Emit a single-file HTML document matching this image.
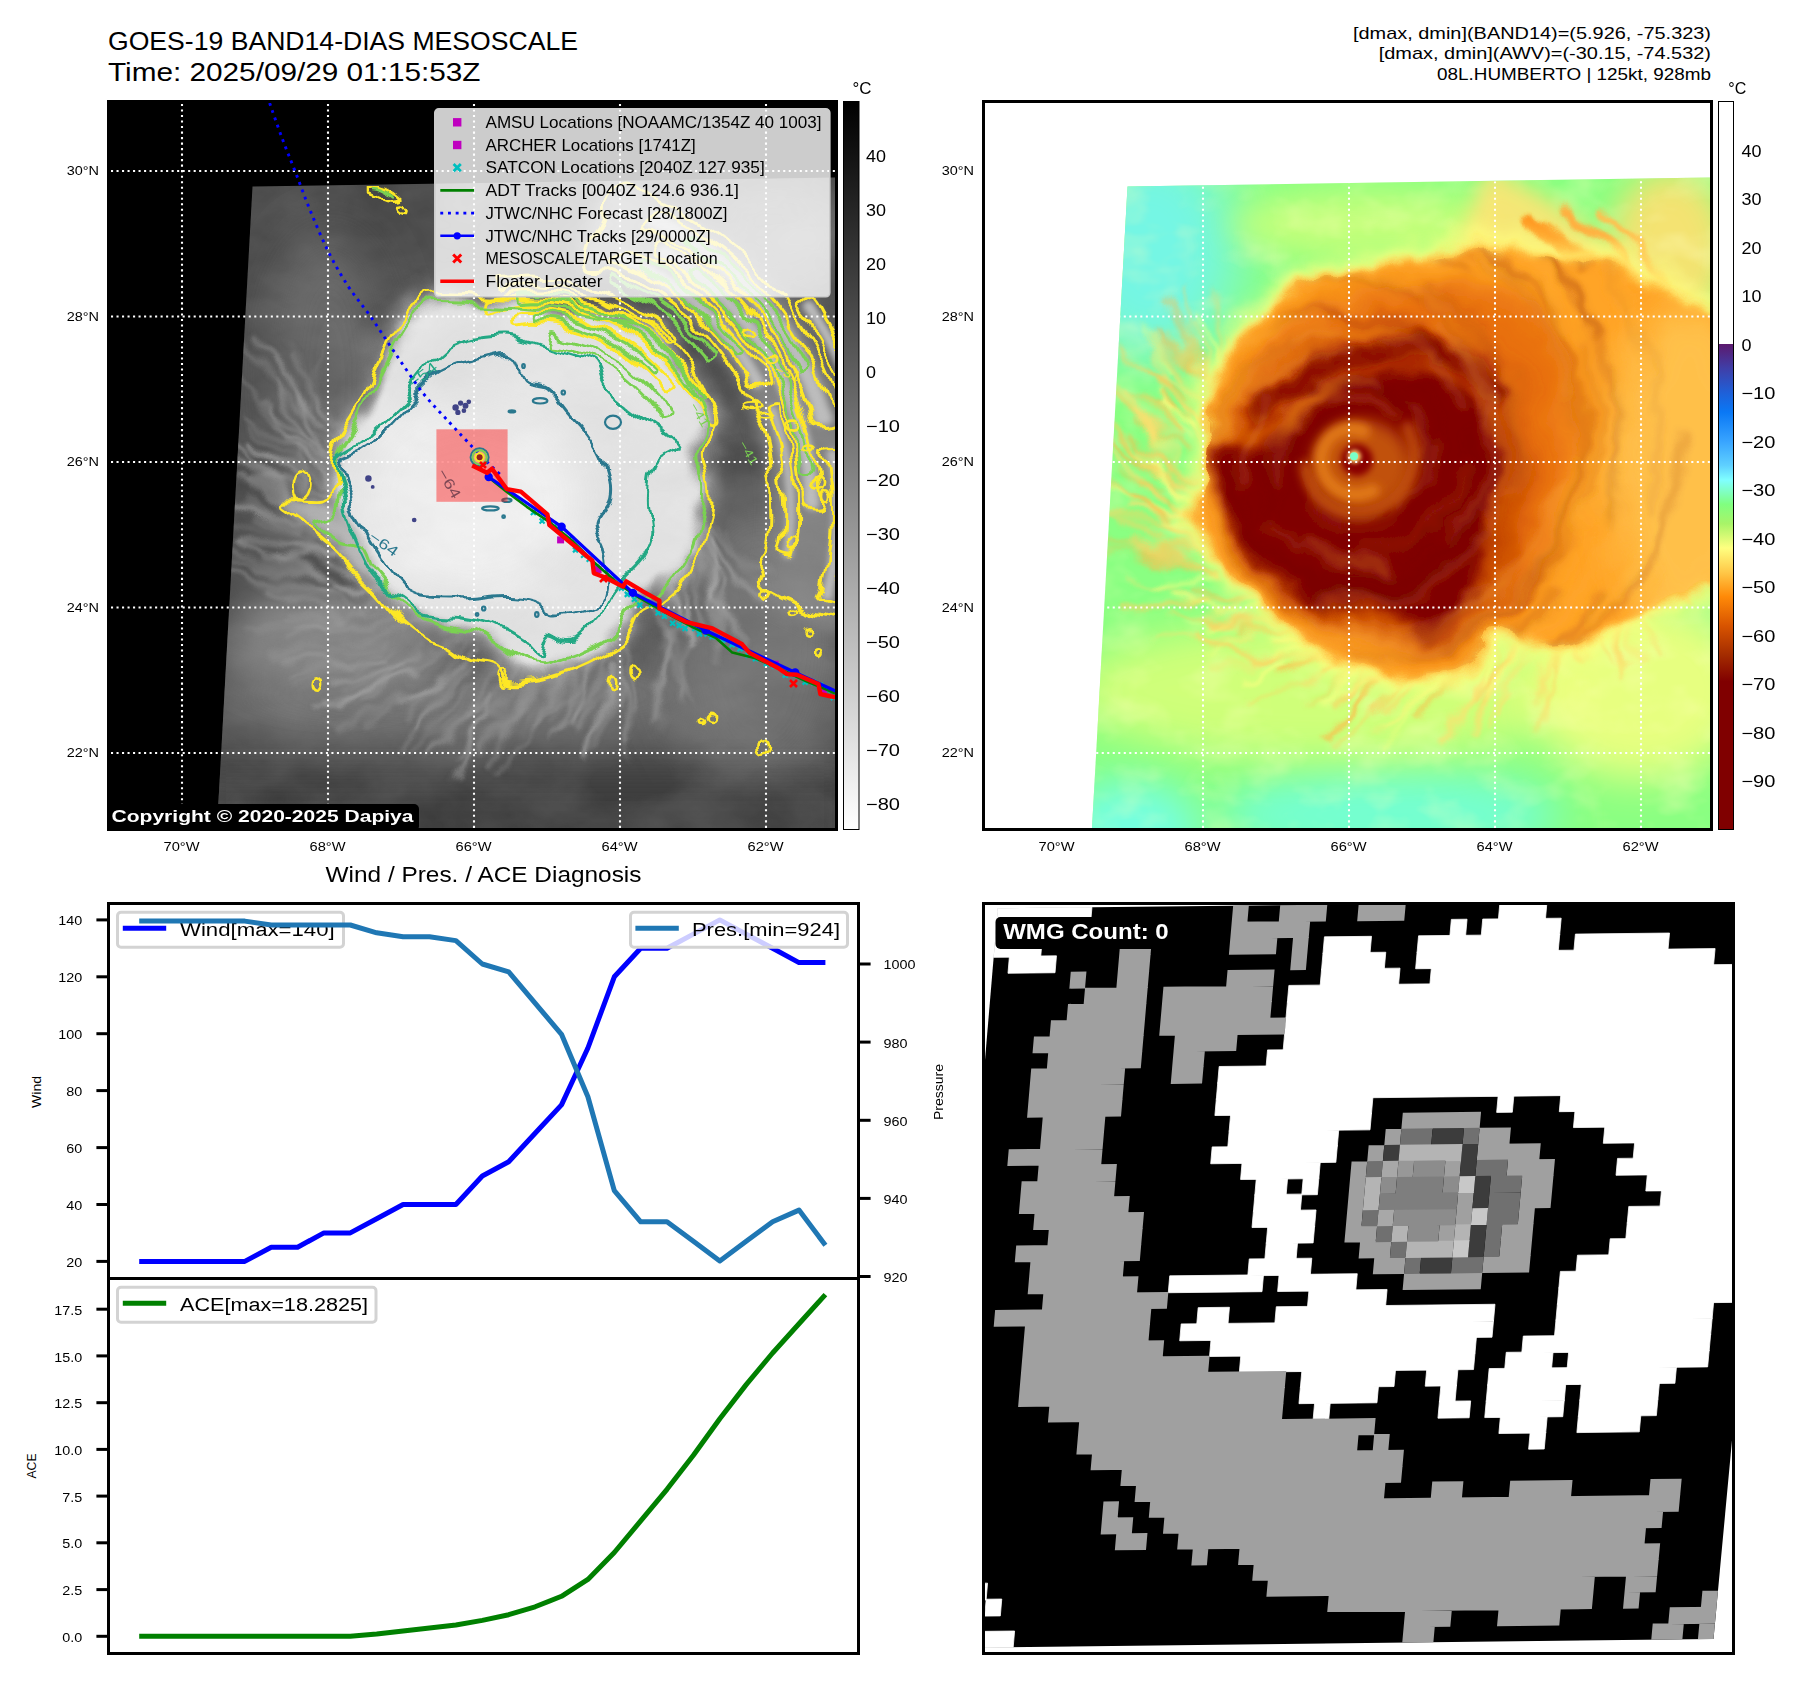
<!DOCTYPE html>
<html><head><meta charset="utf-8"><title>GOES-19 BAND14-DIAS MESOSCALE</title>
<style>
html,body{margin:0;padding:0;background:#fff;}
body{width:1801px;height:1690px;overflow:hidden;}
svg{display:block;position:absolute;left:0;top:0;}
text{font-family:"Liberation Sans",sans-serif;}
</style></head><body>
<svg width="1801" height="1690" viewBox="0 0 1801 1690">
<rect x="0" y="0" width="1801" height="1690" fill="#fff"/>

<defs>
<linearGradient id="cb1" x1="0" y1="0" x2="0" y2="1"><stop offset="0" stop-color="#000"/><stop offset="1" stop-color="#fff"/></linearGradient>
<linearGradient id="cb2" x1="0" y1="0" x2="0" y2="1"><stop offset="0.0000" stop-color="#ffffff"/><stop offset="0.3333" stop-color="#ffffff"/><stop offset="0.3333" stop-color="#5c1a6e"/><stop offset="0.3667" stop-color="#3f3fa8"/><stop offset="0.4000" stop-color="#1f60d8"/><stop offset="0.4267" stop-color="#0a78f5"/><stop offset="0.4667" stop-color="#38a4ff"/><stop offset="0.5000" stop-color="#5fd0ff"/><stop offset="0.5200" stop-color="#80ffff"/><stop offset="0.5533" stop-color="#80ff80"/><stop offset="0.5800" stop-color="#a8f468"/><stop offset="0.6133" stop-color="#ffff80"/><stop offset="0.6467" stop-color="#ffc848"/><stop offset="0.6800" stop-color="#ff8a08"/><stop offset="0.7200" stop-color="#d85400"/><stop offset="0.7600" stop-color="#a42c00"/><stop offset="0.7967" stop-color="#800000"/><stop offset="1.0000" stop-color="#800000"/></linearGradient>
<filter id="b1" x="-100%" y="-100%" width="300%" height="300%"><feGaussianBlur stdDeviation="1"/></filter>
<filter id="b2" x="-100%" y="-100%" width="300%" height="300%"><feGaussianBlur stdDeviation="2"/></filter>
<filter id="b3" x="-100%" y="-100%" width="300%" height="300%"><feGaussianBlur stdDeviation="3"/></filter>
<filter id="b4" x="-100%" y="-100%" width="300%" height="300%"><feGaussianBlur stdDeviation="4"/></filter>
<filter id="b5" x="-100%" y="-100%" width="300%" height="300%"><feGaussianBlur stdDeviation="5"/></filter>
<filter id="b6" x="-100%" y="-100%" width="300%" height="300%"><feGaussianBlur stdDeviation="6"/></filter>
<filter id="b8" x="-100%" y="-100%" width="300%" height="300%"><feGaussianBlur stdDeviation="8"/></filter>
<filter id="b10" x="-100%" y="-100%" width="300%" height="300%"><feGaussianBlur stdDeviation="10"/></filter>
<filter id="b12" x="-100%" y="-100%" width="300%" height="300%"><feGaussianBlur stdDeviation="12"/></filter>
<filter id="b16" x="-100%" y="-100%" width="300%" height="300%"><feGaussianBlur stdDeviation="16"/></filter>
<filter id="b20" x="-100%" y="-100%" width="300%" height="300%"><feGaussianBlur stdDeviation="20"/></filter>
<filter id="b28" x="-100%" y="-100%" width="300%" height="300%"><feGaussianBlur stdDeviation="28"/></filter>
</defs>
<text x="108" y="50" font-size="25.6" textLength="470" lengthAdjust="spacingAndGlyphs">GOES-19 BAND14-DIAS MESOSCALE</text>
<text x="108" y="80.5" font-size="25.6" textLength="372.5" lengthAdjust="spacingAndGlyphs">Time: 2025/09/29 01:15:53Z</text>
<text x="1711" y="38.8" font-size="17" text-anchor="end" textLength="358" lengthAdjust="spacingAndGlyphs">[dmax, dmin](BAND14)=(5.926, -75.323)</text>
<text x="1711" y="59.3" font-size="17" text-anchor="end" textLength="332.3" lengthAdjust="spacingAndGlyphs">[dmax, dmin](AWV)=(-30.15, -74.532)</text>
<text x="1711" y="80.3" font-size="17" text-anchor="end" textLength="274" lengthAdjust="spacingAndGlyphs">08L.HUMBERTO | 125kt, 928mb</text>
<g id="p1">
<clipPath id="c1"><rect x="110" y="103" width="725" height="725"/></clipPath>
<rect x="108" y="101" width="729" height="729" fill="#000"/>
<g clip-path="url(#c1)">
<defs>
<clipPath id="c1p"><polygon points="252.5,186.5 835,177.5 835,828 217,828"/></clipPath>
<filter id="cloud1" x="0" y="0" width="100%" height="100%"><feTurbulence type="fractalNoise" baseFrequency="0.012 0.02" numOctaves="4" seed="7" result="n"/><feColorMatrix in="n" type="matrix" values="0 0 0 0 0.5  0 0 0 0 0.5  0 0 0 0 0.5  0.9 0.9 0 0 -0.55"/></filter>
<filter id="wob1" filterUnits="userSpaceOnUse" x="190" y="150" width="680" height="720"><feTurbulence type="fractalNoise" baseFrequency="0.018" numOctaves="3" seed="9" result="t"/><feDisplacementMap in="SourceGraphic" in2="t" scale="30" xChannelSelector="R" yChannelSelector="G"/></filter>
</defs>
<g clip-path="url(#c1p)">
<rect x="205" y="170" width="640" height="670" fill="#464646"/>
<ellipse cx="470" cy="695" rx="270" ry="55" fill="#707070" filter="url(#b28)"/>
<ellipse cx="330" cy="640" rx="110" ry="50" fill="#808080" filter="url(#b20)"/>
<ellipse cx="760" cy="640" rx="90" ry="150" fill="#707070" filter="url(#b28)"/>
<ellipse cx="330" cy="380" rx="60" ry="150" fill="#646464" filter="url(#b28)"/>
<rect x="200" y="775" width="650" height="80" fill="#3e3e3e" filter="url(#b16)"/>
<ellipse cx="780" cy="240" rx="70" ry="60" fill="#6a6a6a" filter="url(#b20)"/>
<path d="M578.8,263.4C578.2,278.4 596.6,267.8 605.3,270.8C614.0,273.8 622.6,277.4 631.1,281.5C639.5,285.6 647.8,290.2 655.7,295.3C663.7,300.5 671.5,306.1 679.0,312.3C686.4,318.4 693.6,325.1 700.3,332.2C707.1,339.2 713.5,346.8 719.4,354.8C725.4,362.7 730.9,371.1 736.0,379.8C741.0,388.6 745.6,397.7 749.6,407.1C753.6,416.5 757.1,426.2 760.1,436.1C763.0,446.1 765.4,456.3 767.1,466.7C768.8,477.0 770.0,487.6 770.5,498.2C771.0,508.9 770.9,519.7 770.1,530.4C769.4,541.2 768.0,552.0 765.9,562.8C763.9,573.5 745.8,583.5 757.8,594.8C769.8,606.1 822.8,631.6 838.2,630.6C853.6,629.6 846.9,602.9 850.0,588.9C853.0,574.9 855.3,560.7 856.7,546.6C858.0,532.4 858.6,518.2 858.3,504.2C858.0,490.1 856.9,476.1 855.0,462.3C853.1,448.5 850.3,434.8 846.8,421.5C843.4,408.2 839.1,395.1 834.1,382.4C829.1,369.7 823.3,357.3 817.0,345.5C810.6,333.6 803.5,322.1 795.9,311.1C788.2,300.2 779.9,289.7 771.1,279.9C762.3,270.1 752.9,260.7 743.2,252.1C733.4,243.5 723.1,235.4 712.5,228.1C701.9,220.7 690.8,214.0 679.5,208.0C668.3,202.0 656.6,196.8 644.8,192.2C633.1,187.6 619.9,168.8 608.9,180.7C597.9,192.6 579.4,248.4 578.8,263.4Z" fill="#7e7e7e" filter="url(#b8)"/>
<g filter="url(#b3)">
<path d="M615.9,262.0C617.0,264.6 624.0,265.2 628.0,267.0C632.0,268.7 636.0,270.6 639.9,272.6C643.8,274.6 647.7,276.7 651.6,278.9C655.4,281.1 659.2,283.4 662.9,285.8C666.7,288.2 670.4,290.8 674.0,293.4C677.6,296.0 681.2,298.8 684.7,301.6C688.2,304.5 691.7,307.4 695.1,310.4C698.4,313.5 701.7,316.6 705.0,319.9C708.2,323.1 711.3,326.4 714.4,329.9C717.5,333.3 720.5,336.8 723.4,340.4C726.3,344.0 729.1,347.7 731.8,351.5C734.5,355.3 737.2,359.1 739.7,363.1C742.2,367.0 744.7,371.1 747.0,375.1C749.4,379.2 750.7,386.3 753.7,387.7C756.7,389.1 764.3,386.4 765.0,383.6C765.7,380.7 760.5,374.7 758.1,370.5C755.6,366.2 753.1,362.0 750.5,357.8C747.9,353.7 745.1,349.6 742.3,345.7C739.5,341.7 736.6,337.8 733.6,334.1C730.5,330.3 727.4,326.6 724.2,323.0C721.1,319.4 717.8,315.9 714.4,312.5C711.1,309.1 707.6,305.8 704.1,302.6C700.6,299.4 697.0,296.3 693.4,293.3C689.7,290.3 686.0,287.4 682.2,284.6C678.4,281.8 674.6,279.2 670.7,276.6C666.8,274.1 662.8,271.6 658.8,269.3C654.8,266.9 650.7,264.7 646.6,262.6C642.5,260.5 638.4,258.5 634.2,256.7C630.0,254.8 624.6,250.5 621.5,251.4C618.5,252.3 614.8,259.4 615.9,262.0Z" fill="#bdbdbd"/>
<path d="M656.4,256.6C658.1,260.2 668.4,263.3 674.2,267.1C680.0,270.8 685.7,274.8 691.2,279.0C696.8,283.2 702.2,287.6 707.5,292.2C712.7,296.9 717.9,301.8 722.8,306.8C727.7,311.9 732.5,317.2 737.1,322.7C741.6,328.1 746.0,333.8 750.2,339.7C754.4,345.5 758.4,351.6 762.1,357.8C765.9,364.0 769.5,370.3 772.8,376.9C776.1,383.4 779.1,390.1 782.0,396.9C784.8,403.7 787.4,410.6 789.7,417.7C792.0,424.7 794.1,431.9 795.9,439.2C797.7,446.4 799.2,453.8 800.5,461.2C801.7,468.7 802.7,476.2 803.4,483.8C804.1,491.3 802.1,502.6 804.6,506.6C807.1,510.7 816.4,511.6 818.5,507.9C820.7,504.1 818.1,491.9 817.4,484.0C816.7,476.0 815.7,468.2 814.4,460.4C813.2,452.6 811.6,444.9 809.7,437.3C807.9,429.6 805.8,422.1 803.4,414.7C801.0,407.3 798.3,400.0 795.4,392.9C792.5,385.8 789.3,378.7 785.9,371.9C782.4,365.1 778.7,358.4 774.8,351.8C770.9,345.3 766.8,339.0 762.4,332.8C758.1,326.7 753.5,320.7 748.7,314.9C744.0,309.2 739.0,303.6 733.8,298.2C728.7,292.9 723.4,287.8 717.9,282.9C712.4,278.0 706.7,273.3 700.9,268.8C695.1,264.4 689.1,260.2 683.1,256.2C677.0,252.3 668.9,245.1 664.5,245.1C660.0,245.2 654.8,252.9 656.4,256.6Z" fill="#bdbdbd"/>
<path d="M647.0,225.4C648.4,229.0 658.2,230.5 663.7,233.4C669.1,236.3 674.6,239.3 679.9,242.5C685.2,245.7 690.5,249.1 695.6,252.7C700.8,256.3 705.8,260.0 710.8,263.9C715.7,267.8 720.6,271.9 725.3,276.1C730.0,280.4 734.6,284.8 739.1,289.3C743.5,293.9 747.9,298.6 752.1,303.5C756.3,308.3 760.4,313.4 764.3,318.5C768.2,323.7 772.0,328.9 775.6,334.4C779.2,339.8 782.6,345.3 785.9,351.0C789.2,356.7 792.3,362.5 795.2,368.4C798.1,374.3 800.9,380.3 803.5,386.4C806.0,392.5 808.4,398.7 810.6,405.0C812.8,411.3 813.0,421.4 816.6,424.2C820.2,426.9 830.8,425.2 832.4,421.4C834.0,417.6 828.4,407.9 826.2,401.3C823.9,394.6 821.4,388.1 818.8,381.7C816.1,375.3 813.2,368.9 810.2,362.7C807.1,356.5 803.9,350.4 800.5,344.4C797.1,338.5 793.5,332.6 789.7,326.9C785.9,321.2 782.0,315.6 777.9,310.2C773.8,304.7 769.6,299.4 765.2,294.3C760.8,289.2 756.3,284.2 751.6,279.4C746.9,274.6 742.1,269.9 737.1,265.4C732.2,260.9 727.1,256.6 721.9,252.5C716.8,248.3 711.5,244.3 706.1,240.6C700.7,236.8 695.1,233.2 689.6,229.8C684.0,226.3 678.3,223.1 672.5,220.1C666.8,217.0 659.3,210.6 655.0,211.5C650.7,212.4 645.6,221.7 647.0,225.4Z" fill="#bdbdbd"/>
<path d="M767.3,408.4C766.6,410.3 769.8,414.9 771.0,418.2C772.1,421.4 773.2,424.8 774.2,428.1C775.3,431.5 776.2,434.8 777.2,438.2C778.1,441.6 778.9,445.0 779.7,448.5C780.5,451.9 781.2,455.4 781.9,458.9C782.5,462.4 783.1,465.9 783.6,469.4C784.1,472.9 784.6,476.4 785.0,480.0C785.4,483.6 785.7,487.1 786.0,490.7C786.2,494.3 786.4,497.9 786.6,501.5C786.7,505.1 786.7,508.7 786.7,512.3C786.7,515.9 786.6,519.6 786.5,523.2C786.3,526.8 786.1,530.4 785.8,534.1C785.5,537.7 785.2,541.4 784.7,545.0C784.3,548.6 782.2,553.7 783.3,555.9C784.3,558.1 789.4,559.5 791.0,558.0C792.5,556.4 792.1,550.5 792.5,546.8C793.0,543.0 793.4,539.3 793.7,535.6C794.0,531.8 794.2,528.1 794.4,524.4C794.6,520.6 794.6,516.9 794.7,513.2C794.7,509.5 794.6,505.8 794.5,502.1C794.4,498.4 794.2,494.7 794.0,491.0C793.7,487.3 793.4,483.7 793.0,480.0C792.6,476.3 792.1,472.7 791.6,469.1C791.1,465.5 790.5,461.9 789.8,458.3C789.2,454.7 788.4,451.1 787.6,447.6C786.9,444.0 786.0,440.5 785.1,437.0C784.1,433.5 783.2,430.1 782.1,426.6C781.1,423.2 779.9,419.8 778.8,416.4C777.6,413.0 777.0,407.6 775.0,406.3C773.1,405.0 768.0,406.4 767.3,408.4Z" fill="#bdbdbd"/>
<path d="M827.0,451.4C825.6,453.2 828.2,458.1 828.7,461.5C829.2,464.9 829.7,468.3 830.1,471.8C830.5,475.2 830.9,478.6 831.2,482.1C831.5,485.5 831.7,489.0 831.9,492.4C832.1,495.9 832.3,499.4 832.4,502.8C832.5,506.3 832.5,509.8 832.5,513.3C832.5,516.8 832.4,520.2 832.3,523.7C832.1,527.2 831.9,530.7 831.7,534.2C831.5,537.7 831.2,541.2 830.8,544.7C830.5,548.2 830.1,551.7 829.6,555.2C829.1,558.7 828.6,562.2 828.0,565.7C827.5,569.2 826.8,572.7 826.2,576.2C825.5,579.6 824.7,583.1 823.9,586.6C823.1,590.1 820.2,594.7 821.4,597.0C822.5,599.3 828.8,601.6 830.8,600.4C832.8,599.2 832.6,593.3 833.4,589.7C834.3,586.2 835.0,582.6 835.7,579.0C836.5,575.4 837.1,571.8 837.7,568.2C838.3,564.6 838.9,561.1 839.3,557.5C839.8,553.9 840.3,550.3 840.6,546.7C841.0,543.1 841.3,539.4 841.6,535.8C841.8,532.2 842.0,528.6 842.2,525.0C842.3,521.5 842.4,517.9 842.4,514.3C842.5,510.7 842.4,507.1 842.4,503.5C842.3,499.9 842.1,496.4 841.9,492.8C841.7,489.2 841.5,485.7 841.2,482.1C840.9,478.6 840.5,475.0 840.1,471.5C839.7,468.0 839.2,464.5 838.7,461.0C838.2,457.5 838.9,452.1 837.0,450.5C835.0,448.9 828.4,449.6 827.0,451.4Z" fill="#bdbdbd"/>
<path d="M801.8,305.8C801.8,309.1 808.4,315.4 811.5,320.3C814.6,325.2 817.6,330.3 820.5,335.4C823.4,340.5 826.2,345.7 828.8,351.0C831.4,356.2 833.9,361.6 836.3,367.0C838.7,372.4 840.9,377.9 843.0,383.5C845.1,389.0 847.1,394.7 849.0,400.4C850.8,406.0 852.5,411.8 854.0,417.6C855.6,423.4 857.0,429.2 858.3,435.1C859.5,441.0 860.7,446.9 861.6,452.9C862.6,458.9 863.4,464.9 864.1,470.9C864.8,477.0 865.3,483.0 865.7,489.1C866.0,495.2 866.3,501.3 866.3,507.5C866.4,513.6 866.3,519.7 866.1,525.9C865.8,532.0 863.3,540.9 864.9,544.3C866.5,547.7 873.7,549.1 875.7,546.2C877.7,543.4 876.7,533.6 877.0,527.2C877.2,520.9 877.4,514.6 877.3,508.3C877.2,502.0 877.0,495.7 876.7,489.4C876.3,483.1 875.8,476.9 875.1,470.6C874.4,464.4 873.6,458.2 872.6,452.1C871.6,445.9 870.5,439.8 869.2,433.7C867.9,427.7 866.5,421.6 864.9,415.7C863.3,409.7 861.6,403.8 859.7,397.9C857.8,392.0 855.8,386.2 853.6,380.5C851.5,374.8 849.2,369.1 846.7,363.5C844.3,357.9 841.7,352.4 839.0,346.9C836.3,341.5 833.5,336.1 830.6,330.8C827.6,325.6 824.5,320.4 821.3,315.3C818.1,310.2 814.6,301.8 811.3,300.2C808.1,298.7 801.8,302.4 801.8,305.8Z" fill="#bdbdbd"/>
<path d="M853.3,351.4C853.2,353.5 856.6,358.5 858.1,362.2C859.6,365.8 861.1,369.4 862.5,373.1C864.0,376.8 865.3,380.5 866.6,384.2C868.0,387.9 869.2,391.7 870.4,395.5C871.6,399.2 872.7,403.0 873.8,406.9C874.9,410.7 875.9,414.5 876.9,418.4C877.9,422.2 878.8,426.1 879.6,430.0C880.4,433.9 881.2,437.8 881.9,441.8C882.7,445.7 883.3,449.7 883.9,453.6C884.5,457.6 885.1,461.6 885.6,465.6C886.0,469.6 886.4,473.6 886.8,477.6C887.1,481.6 887.4,485.6 887.7,489.7C887.9,493.7 888.1,497.7 888.2,501.8C888.3,505.8 887.3,511.9 888.3,514.0C889.3,516.1 893.3,516.5 894.2,514.5C895.2,512.5 894.2,506.2 894.1,502.1C894.1,498.0 893.9,493.9 893.7,489.8C893.4,485.7 893.1,481.6 892.8,477.6C892.4,473.5 892.0,469.4 891.5,465.3C891.1,461.3 890.5,457.3 889.9,453.2C889.3,449.2 888.6,445.2 887.9,441.2C887.2,437.2 886.4,433.2 885.5,429.2C884.7,425.3 883.8,421.3 882.8,417.4C881.8,413.5 880.8,409.6 879.7,405.7C878.6,401.8 877.5,398.0 876.3,394.1C875.0,390.3 873.8,386.5 872.4,382.7C871.1,378.9 869.7,375.1 868.3,371.4C866.8,367.7 865.3,364.0 863.8,360.3C862.2,356.6 860.7,350.8 859.0,349.3C857.2,347.9 853.5,349.3 853.3,351.4Z" fill="#bdbdbd"/>
</g>
<g filter="url(#wob1)">
<g filter="url(#b2)" stroke-linecap="round" fill="none">
<path d="M419,656L345,704" stroke="rgb(161,161,161)" stroke-width="5.6" opacity="0.51"/>
<path d="M439,686L333,727" stroke="rgb(140,140,140)" stroke-width="5.9" opacity="0.51"/>
<path d="M501,697L453,757" stroke="rgb(139,139,139)" stroke-width="4.3" opacity="0.66"/>
<path d="M321,582L231,551" stroke="rgb(137,137,137)" stroke-width="5.7" opacity="0.52"/>
<path d="M382,590L328,562" stroke="rgb(138,138,138)" stroke-width="6.0" opacity="0.70"/>
<path d="M702,550L736,628" stroke="rgb(152,152,152)" stroke-width="3.5" opacity="0.30"/>
<path d="M455,651L409,687" stroke="rgb(127,127,127)" stroke-width="5.6" opacity="0.45"/>
<path d="M383,637L308,680" stroke="rgb(125,125,125)" stroke-width="2.9" opacity="0.43"/>
<path d="M699,543L724,581" stroke="rgb(161,161,161)" stroke-width="3.9" opacity="0.54"/>
<path d="M322,546L254,502" stroke="rgb(151,151,151)" stroke-width="2.7" opacity="0.49"/>
<path d="M551,687L491,718" stroke="rgb(120,120,120)" stroke-width="5.8" opacity="0.55"/>
<path d="M329,594L224,570" stroke="rgb(151,151,151)" stroke-width="5.1" opacity="0.49"/>
<path d="M342,614L246,632" stroke="rgb(137,137,137)" stroke-width="4.0" opacity="0.50"/>
<path d="M635,664L630,763" stroke="rgb(121,121,121)" stroke-width="5.2" opacity="0.43"/>
<path d="M339,442L273,359" stroke="rgb(140,140,140)" stroke-width="4.7" opacity="0.41"/>
<path d="M383,642L271,659" stroke="rgb(147,147,147)" stroke-width="5.8" opacity="0.43"/>
<path d="M386,615L289,632" stroke="rgb(122,122,122)" stroke-width="5.5" opacity="0.55"/>
<path d="M362,576L320,566" stroke="rgb(157,157,157)" stroke-width="2.8" opacity="0.35"/>
<path d="M334,497L265,480" stroke="rgb(163,163,163)" stroke-width="5.2" opacity="0.53"/>
<path d="M316,411L321,348" stroke="rgb(146,146,146)" stroke-width="2.6" opacity="0.34"/>
<path d="M319,503L239,460" stroke="rgb(133,133,133)" stroke-width="5.3" opacity="0.39"/>
<path d="M688,576L718,663" stroke="rgb(175,175,175)" stroke-width="3.6" opacity="0.31"/>
<path d="M351,625L257,634" stroke="rgb(138,138,138)" stroke-width="4.7" opacity="0.43"/>
<path d="M681,583L693,641" stroke="rgb(148,148,148)" stroke-width="3.4" opacity="0.65"/>
<path d="M442,679L397,705" stroke="rgb(153,153,153)" stroke-width="3.0" opacity="0.62"/>
<path d="M439,655L379,700" stroke="rgb(121,121,121)" stroke-width="2.6" opacity="0.36"/>
<path d="M674,626L662,686" stroke="rgb(172,172,172)" stroke-width="2.5" opacity="0.48"/>
<path d="M544,659L519,732" stroke="rgb(122,122,122)" stroke-width="3.5" opacity="0.46"/>
<path d="M694,523L763,572" stroke="rgb(144,144,144)" stroke-width="3.7" opacity="0.62"/>
<path d="M700,533L757,600" stroke="rgb(170,170,170)" stroke-width="5.7" opacity="0.55"/>
<path d="M319,576L242,542" stroke="rgb(175,175,175)" stroke-width="5.6" opacity="0.47"/>
<path d="M335,527L252,481" stroke="rgb(160,160,160)" stroke-width="4.0" opacity="0.54"/>
<path d="M359,588L287,575" stroke="rgb(126,126,126)" stroke-width="3.8" opacity="0.48"/>
<path d="M621,668L607,708" stroke="rgb(141,141,141)" stroke-width="4.2" opacity="0.37"/>
<path d="M517,687L489,716" stroke="rgb(153,153,153)" stroke-width="3.9" opacity="0.36"/>
<path d="M315,464L242,415" stroke="rgb(126,126,126)" stroke-width="5.6" opacity="0.51"/>
<path d="M547,676L476,751" stroke="rgb(151,151,151)" stroke-width="3.2" opacity="0.64"/>
<path d="M688,633L683,705" stroke="rgb(163,163,163)" stroke-width="3.3" opacity="0.40"/>
<path d="M605,677L558,735" stroke="rgb(139,139,139)" stroke-width="5.6" opacity="0.62"/>
<path d="M658,618L684,699" stroke="rgb(158,158,158)" stroke-width="4.0" opacity="0.50"/>
<path d="M559,680L523,720" stroke="rgb(135,135,135)" stroke-width="4.4" opacity="0.41"/>
<path d="M312,525L238,475" stroke="rgb(141,141,141)" stroke-width="5.4" opacity="0.40"/>
<path d="M733,534L752,586" stroke="rgb(133,133,133)" stroke-width="2.6" opacity="0.59"/>
<path d="M706,549L718,619" stroke="rgb(147,147,147)" stroke-width="5.4" opacity="0.57"/>
<path d="M333,535L233,507" stroke="rgb(154,154,154)" stroke-width="4.4" opacity="0.60"/>
<path d="M380,601L292,640" stroke="rgb(147,147,147)" stroke-width="4.6" opacity="0.59"/>
<path d="M540,651L494,695" stroke="rgb(149,149,149)" stroke-width="5.3" opacity="0.45"/>
<path d="M594,647L567,702" stroke="rgb(139,139,139)" stroke-width="3.1" opacity="0.68"/>
<path d="M524,686L489,765" stroke="rgb(129,129,129)" stroke-width="5.7" opacity="0.56"/>
<path d="M526,654L492,718" stroke="rgb(130,130,130)" stroke-width="4.0" opacity="0.66"/>
<path d="M366,606L313,590" stroke="rgb(159,159,159)" stroke-width="3.2" opacity="0.43"/>
<path d="M324,597L256,566" stroke="rgb(142,142,142)" stroke-width="3.1" opacity="0.41"/>
<path d="M332,598L291,594" stroke="rgb(121,121,121)" stroke-width="5.7" opacity="0.61"/>
<path d="M438,650L360,683" stroke="rgb(159,159,159)" stroke-width="3.2" opacity="0.31"/>
<path d="M299,536L225,499" stroke="rgb(147,147,147)" stroke-width="3.8" opacity="0.62"/>
<path d="M561,688L497,773" stroke="rgb(129,129,129)" stroke-width="4.9" opacity="0.50"/>
<path d="M611,661L604,752" stroke="rgb(133,133,133)" stroke-width="4.3" opacity="0.56"/>
<path d="M685,600L691,649" stroke="rgb(173,173,173)" stroke-width="5.3" opacity="0.69"/>
<path d="M668,577L678,626" stroke="rgb(149,149,149)" stroke-width="4.2" opacity="0.58"/>
<path d="M560,662L550,722" stroke="rgb(132,132,132)" stroke-width="5.4" opacity="0.36"/>
<path d="M624,664L614,702" stroke="rgb(143,143,143)" stroke-width="3.9" opacity="0.61"/>
<path d="M335,598L254,582" stroke="rgb(126,126,126)" stroke-width="2.6" opacity="0.52"/>
<path d="M580,685L552,740" stroke="rgb(152,152,152)" stroke-width="2.9" opacity="0.43"/>
<path d="M651,590L679,680" stroke="rgb(121,121,121)" stroke-width="5.0" opacity="0.64"/>
<path d="M426,646L349,687" stroke="rgb(137,137,137)" stroke-width="5.2" opacity="0.50"/>
<path d="M700,559L739,645" stroke="rgb(166,166,166)" stroke-width="4.3" opacity="0.47"/>
<path d="M672,597L658,648" stroke="rgb(131,131,131)" stroke-width="5.6" opacity="0.44"/>
<path d="M550,677L519,711" stroke="rgb(143,143,143)" stroke-width="5.2" opacity="0.66"/>
<path d="M315,577L238,563" stroke="rgb(152,152,152)" stroke-width="5.8" opacity="0.39"/>
<path d="M382,588L335,592" stroke="rgb(161,161,161)" stroke-width="4.3" opacity="0.50"/>
<path d="M621,664L580,724" stroke="rgb(172,172,172)" stroke-width="3.3" opacity="0.37"/>
<path d="M298,505L229,438" stroke="rgb(171,171,171)" stroke-width="3.7" opacity="0.55"/>
<path d="M380,650L293,680" stroke="rgb(163,163,163)" stroke-width="2.5" opacity="0.48"/>
<path d="M293,467L212,434" stroke="rgb(133,133,133)" stroke-width="4.8" opacity="0.37"/>
<path d="M427,620L347,642" stroke="rgb(141,141,141)" stroke-width="5.0" opacity="0.66"/>
<path d="M619,653L632,744" stroke="rgb(147,147,147)" stroke-width="5.6" opacity="0.58"/>
<path d="M712,546L714,598" stroke="rgb(169,169,169)" stroke-width="5.8" opacity="0.62"/>
<path d="M562,643L543,676" stroke="rgb(157,157,157)" stroke-width="2.9" opacity="0.37"/>
<path d="M709,584L715,629" stroke="rgb(167,167,167)" stroke-width="3.7" opacity="0.48"/>
<path d="M490,699L451,779" stroke="rgb(159,159,159)" stroke-width="4.9" opacity="0.62"/>
<path d="M334,583L265,558" stroke="rgb(157,157,157)" stroke-width="3.1" opacity="0.33"/>
<path d="M333,554L245,539" stroke="rgb(146,146,146)" stroke-width="5.9" opacity="0.61"/>
<path d="M418,671L316,712" stroke="rgb(167,167,167)" stroke-width="4.1" opacity="0.53"/>
<path d="M344,617L265,587" stroke="rgb(164,164,164)" stroke-width="5.7" opacity="0.38"/>
<path d="M676,609L658,683" stroke="rgb(145,145,145)" stroke-width="3.8" opacity="0.30"/>
<path d="M695,560L701,626" stroke="rgb(144,144,144)" stroke-width="4.6" opacity="0.50"/>
<path d="M346,542L310,521" stroke="rgb(127,127,127)" stroke-width="3.8" opacity="0.38"/>
<path d="M534,665L498,716" stroke="rgb(127,127,127)" stroke-width="3.6" opacity="0.57"/>
<path d="M344,424L289,354" stroke="rgb(175,175,175)" stroke-width="2.7" opacity="0.41"/>
<path d="M335,477L285,431" stroke="rgb(153,153,153)" stroke-width="2.6" opacity="0.60"/>
<path d="M380,640L284,651" stroke="rgb(122,122,122)" stroke-width="3.9" opacity="0.36"/>
<path d="M295,509L249,461" stroke="rgb(135,135,135)" stroke-width="3.7" opacity="0.54"/>
<path d="M334,548L248,506" stroke="rgb(143,143,143)" stroke-width="5.8" opacity="0.38"/>
<path d="M368,612L305,596" stroke="rgb(136,136,136)" stroke-width="3.5" opacity="0.45"/>
<path d="M540,667L496,707" stroke="rgb(134,134,134)" stroke-width="5.1" opacity="0.34"/>
<path d="M726,580L716,648" stroke="rgb(157,157,157)" stroke-width="4.2" opacity="0.65"/>
<path d="M418,672L327,703" stroke="rgb(162,162,162)" stroke-width="3.8" opacity="0.55"/>
<path d="M314,545L260,524" stroke="rgb(157,157,157)" stroke-width="3.9" opacity="0.46"/>
<path d="M299,471L273,405" stroke="rgb(155,155,155)" stroke-width="3.1" opacity="0.60"/>
<path d="M493,697L411,746" stroke="rgb(126,126,126)" stroke-width="5.5" opacity="0.48"/>
<path d="M696,566L743,640" stroke="rgb(172,172,172)" stroke-width="2.6" opacity="0.48"/>
<path d="M490,668L439,737" stroke="rgb(123,123,123)" stroke-width="3.1" opacity="0.69"/>
<path d="M613,663L590,761" stroke="rgb(174,174,174)" stroke-width="5.5" opacity="0.64"/>
<path d="M317,454L306,396" stroke="rgb(170,170,170)" stroke-width="5.0" opacity="0.54"/>
<path d="M340,424L283,341" stroke="rgb(132,132,132)" stroke-width="2.5" opacity="0.36"/>
<path d="M419,647L337,703" stroke="rgb(122,122,122)" stroke-width="2.6" opacity="0.59"/>
<path d="M303,455L234,369" stroke="rgb(165,165,165)" stroke-width="3.3" opacity="0.37"/>
<path d="M331,565L290,547" stroke="rgb(174,174,174)" stroke-width="3.6" opacity="0.32"/>
<path d="M670,591L687,630" stroke="rgb(167,167,167)" stroke-width="6.0" opacity="0.66"/>
<path d="M340,555L279,547" stroke="rgb(157,157,157)" stroke-width="2.9" opacity="0.38"/>
<path d="M324,486L244,424" stroke="rgb(133,133,133)" stroke-width="2.7" opacity="0.65"/>
<path d="M455,651L400,671" stroke="rgb(126,126,126)" stroke-width="4.5" opacity="0.58"/>
<path d="M392,651L336,679" stroke="rgb(147,147,147)" stroke-width="3.4" opacity="0.55"/>
<path d="M310,447L278,381" stroke="rgb(149,149,149)" stroke-width="3.8" opacity="0.69"/>
<path d="M541,675L475,748" stroke="rgb(155,155,155)" stroke-width="3.9" opacity="0.37"/>
<path d="M473,654L416,727" stroke="rgb(154,154,154)" stroke-width="3.7" opacity="0.61"/>
<path d="M447,678L365,725" stroke="rgb(159,159,159)" stroke-width="2.9" opacity="0.50"/>
<path d="M318,486L268,456" stroke="rgb(151,151,151)" stroke-width="4.0" opacity="0.56"/>
<path d="M335,476L293,435" stroke="rgb(163,163,163)" stroke-width="4.0" opacity="0.43"/>
<path d="M603,671L572,714" stroke="rgb(130,130,130)" stroke-width="5.3" opacity="0.68"/>
<path d="M572,651L529,726" stroke="rgb(171,171,171)" stroke-width="4.6" opacity="0.44"/>
<path d="M336,425L321,395" stroke="rgb(155,155,155)" stroke-width="3.7" opacity="0.45"/>
<path d="M439,654L367,681" stroke="rgb(131,131,131)" stroke-width="5.0" opacity="0.38"/>
<path d="M474,669L423,702" stroke="rgb(134,134,134)" stroke-width="4.8" opacity="0.41"/>
<path d="M334,495L292,445" stroke="rgb(149,149,149)" stroke-width="4.5" opacity="0.69"/>
<path d="M328,445L300,403" stroke="rgb(124,124,124)" stroke-width="3.5" opacity="0.59"/>
<path d="M627,615L633,706" stroke="rgb(150,150,150)" stroke-width="3.8" opacity="0.59"/>
<path d="M326,421L260,344" stroke="rgb(163,163,163)" stroke-width="4.1" opacity="0.53"/>
<path d="M660,625L665,727" stroke="rgb(120,120,120)" stroke-width="2.7" opacity="0.69"/>
<path d="M601,657L582,727" stroke="rgb(141,141,141)" stroke-width="4.3" opacity="0.55"/>
<path d="M538,676L501,734" stroke="rgb(150,150,150)" stroke-width="5.9" opacity="0.50"/>
<path d="M671,571L665,615" stroke="rgb(159,159,159)" stroke-width="4.1" opacity="0.53"/>
<path d="M458,669L410,702" stroke="rgb(169,169,169)" stroke-width="3.7" opacity="0.62"/>
<path d="M451,648L366,700" stroke="rgb(163,163,163)" stroke-width="3.3" opacity="0.47"/>
<path d="M465,673L412,703" stroke="rgb(127,127,127)" stroke-width="5.2" opacity="0.39"/>
<path d="M468,646L405,718" stroke="rgb(164,164,164)" stroke-width="3.3" opacity="0.39"/>
<path d="M570,657L544,708" stroke="rgb(146,146,146)" stroke-width="5.4" opacity="0.55"/>
<path d="M314,534L259,479" stroke="rgb(136,136,136)" stroke-width="3.1" opacity="0.51"/>
<path d="M376,650L297,687" stroke="rgb(136,136,136)" stroke-width="2.5" opacity="0.63"/>
<path d="M468,690L428,730" stroke="rgb(169,169,169)" stroke-width="2.6" opacity="0.40"/>
<path d="M572,688L535,723" stroke="rgb(175,175,175)" stroke-width="2.7" opacity="0.41"/>
<path d="M722,530L759,588" stroke="rgb(127,127,127)" stroke-width="4.9" opacity="0.45"/>
<path d="M571,642L563,730" stroke="rgb(157,157,157)" stroke-width="4.8" opacity="0.41"/>
<path d="M366,590L328,587" stroke="rgb(165,165,165)" stroke-width="4.8" opacity="0.68"/>
<path d="M462,642L427,660" stroke="rgb(133,133,133)" stroke-width="4.3" opacity="0.64"/>
<path d="M291,512L237,477" stroke="rgb(153,153,153)" stroke-width="5.5" opacity="0.41"/>
<path d="M344,499L299,451" stroke="rgb(161,161,161)" stroke-width="4.2" opacity="0.40"/>
<path d="M362,553L278,556" stroke="rgb(165,165,165)" stroke-width="5.7" opacity="0.58"/>
<path d="M381,611L323,608" stroke="rgb(148,148,148)" stroke-width="2.8" opacity="0.49"/>
<path d="M386,660L283,664" stroke="rgb(164,164,164)" stroke-width="3.0" opacity="0.63"/>
<path d="M466,675L398,744" stroke="rgb(167,167,167)" stroke-width="2.7" opacity="0.48"/>
<path d="M309,546L233,524" stroke="rgb(138,138,138)" stroke-width="4.2" opacity="0.36"/>
<path d="M583,653L575,722" stroke="rgb(168,168,168)" stroke-width="3.0" opacity="0.65"/>
<path d="M691,515L769,571" stroke="rgb(145,145,145)" stroke-width="2.6" opacity="0.33"/>
<path d="M500,662L466,715" stroke="rgb(153,153,153)" stroke-width="3.0" opacity="0.65"/>
<path d="M667,630L659,716" stroke="rgb(161,161,161)" stroke-width="5.1" opacity="0.61"/>
<path d="M353,632L274,660" stroke="rgb(136,136,136)" stroke-width="4.5" opacity="0.57"/>
<path d="M617,680L598,754" stroke="rgb(130,130,130)" stroke-width="4.3" opacity="0.41"/>
<path d="M299,484L246,441" stroke="rgb(160,160,160)" stroke-width="5.4" opacity="0.69"/>
<path d="M357,622L295,616" stroke="rgb(144,144,144)" stroke-width="4.0" opacity="0.49"/>
<path d="M657,624L696,706" stroke="rgb(134,134,134)" stroke-width="4.0" opacity="0.47"/>
<path d="M491,696L428,751" stroke="rgb(157,157,157)" stroke-width="4.7" opacity="0.59"/>
<path d="M406,666L330,681" stroke="rgb(162,162,162)" stroke-width="4.7" opacity="0.61"/>
<path d="M371,647L317,660" stroke="rgb(145,145,145)" stroke-width="4.6" opacity="0.31"/>
<path d="M328,460L263,398" stroke="rgb(150,150,150)" stroke-width="3.8" opacity="0.61"/>
<path d="M286,495L222,450" stroke="rgb(156,156,156)" stroke-width="6.0" opacity="0.47"/>
<path d="M304,409L234,339" stroke="rgb(140,140,140)" stroke-width="3.7" opacity="0.55"/>
<path d="M395,620L300,631" stroke="rgb(165,165,165)" stroke-width="4.5" opacity="0.32"/>
<path d="M377,625L290,622" stroke="rgb(138,138,138)" stroke-width="5.8" opacity="0.60"/>
<path d="M670,626L690,698" stroke="rgb(141,141,141)" stroke-width="3.7" opacity="0.50"/>
</g>
<path d="M430.7,303.0C418.0,304.9 419.1,310.7 414.2,316.3C409.2,321.8 405.3,328.4 400.9,336.1C396.5,343.9 391.5,354.9 387.7,362.7C383.8,370.4 381.0,375.4 377.7,382.5C374.4,389.7 371.6,398.0 367.8,405.7C363.9,413.5 358.9,421.7 354.5,428.9C350.1,436.1 344.6,442.2 341.3,448.8C338.0,455.4 334.9,461.0 334.6,468.7C334.4,476.4 336.9,486.4 339.6,495.2C342.4,504.0 347.1,512.9 351.2,521.7C355.4,530.5 360.6,540.5 364.5,548.2C368.3,555.9 370.5,562.0 374.4,568.1C378.3,574.2 383.2,578.6 387.7,584.7C392.1,590.7 394.8,599.0 400.9,604.5C407.0,610.1 416.4,614.5 424.1,617.8C431.8,621.1 439.0,622.2 447.3,624.4C455.6,626.6 465.0,627.2 473.8,631.0C482.6,634.9 492.6,642.6 500.3,647.6C508.0,652.6 512.5,658.1 520.2,660.9C527.9,663.6 536.8,665.6 546.7,664.2C556.6,662.8 569.9,656.5 579.8,652.6C589.8,648.7 599.2,646.2 606.3,641.0C613.5,635.7 617.9,627.7 622.9,621.1C627.9,614.5 630.1,606.2 636.2,601.2C642.2,596.3 652.5,596.3 659.4,591.3C666.3,586.3 672.1,579.7 677.6,571.4C683.1,563.1 688.6,551.5 692.5,541.6C696.4,531.6 699.1,521.7 700.8,511.8C702.4,501.8 703.3,491.3 702.4,481.9C701.6,472.6 695.3,464.3 695.8,455.4C696.4,446.6 705.2,438.3 705.7,428.9C706.3,419.5 702.7,409.0 699.1,399.1C695.5,389.2 689.7,378.1 684.2,369.3C678.7,360.4 674.0,353.3 666.0,346.1C658.0,338.9 648.9,331.5 636.2,326.2C623.5,321.0 605.8,317.6 589.8,314.6C573.8,311.6 556.6,309.6 540.1,308.0C523.5,306.3 508.6,305.5 490.4,304.7C472.2,303.8 443.4,301.1 430.7,303.0Z" fill="#a8a8a8" stroke="#a8a8a8" stroke-width="22" stroke-linejoin="round" filter="url(#b10)"/>
<path d="M430.7,303.0C418.0,304.9 419.1,310.7 414.2,316.3C409.2,321.8 405.3,328.4 400.9,336.1C396.5,343.9 391.5,354.9 387.7,362.7C383.8,370.4 381.0,375.4 377.7,382.5C374.4,389.7 371.6,398.0 367.8,405.7C363.9,413.5 358.9,421.7 354.5,428.9C350.1,436.1 344.6,442.2 341.3,448.8C338.0,455.4 334.9,461.0 334.6,468.7C334.4,476.4 336.9,486.4 339.6,495.2C342.4,504.0 347.1,512.9 351.2,521.7C355.4,530.5 360.6,540.5 364.5,548.2C368.3,555.9 370.5,562.0 374.4,568.1C378.3,574.2 383.2,578.6 387.7,584.7C392.1,590.7 394.8,599.0 400.9,604.5C407.0,610.1 416.4,614.5 424.1,617.8C431.8,621.1 439.0,622.2 447.3,624.4C455.6,626.6 465.0,627.2 473.8,631.0C482.6,634.9 492.6,642.6 500.3,647.6C508.0,652.6 512.5,658.1 520.2,660.9C527.9,663.6 536.8,665.6 546.7,664.2C556.6,662.8 569.9,656.5 579.8,652.6C589.8,648.7 599.2,646.2 606.3,641.0C613.5,635.7 617.9,627.7 622.9,621.1C627.9,614.5 630.1,606.2 636.2,601.2C642.2,596.3 652.5,596.3 659.4,591.3C666.3,586.3 672.1,579.7 677.6,571.4C683.1,563.1 688.6,551.5 692.5,541.6C696.4,531.6 699.1,521.7 700.8,511.8C702.4,501.8 703.3,491.3 702.4,481.9C701.6,472.6 695.3,464.3 695.8,455.4C696.4,446.6 705.2,438.3 705.7,428.9C706.3,419.5 702.7,409.0 699.1,399.1C695.5,389.2 689.7,378.1 684.2,369.3C678.7,360.4 674.0,353.3 666.0,346.1C658.0,338.9 648.9,331.5 636.2,326.2C623.5,321.0 605.8,317.6 589.8,314.6C573.8,311.6 556.6,309.6 540.1,308.0C523.5,306.3 508.6,305.5 490.4,304.7C472.2,303.8 443.4,301.1 430.7,303.0Z" fill="#e6e6e6" filter="url(#b5)"/>
<path d="M281.6,503.5C284.4,499.6 313.1,500.4 324.7,505.1C336.3,509.8 342.9,521.2 351.2,531.6C359.5,542.1 373.3,560.9 374.4,568.1C375.5,575.3 364.5,578.0 357.8,574.7C351.2,571.4 342.9,555.9 334.6,548.2C326.4,540.5 317.0,535.8 308.1,528.3C299.3,520.9 278.9,507.3 281.6,503.5Z" fill="#b0b0b0" filter="url(#b6)"/>
</g>
<ellipse cx="470" cy="500" rx="110" ry="95" fill="#f2f2f2" filter="url(#b20)"/>
<rect x="205" y="170" width="640" height="670" filter="url(#cloud1)" opacity="0.22"/>
</g>
<line x1="182" y1="103" x2="182" y2="828" stroke="#fff" stroke-width="2.08" stroke-dasharray="2.08 3.43" stroke-dashoffset="-1"/>
<line x1="328" y1="103" x2="328" y2="828" stroke="#fff" stroke-width="2.08" stroke-dasharray="2.08 3.43" stroke-dashoffset="-1"/>
<line x1="474" y1="103" x2="474" y2="828" stroke="#fff" stroke-width="2.08" stroke-dasharray="2.08 3.43" stroke-dashoffset="-1"/>
<line x1="620" y1="103" x2="620" y2="828" stroke="#fff" stroke-width="2.08" stroke-dasharray="2.08 3.43" stroke-dashoffset="-1"/>
<line x1="766" y1="103" x2="766" y2="828" stroke="#fff" stroke-width="2.08" stroke-dasharray="2.08 3.43" stroke-dashoffset="-1"/>
<line x1="110" y1="171" x2="835" y2="171" stroke="#fff" stroke-width="2.08" stroke-dasharray="2.08 3.43" stroke-dashoffset="-1"/>
<line x1="110" y1="316.5" x2="835" y2="316.5" stroke="#fff" stroke-width="2.08" stroke-dasharray="2.08 3.43" stroke-dashoffset="-1"/>
<line x1="110" y1="462" x2="835" y2="462" stroke="#fff" stroke-width="2.08" stroke-dasharray="2.08 3.43" stroke-dashoffset="-1"/>
<line x1="110" y1="607.5" x2="835" y2="607.5" stroke="#fff" stroke-width="2.08" stroke-dasharray="2.08 3.43" stroke-dashoffset="-1"/>
<line x1="110" y1="753" x2="835" y2="753" stroke="#fff" stroke-width="2.08" stroke-dasharray="2.08 3.43" stroke-dashoffset="-1"/>
<defs>
<filter id="wig" x="-5%" y="-5%" width="110%" height="110%"><feTurbulence type="fractalNoise" baseFrequency="0.028" numOctaves="2" seed="3" result="t"/><feDisplacementMap in="SourceGraphic" in2="t" scale="24" xChannelSelector="R" yChannelSelector="G"/></filter>
<filter id="wig2" x="-5%" y="-5%" width="110%" height="110%"><feTurbulence type="fractalNoise" baseFrequency="0.06" numOctaves="2" seed="11" result="t"/><feDisplacementMap in="SourceGraphic" in2="t" scale="10" xChannelSelector="R" yChannelSelector="G"/></filter>
</defs>
<g filter="url(#wig)" fill="none" stroke-width="3" stroke-linejoin="round">
<path d="M434.0,293.1C421.9,293.4 421.9,294.2 417.5,298.0C413.1,301.9 412.0,309.4 407.5,316.3C403.1,323.2 395.9,331.2 391.0,339.5C386.0,347.7 381.0,358.8 377.7,366.0C374.4,373.1 373.3,377.0 371.1,382.5C368.9,388.1 367.5,393.0 364.5,399.1C361.4,405.2 357.0,412.4 352.9,419.0C348.7,425.6 343.2,431.7 339.6,438.9C336.0,446.0 332.2,453.8 331.3,462.1C330.5,470.3 335.7,481.9 334.6,488.6C333.5,495.2 331.3,499.6 324.7,501.8C318.1,504.0 302.6,501.5 294.9,501.8C287.1,502.1 278.9,501.3 278.3,503.5C277.8,505.7 285.5,510.4 291.6,515.1C297.6,519.8 307.0,525.6 314.8,531.6C322.5,537.7 330.8,544.3 338.0,551.5C345.1,558.7 350.7,567.0 357.8,574.7C365.0,582.4 374.4,590.7 381.0,597.9C387.7,605.1 391.0,611.4 397.6,617.8C404.2,624.1 412.0,631.3 420.8,636.0C429.6,640.7 442.3,642.1 450.6,646.0C458.9,649.8 463.3,655.9 470.5,659.2C477.7,662.5 487.6,662.2 493.7,665.8C499.8,669.4 501.4,678.3 506.9,680.7C512.5,683.2 519.1,681.6 526.8,680.7C534.6,679.9 543.4,678.8 553.3,675.8C563.3,672.7 577.1,666.9 586.5,662.5C595.9,658.1 602.5,654.0 609.7,649.3C616.8,644.6 624.3,640.4 629.5,634.4C634.8,628.3 635.6,618.1 641.1,612.8C646.7,607.6 655.5,607.9 662.7,602.9C669.9,597.9 677.9,592.1 684.2,583.0C690.6,573.9 696.6,559.5 700.8,548.2C704.9,536.9 707.7,526.1 709.1,515.1C710.4,504.0 710.2,492.4 709.1,481.9C708.0,471.4 701.3,462.1 702.4,452.1C703.5,442.2 715.1,432.2 715.7,422.3C716.2,412.4 709.9,402.7 705.7,392.5C701.6,382.3 696.4,370.1 690.8,361.0C685.3,351.9 681.2,345.0 672.6,337.8C664.1,330.6 653.3,323.2 639.5,317.9C625.7,312.7 606.3,309.4 589.8,306.3C573.2,303.3 556.6,301.4 540.1,299.7C523.5,298.0 508.0,297.5 490.4,296.4C472.7,295.3 446.2,292.8 434.0,293.1Z" stroke="#fde725"/>
<path d="M587.5,263.4C586.5,277.7 604.6,268.3 612.9,271.5C621.2,274.6 629.5,278.3 637.6,282.5C645.6,286.7 653.5,291.4 661.1,296.5C668.8,301.6 676.2,307.3 683.3,313.3C690.4,319.4 697.2,325.9 703.7,332.8C710.1,339.7 716.2,347.1 721.9,354.8C727.6,362.5 733.0,370.6 737.8,379.1C742.7,387.5 747.1,396.3 751.0,405.3C754.9,414.3 758.4,423.7 761.3,433.3C764.2,442.8 766.6,452.6 768.4,462.6C770.2,472.5 771.5,482.7 772.2,492.9C772.9,503.1 773.0,513.5 772.5,523.9C772.0,534.2 771.0,544.7 769.3,555.0C767.6,565.4 750.6,575.6 762.5,586.1C774.3,596.5 825.7,618.9 840.4,617.5C855.0,616.1 847.7,591.0 850.2,577.6C852.7,564.2 854.5,550.7 855.5,537.2C856.4,523.8 856.6,510.2 856.1,496.9C855.6,483.5 854.2,470.2 852.2,457.1C850.2,444.1 847.4,431.1 844.0,418.5C840.5,405.8 836.3,393.4 831.5,381.3C826.7,369.3 821.2,357.5 815.1,346.2C809.1,334.9 802.3,324.0 795.1,313.5C787.9,303.1 780.0,293.1 771.7,283.6C763.5,274.1 754.6,265.2 745.4,256.8C736.2,248.4 726.5,240.6 716.6,233.4C706.6,226.2 696.2,219.5 685.6,213.6C674.9,207.6 664.0,202.3 652.9,197.6C641.8,192.9 629.9,174.6 619.0,185.5C608.1,196.5 588.5,249.1 587.5,263.4Z" stroke="#fde725"/>
<path d="M615.0,263.8C615.7,266.9 623.0,266.9 627.0,268.7C631.0,270.4 634.9,272.3 638.8,274.2C642.7,276.2 646.6,278.3 650.4,280.5C654.2,282.6 657.9,284.9 661.7,287.3C665.4,289.7 669.0,292.2 672.6,294.9C676.3,297.5 679.8,300.2 683.3,303.0C686.8,305.8 690.2,308.7 693.5,311.8C696.9,314.8 700.2,317.9 703.4,321.1C706.6,324.3 709.7,327.6 712.8,331.0C715.8,334.4 718.8,337.9 721.7,341.5C724.6,345.1 727.4,348.7 730.1,352.5C732.8,356.2 735.4,360.1 737.9,364.0C740.4,367.9 742.9,371.9 745.2,375.9C747.5,380.0 748.2,387.2 751.8,388.3C755.5,389.5 765.5,386.0 766.9,382.9C768.2,379.8 762.3,374.0 759.9,369.7C757.5,365.4 754.9,361.1 752.3,356.9C749.7,352.8 746.9,348.7 744.1,344.7C741.2,340.7 738.3,336.8 735.2,333.0C732.2,329.2 729.1,325.5 725.9,321.8C722.7,318.2 719.4,314.7 716.0,311.2C712.6,307.8 709.2,304.5 705.6,301.3C702.1,298.0 698.5,294.9 694.8,291.9C691.1,288.9 687.4,286.0 683.6,283.2C679.8,280.4 675.9,277.7 671.9,275.1C668.0,272.5 664.0,270.0 660.0,267.7C656.0,265.3 651.9,263.1 647.7,261.0C643.6,258.8 639.4,256.8 635.2,255.0C631.0,253.1 625.9,248.2 622.5,249.6C619.1,251.1 614.2,260.6 615.0,263.8Z" stroke="#fde725"/>
<path d="M655.3,258.2C656.5,262.4 667.2,264.9 672.9,268.6C678.7,272.3 684.4,276.3 689.9,280.4C695.4,284.6 700.8,289.0 706.0,293.6C711.2,298.2 716.3,303.0 721.2,308.1C726.1,313.1 730.9,318.3 735.4,323.8C740.0,329.2 744.3,334.8 748.5,340.6C752.6,346.4 756.6,352.4 760.3,358.6C764.1,364.8 767.6,371.1 770.9,377.6C774.2,384.0 777.2,390.7 780.0,397.4C782.9,404.2 785.4,411.1 787.7,418.1C790.0,425.1 792.1,432.2 793.9,439.4C795.7,446.7 797.2,454.0 798.5,461.4C799.7,468.8 800.7,476.2 801.4,483.8C802.1,491.3 799.4,502.4 802.6,506.5C805.8,510.5 817.7,511.8 820.5,508.0C823.3,504.3 820.1,491.9 819.4,484.0C818.7,476.0 817.7,468.1 816.4,460.3C815.1,452.4 813.6,444.6 811.7,437.0C809.9,429.3 807.7,421.7 805.3,414.3C802.9,406.9 800.2,399.5 797.3,392.3C794.4,385.2 791.2,378.1 787.7,371.2C784.3,364.3 780.6,357.6 776.7,351.0C772.7,344.4 768.6,338.0 764.2,331.8C759.8,325.6 755.2,319.6 750.4,313.8C745.6,308.0 740.6,302.4 735.4,297.0C730.2,291.6 724.9,286.4 719.3,281.5C713.8,276.6 708.1,271.9 702.3,267.4C696.4,262.9 690.4,258.7 684.3,254.7C678.2,250.7 670.5,242.9 665.6,243.5C660.8,244.1 654.1,254.0 655.3,258.2Z" stroke="#fde725"/>
<path d="M646.0,227.1C647.1,231.3 657.1,232.2 662.6,235.1C668.0,237.9 673.4,240.9 678.7,244.1C684.0,247.3 689.2,250.7 694.3,254.2C699.4,257.7 704.5,261.5 709.4,265.3C714.3,269.2 719.1,273.3 723.8,277.5C728.5,281.7 733.1,286.1 737.5,290.6C742.0,295.1 746.3,299.8 750.5,304.6C754.6,309.5 758.7,314.4 762.6,319.5C766.5,324.7 770.2,329.9 773.8,335.3C777.4,340.7 780.8,346.2 784.1,351.8C787.3,357.5 790.4,363.2 793.3,369.1C796.2,374.9 799.0,380.9 801.6,387.0C804.1,393.1 806.5,399.2 808.7,405.5C810.9,411.7 810.4,421.9 814.6,424.5C818.9,427.1 832.1,425.0 834.3,421.0C836.6,417.1 830.4,407.5 828.1,400.8C825.8,394.1 823.3,387.6 820.7,381.1C818.0,374.6 815.1,368.2 812.0,362.0C809.0,355.8 805.7,349.6 802.3,343.6C798.9,337.6 795.3,331.7 791.5,326.0C787.7,320.2 783.7,314.6 779.6,309.1C775.5,303.7 771.3,298.3 766.8,293.2C762.4,288.0 757.8,283.0 753.1,278.1C748.4,273.3 743.6,268.6 738.6,264.1C733.7,259.5 728.5,255.2 723.3,251.0C718.1,246.9 712.8,242.9 707.4,239.0C701.9,235.2 696.4,231.6 690.8,228.2C685.1,224.7 679.4,221.5 673.6,218.4C667.8,215.3 660.6,208.3 656.0,209.8C651.4,211.3 644.9,222.9 646.0,227.1Z" stroke="#fde725"/>
<path d="M765.4,408.9C764.1,411.0 767.9,415.3 769.0,418.6C770.2,421.9 771.2,425.2 772.3,428.5C773.3,431.8 774.3,435.2 775.2,438.5C776.1,441.9 776.9,445.3 777.7,448.7C778.5,452.1 779.2,455.6 779.9,459.0C780.5,462.5 781.1,466.0 781.6,469.5C782.1,473.0 782.6,476.5 783.0,480.0C783.4,483.5 783.7,487.1 784.0,490.6C784.2,494.2 784.4,497.7 784.6,501.3C784.7,504.9 784.7,508.5 784.7,512.1C784.7,515.7 784.6,519.3 784.5,522.9C784.4,526.5 784.1,530.1 783.9,533.7C783.6,537.3 783.2,540.9 782.8,544.5C782.4,548.2 779.6,553.1 781.3,555.4C783.0,557.7 790.7,559.8 792.9,558.5C795.1,557.1 794.0,551.0 794.5,547.2C795.0,543.5 795.3,539.7 795.6,535.9C796.0,532.2 796.2,528.4 796.4,524.7C796.5,520.9 796.6,517.2 796.7,513.4C796.7,509.7 796.6,505.9 796.5,502.2C796.4,498.5 796.2,494.8 796.0,491.1C795.7,487.4 795.4,483.7 795.0,480.0C794.6,476.3 794.1,472.7 793.6,469.0C793.1,465.4 792.5,461.7 791.8,458.1C791.2,454.5 790.4,450.9 789.6,447.4C788.8,443.8 788.0,440.3 787.0,436.7C786.1,433.2 785.1,429.7 784.1,426.3C783.0,422.8 781.9,419.3 780.7,415.9C779.5,412.5 779.5,407.0 777.0,405.8C774.4,404.6 766.7,406.8 765.4,408.9Z" stroke="#fde725"/>
<path d="M825.0,451.6C823.0,453.4 826.2,458.3 826.7,461.7C827.2,465.0 827.7,468.4 828.1,471.8C828.5,475.2 828.9,478.6 829.2,482.1C829.5,485.5 829.7,488.9 829.9,492.3C830.1,495.8 830.3,499.2 830.4,502.7C830.5,506.1 830.5,509.6 830.5,513.1C830.5,516.5 830.4,520.0 830.3,523.5C830.1,527.0 830.0,530.4 829.7,533.9C829.5,537.4 829.2,540.9 828.9,544.3C828.5,547.8 828.1,551.3 827.6,554.8C827.2,558.3 826.7,561.7 826.1,565.2C825.5,568.7 824.9,572.1 824.2,575.6C823.6,579.1 822.8,582.5 822.0,586.0C821.2,589.4 817.7,593.8 819.5,596.3C821.3,598.8 830.0,602.1 832.7,601.1C835.3,600.1 834.5,593.9 835.3,590.3C836.2,586.8 836.9,583.2 837.7,579.6C838.4,576.0 839.0,572.4 839.7,568.7C840.3,565.1 840.8,561.5 841.3,557.9C841.8,554.3 842.2,550.7 842.6,547.0C843.0,543.4 843.3,539.8 843.5,536.2C843.8,532.5 844.0,528.9 844.2,525.3C844.3,521.7 844.4,518.1 844.4,514.5C844.5,510.9 844.4,507.2 844.3,503.6C844.3,500.0 844.1,496.5 843.9,492.9C843.7,489.3 843.5,485.7 843.2,482.1C842.9,478.6 842.5,475.0 842.1,471.5C841.7,467.9 841.2,464.4 840.7,460.9C840.2,457.3 841.6,451.9 839.0,450.3C836.3,448.8 827.0,449.7 825.0,451.6Z" stroke="#fde725"/>
<path d="M800.1,306.8C799.5,310.4 806.6,316.3 809.7,321.2C812.8,326.1 815.8,331.1 818.7,336.2C821.6,341.3 824.3,346.4 826.9,351.7C829.6,356.9 832.1,362.3 834.4,367.6C836.8,373.0 839.0,378.5 841.1,384.0C843.2,389.6 845.2,395.1 847.0,400.8C848.8,406.4 850.5,412.2 852.1,417.9C853.6,423.7 855.0,429.5 856.3,435.4C857.5,441.2 858.7,447.1 859.6,453.0C860.6,459.0 861.4,465.0 862.1,471.0C862.8,477.0 863.3,483.0 863.7,489.1C864.0,495.1 864.3,501.2 864.3,507.3C864.4,513.4 864.3,519.5 864.1,525.6C863.8,531.7 860.6,540.5 862.9,544.0C865.2,547.5 875.0,549.3 877.7,546.6C880.4,543.8 878.7,533.9 879.0,527.5C879.2,521.1 879.3,514.8 879.3,508.4C879.2,502.1 879.0,495.7 878.7,489.4C878.3,483.1 877.8,476.8 877.1,470.6C876.4,464.3 875.6,458.1 874.6,451.9C873.6,445.7 872.5,439.6 871.2,433.5C869.9,427.4 868.4,421.3 866.8,415.3C865.3,409.3 863.5,403.4 861.6,397.5C859.7,391.6 857.7,385.7 855.6,380.0C853.4,374.2 851.1,368.5 848.6,362.9C846.2,357.2 843.6,351.7 840.9,346.2C838.2,340.7 835.3,335.3 832.4,330.0C829.4,324.7 826.3,319.5 823.1,314.4C819.9,309.2 816.9,300.5 813.1,299.2C809.2,298.0 800.6,303.1 800.1,306.8Z" stroke="#fde725"/>
<path d="M851.4,352.1C850.7,354.4 854.7,359.2 856.2,362.8C857.7,366.4 859.2,370.0 860.6,373.7C862.0,377.3 863.4,381.0 864.7,384.7C866.0,388.4 867.3,392.1 868.5,395.9C869.6,399.7 870.8,403.4 871.9,407.2C872.9,411.0 874.0,414.9 874.9,418.7C875.9,422.5 876.8,426.4 877.6,430.3C878.5,434.2 879.2,438.1 880.0,442.0C880.7,445.9 881.3,449.8 881.9,453.8C882.5,457.7 883.1,461.7 883.6,465.6C884.0,469.6 884.4,473.6 884.8,477.6C885.1,481.6 885.4,485.6 885.7,489.6C885.9,493.6 886.1,497.7 886.2,501.7C886.3,505.7 884.6,511.6 886.3,513.8C888.0,516.0 894.6,516.6 896.2,514.7C897.9,512.7 896.2,506.4 896.1,502.2C896.0,498.1 895.9,494.0 895.7,489.9C895.4,485.7 895.1,481.6 894.8,477.5C894.4,473.4 894.0,469.4 893.5,465.3C893.1,461.2 892.5,457.1 891.9,453.1C891.3,449.0 890.6,445.0 889.9,441.0C889.2,437.0 888.4,433.0 887.5,429.0C886.7,425.0 885.8,421.0 884.8,417.1C883.8,413.1 882.8,409.2 881.7,405.3C880.6,401.4 879.4,397.5 878.2,393.7C877.0,389.8 875.7,386.0 874.4,382.2C873.0,378.4 871.7,374.6 870.2,370.8C868.8,367.1 867.3,363.4 865.7,359.7C864.1,356.0 863.2,349.9 860.8,348.7C858.5,347.4 852.2,349.7 851.4,352.1Z" stroke="#fde725"/>
<path d="M513.6,324.3C515.3,326.2 521.2,323.6 525.0,323.5C528.8,323.3 532.7,323.3 536.5,323.5C540.4,323.6 544.3,323.9 548.2,324.3C552.1,324.8 556.1,325.3 560.0,326.1C563.9,326.8 567.8,327.7 571.7,328.7C575.6,329.7 579.5,330.9 583.4,332.2C587.2,333.5 591.1,335.0 594.9,336.6C598.7,338.3 602.5,340.0 606.2,342.0C609.9,343.9 613.6,346.0 617.2,348.2C620.8,350.4 624.4,352.8 627.9,355.3C631.4,357.8 634.8,360.4 638.1,363.2C641.5,366.0 644.7,368.9 647.9,372.0C651.0,375.1 654.1,378.3 657.1,381.6C660.0,384.9 662.4,391.1 665.6,391.9C668.8,392.7 676.0,389.1 676.2,386.3C676.5,383.5 670.4,378.8 667.2,375.2C664.1,371.6 660.9,368.2 657.6,364.9C654.2,361.6 650.8,358.5 647.3,355.5C643.8,352.5 640.2,349.6 636.5,346.9C632.8,344.2 629.0,341.6 625.2,339.2C621.4,336.8 617.5,334.5 613.5,332.4C609.6,330.4 605.6,328.4 601.5,326.6C597.5,324.8 593.4,323.2 589.3,321.8C585.2,320.3 581.0,319.0 576.8,317.8C572.7,316.7 568.5,315.7 564.3,314.9C560.2,314.1 556.0,313.4 551.8,312.9C547.6,312.4 543.4,312.0 539.3,311.8C535.1,311.6 531.0,311.5 526.9,311.6C522.8,311.7 516.9,310.3 514.7,312.4C512.5,314.5 511.9,322.5 513.6,324.3Z" stroke="#fde725"/>
<path d="M485.1,309.9C488.1,311.3 496.4,307.1 502.2,306.1C508.0,305.2 513.9,304.5 519.8,304.1C525.8,303.7 531.8,303.6 537.9,303.9C544.0,304.1 550.1,304.6 556.2,305.5C562.3,306.4 568.5,307.6 574.6,309.1C580.7,310.6 586.8,312.5 592.7,314.6C598.7,316.8 604.7,319.3 610.6,322.1C616.4,324.9 622.2,328.1 627.8,331.5C633.4,335.0 638.9,338.7 644.2,342.8C649.5,346.9 654.7,351.3 659.6,355.9C664.6,360.6 669.3,365.5 673.9,370.8C678.4,376.0 682.7,381.5 686.7,387.2C690.7,392.9 694.5,399.0 697.9,405.2C701.4,411.4 703.9,421.7 707.4,424.4C710.9,427.1 718.7,425.2 719.0,421.3C719.3,417.4 712.8,407.5 709.2,400.9C705.6,394.3 701.6,388.0 697.4,381.9C693.2,375.8 688.7,369.9 684.0,364.4C679.3,358.8 674.3,353.5 669.1,348.6C663.9,343.6 658.5,338.9 652.9,334.5C647.3,330.2 641.5,326.1 635.6,322.4C629.7,318.7 623.6,315.3 617.4,312.3C611.3,309.2 605.0,306.5 598.6,304.2C592.3,301.8 585.8,299.8 579.4,298.1C572.9,296.4 566.4,295.1 559.9,294.1C553.4,293.1 546.9,292.4 540.4,292.1C534.0,291.8 527.5,291.8 521.2,292.2C514.8,292.5 508.5,293.2 502.3,294.1C496.1,295.1 486.9,295.3 484.1,297.9C481.2,300.6 482.1,308.5 485.1,309.9Z" stroke="#fde725"/>
<path d="M500.0,288.5C502.0,289.6 508.0,287.3 512.1,286.9C516.1,286.5 520.2,286.2 524.3,286.1C528.4,285.9 532.5,285.9 536.7,286.0C540.8,286.2 545.0,286.4 549.2,286.8C553.4,287.2 557.6,287.7 561.7,288.4C565.9,289.0 570.1,289.8 574.3,290.8C578.4,291.7 582.6,292.8 586.7,294.0C590.9,295.2 595.0,296.5 599.1,298.0C603.2,299.5 607.3,301.1 611.3,302.9C615.3,304.6 619.3,306.5 623.3,308.6C627.2,310.6 631.1,312.8 634.9,315.1C638.8,317.4 642.6,319.8 646.3,322.3C650.0,324.9 653.7,327.6 657.2,330.4C660.8,333.2 665.0,338.6 667.8,339.2C670.5,339.8 674.7,336.5 673.9,334.1C673.1,331.7 666.7,327.8 663.0,324.9C659.3,322.0 655.6,319.1 651.7,316.5C647.9,313.8 644.0,311.3 640.0,308.9C636.0,306.5 632.0,304.2 627.9,302.1C623.8,299.9 619.7,298.0 615.5,296.1C611.4,294.3 607.2,292.6 602.9,291.0C598.7,289.4 594.4,288.0 590.1,286.7C585.8,285.5 581.5,284.3 577.2,283.3C572.9,282.3 568.5,281.5 564.2,280.8C559.8,280.1 555.5,279.5 551.2,279.1C546.8,278.6 542.5,278.3 538.2,278.2C533.9,278.0 529.6,278.0 525.3,278.2C521.0,278.3 516.8,278.5 512.5,278.9C508.3,279.3 502.1,278.9 500.0,280.5C497.9,282.1 498.0,287.4 500.0,288.5Z" stroke="#fde725"/>
<path d="M430.7,303.0C418.0,304.9 419.1,310.7 414.2,316.3C409.2,321.8 405.3,328.4 400.9,336.1C396.5,343.9 391.5,354.9 387.7,362.7C383.8,370.4 381.0,375.4 377.7,382.5C374.4,389.7 371.6,398.0 367.8,405.7C363.9,413.5 358.9,421.7 354.5,428.9C350.1,436.1 344.6,442.2 341.3,448.8C338.0,455.4 334.9,461.0 334.6,468.7C334.4,476.4 340.2,487.5 339.6,495.2C339.1,502.9 335.5,510.1 331.3,515.1C327.2,520.0 313.1,520.6 314.8,525.0C316.4,529.4 333.0,537.7 341.3,541.6C349.6,545.4 358.9,543.8 364.5,548.2C370.0,552.6 370.5,562.0 374.4,568.1C378.3,574.2 383.2,578.6 387.7,584.7C392.1,590.7 394.8,599.0 400.9,604.5C407.0,610.1 416.4,614.5 424.1,617.8C431.8,621.1 439.0,622.2 447.3,624.4C455.6,626.6 465.0,627.2 473.8,631.0C482.6,634.9 492.6,642.6 500.3,647.6C508.0,652.6 512.5,658.1 520.2,660.9C527.9,663.6 536.8,665.6 546.7,664.2C556.6,662.8 569.9,656.5 579.8,652.6C589.8,648.7 599.2,646.2 606.3,641.0C613.5,635.7 617.9,627.7 622.9,621.1C627.9,614.5 630.1,606.2 636.2,601.2C642.2,596.3 652.5,596.3 659.4,591.3C666.3,586.3 672.1,579.7 677.6,571.4C683.1,563.1 688.6,551.5 692.5,541.6C696.4,531.6 699.1,521.7 700.8,511.8C702.4,501.8 703.3,491.3 702.4,481.9C701.6,472.6 695.3,464.3 695.8,455.4C696.4,446.6 705.2,438.3 705.7,428.9C706.3,419.5 702.7,409.0 699.1,399.1C695.5,389.2 689.7,378.1 684.2,369.3C678.7,360.4 674.0,353.3 666.0,346.1C658.0,338.9 648.9,331.5 636.2,326.2C623.5,321.0 605.8,317.6 589.8,314.6C573.8,311.6 556.6,309.6 540.1,308.0C523.5,306.3 508.6,305.5 490.4,304.7C472.2,303.8 443.4,301.1 430.7,303.0Z" stroke="#7ad151"/>
<path d="M641.0,270.9C641.6,272.7 646.3,273.6 648.9,275.1C651.5,276.5 654.1,278.0 656.6,279.5C659.2,281.1 661.7,282.6 664.2,284.3C666.7,285.9 669.2,287.6 671.7,289.3C674.2,291.0 676.6,292.8 679.0,294.6C681.4,296.4 683.8,298.3 686.2,300.2C688.5,302.1 690.8,304.1 693.1,306.1C695.4,308.1 697.7,310.1 699.9,312.2C702.2,314.3 704.4,316.5 706.5,318.6C708.7,320.8 710.8,323.0 712.9,325.3C715.0,327.6 717.1,329.9 719.1,332.2C721.1,334.5 723.1,336.9 725.1,339.4C727.0,341.8 728.9,344.2 730.8,346.8C732.7,349.3 734.2,353.7 736.3,354.4C738.4,355.0 743.1,352.6 743.3,350.6C743.6,348.7 739.6,345.3 737.7,342.8C735.8,340.2 733.9,337.6 731.9,335.1C729.9,332.6 727.8,330.2 725.7,327.7C723.7,325.3 721.6,322.9 719.4,320.6C717.3,318.3 715.1,316.0 712.8,313.7C710.6,311.5 708.4,309.3 706.1,307.1C703.8,304.9 701.4,302.8 699.1,300.7C696.7,298.7 694.3,296.6 691.9,294.7C689.5,292.7 687.0,290.8 684.6,288.9C682.1,287.0 679.6,285.2 677.1,283.4C674.5,281.6 672.0,279.8 669.4,278.1C666.8,276.5 664.2,274.8 661.5,273.2C658.9,271.6 656.3,270.1 653.6,268.6C650.9,267.1 647.6,263.9 645.5,264.3C643.4,264.7 640.5,269.1 641.0,270.9Z" stroke="#7ad151"/>
<path d="M686.4,273.0C687.6,275.7 695.1,279.3 699.3,282.7C703.5,286.1 707.6,289.6 711.6,293.3C715.6,296.9 719.6,300.7 723.4,304.6C727.2,308.5 730.9,312.5 734.5,316.6C738.2,320.8 741.7,325.0 745.1,329.4C748.5,333.8 751.7,338.3 754.9,342.8C758.0,347.4 761.1,352.1 764.0,356.9C766.9,361.7 769.6,366.6 772.3,371.6C774.9,376.6 777.4,381.6 779.7,386.8C782.1,391.9 784.3,397.2 786.4,402.5C788.4,407.8 790.3,413.2 792.1,418.7C793.9,424.1 795.5,429.7 796.9,435.2C798.4,440.8 799.7,446.5 800.8,452.2C801.9,457.9 801.7,466.6 803.7,469.4C805.7,472.2 811.7,472.1 812.7,469.1C813.7,466.1 810.9,457.2 809.8,451.3C808.6,445.5 807.3,439.7 805.8,433.9C804.4,428.2 802.7,422.4 800.9,416.8C799.1,411.2 797.2,405.6 795.1,400.2C793.0,394.7 790.7,389.3 788.3,383.9C785.9,378.6 783.3,373.4 780.6,368.2C777.9,363.1 775.1,358.1 772.1,353.1C769.1,348.2 766.0,343.3 762.8,338.6C759.6,333.8 756.2,329.2 752.7,324.7C749.3,320.2 745.6,315.8 741.9,311.5C738.2,307.2 734.4,303.1 730.5,299.0C726.5,295.0 722.5,291.1 718.3,287.3C714.2,283.5 710.0,279.9 705.7,276.4C701.3,272.9 695.6,266.8 692.4,266.3C689.2,265.7 685.3,270.2 686.4,273.0Z" stroke="#7ad151"/>
<path d="M685.6,242.5C686.3,244.8 692.4,246.8 695.7,249.1C699.0,251.4 702.3,253.8 705.6,256.2C708.9,258.6 712.1,261.1 715.3,263.7C718.4,266.2 721.6,268.9 724.6,271.6C727.7,274.3 730.7,277.0 733.7,279.9C736.7,282.7 739.6,285.6 742.5,288.6C745.4,291.5 748.2,294.6 751.0,297.7C753.7,300.8 756.4,303.9 759.1,307.1C761.7,310.3 764.3,313.6 766.8,316.9C769.4,320.3 771.8,323.7 774.2,327.1C776.6,330.5 779.0,334.0 781.2,337.6C783.5,341.1 785.7,344.7 787.8,348.4C790.0,352.0 792.0,355.8 794.0,359.5C796.0,363.3 797.4,369.5 799.8,370.9C802.1,372.3 807.8,370.3 808.2,367.8C808.6,365.3 804.4,360.0 802.3,356.1C800.3,352.2 798.2,348.4 796.0,344.7C793.8,340.9 791.6,337.2 789.3,333.5C786.9,329.9 784.5,326.3 782.1,322.7C779.6,319.2 777.1,315.7 774.5,312.2C771.9,308.8 769.3,305.4 766.6,302.1C763.8,298.8 761.1,295.6 758.2,292.4C755.4,289.2 752.5,286.1 749.6,283.0C746.6,279.9 743.6,277.0 740.6,274.0C737.5,271.1 734.4,268.2 731.2,265.5C728.1,262.7 724.9,259.9 721.6,257.3C718.3,254.6 715.0,252.1 711.7,249.6C708.3,247.1 704.9,244.6 701.5,242.3C698.1,239.9 693.8,235.4 691.1,235.4C688.4,235.4 684.8,240.2 685.6,242.5Z" stroke="#7ad151"/>
<path d="M613.0,284.3C613.7,285.8 618.3,286.5 620.9,287.6C623.5,288.8 626.1,290.0 628.6,291.3C631.2,292.6 633.8,293.9 636.3,295.3C638.8,296.7 641.4,298.1 643.8,299.6C646.3,301.1 648.8,302.6 651.3,304.2C653.7,305.8 656.1,307.5 658.5,309.1C660.9,310.8 663.3,312.6 665.6,314.4C668.0,316.1 670.3,318.0 672.6,319.9C674.9,321.8 677.1,323.7 679.3,325.7C681.6,327.6 683.8,329.7 685.9,331.7C688.1,333.8 690.2,335.9 692.3,338.1C694.4,340.3 696.4,342.5 698.4,344.7C700.4,347.0 702.4,349.3 704.3,351.6C706.3,353.9 708.1,358.1 710.0,358.8C712.0,359.4 716.0,357.1 716.1,355.2C716.1,353.4 712.2,350.3 710.3,347.9C708.3,345.5 706.3,343.1 704.2,340.8C702.1,338.5 700.0,336.2 697.9,333.9C695.8,331.7 693.6,329.5 691.4,327.4C689.2,325.2 686.9,323.1 684.6,321.1C682.4,319.1 680.1,317.1 677.7,315.1C675.4,313.2 673.0,311.3 670.6,309.4C668.2,307.6 665.8,305.8 663.3,304.0C660.8,302.3 658.3,300.6 655.8,298.9C653.3,297.3 650.8,295.7 648.2,294.1C645.7,292.6 643.1,291.1 640.5,289.7C637.9,288.2 635.2,286.9 632.6,285.5C629.9,284.2 627.3,282.9 624.6,281.7C621.9,280.5 618.4,277.8 616.5,278.2C614.6,278.6 612.3,282.7 613.0,284.3Z" stroke="#7ad151"/>
<path d="M533.9,320.5C535.2,321.5 539.9,320.7 542.8,320.9C545.8,321.1 548.8,321.4 551.8,321.8C554.8,322.2 557.8,322.7 560.9,323.2C563.9,323.8 566.9,324.4 569.9,325.2C572.9,325.9 575.9,326.7 578.8,327.6C581.8,328.5 584.8,329.5 587.7,330.6C590.7,331.7 593.6,332.9 596.5,334.1C599.5,335.4 602.4,336.7 605.2,338.2C608.1,339.6 610.9,341.1 613.8,342.7C616.6,344.3 619.4,346.0 622.1,347.8C624.8,349.5 627.6,351.4 630.2,353.3C632.9,355.2 635.5,357.3 638.1,359.4C640.7,361.4 643.2,363.6 645.7,365.9C648.2,368.1 650.9,372.3 653.0,372.9C655.0,373.5 658.3,371.2 657.9,369.4C657.5,367.7 653.0,364.5 650.4,362.2C647.9,359.8 645.3,357.6 642.6,355.4C640.0,353.2 637.3,351.1 634.5,349.1C631.8,347.1 629.0,345.2 626.2,343.3C623.3,341.5 620.5,339.7 617.6,338.1C614.7,336.4 611.8,334.8 608.8,333.3C605.9,331.8 602.9,330.4 599.9,329.1C596.9,327.8 593.8,326.6 590.8,325.5C587.7,324.3 584.7,323.3 581.6,322.3C578.5,321.4 575.4,320.5 572.3,319.7C569.2,318.9 566.1,318.2 563.0,317.6C559.9,317.0 556.8,316.5 553.7,316.1C550.6,315.7 547.5,315.3 544.4,315.1C541.3,314.8 536.9,313.7 535.2,314.6C533.4,315.5 532.6,319.4 533.9,320.5Z" stroke="#7ad151"/>
<path d="M515.6,301.4C517.9,302.3 525.2,300.8 530.0,300.8C534.8,300.7 539.7,300.9 544.6,301.3C549.4,301.6 554.3,302.2 559.2,303.0C564.1,303.7 569.0,304.7 573.9,305.9C578.8,307.1 583.7,308.4 588.5,310.0C593.3,311.6 598.1,313.4 602.9,315.4C607.6,317.4 612.3,319.6 616.9,322.0C621.5,324.4 626.1,327.0 630.6,329.8C635.1,332.6 639.5,335.6 643.7,338.7C648.0,341.9 652.2,345.3 656.3,348.9C660.3,352.4 664.3,356.2 668.1,360.1C671.9,364.0 675.6,368.1 679.1,372.4C682.6,376.6 686.0,381.1 689.2,385.7C692.4,390.2 695.9,397.9 698.3,399.9C700.8,401.9 704.5,400.4 703.9,397.6C703.3,394.8 697.9,387.7 694.6,383.0C691.3,378.3 687.8,373.7 684.2,369.3C680.6,364.9 676.9,360.7 673.0,356.6C669.1,352.6 665.0,348.7 660.9,345.0C656.7,341.3 652.4,337.8 648.0,334.5C643.6,331.2 639.1,328.1 634.5,325.2C629.9,322.3 625.2,319.6 620.5,317.2C615.7,314.7 610.9,312.4 606.0,310.3C601.2,308.2 596.2,306.4 591.3,304.7C586.3,303.0 581.3,301.6 576.3,300.4C571.2,299.1 566.2,298.1 561.1,297.3C556.1,296.5 551.0,295.9 546.0,295.4C541.0,295.0 536.0,294.8 531.0,294.8C526.0,294.9 518.7,294.4 516.1,295.5C513.6,296.6 513.3,300.5 515.6,301.4Z" stroke="#7ad151"/>
<path d="M549.4,344.2C550.4,346.0 555.5,345.1 558.6,345.8C561.6,346.4 564.7,347.1 567.7,347.9C570.8,348.7 573.8,349.7 576.8,350.7C579.8,351.7 582.8,352.9 585.8,354.1C588.8,355.4 591.8,356.7 594.7,358.2C597.6,359.6 600.5,361.2 603.4,362.8C606.3,364.5 609.1,366.2 611.9,368.1C614.7,370.0 617.4,371.9 620.1,374.0C622.8,376.1 625.5,378.2 628.0,380.5C630.6,382.7 633.2,385.1 635.6,387.5C638.1,390.0 640.5,392.5 642.8,395.2C645.1,397.8 647.4,400.5 649.6,403.3C651.7,406.1 653.8,409.0 655.8,412.0C657.9,415.0 659.1,420.2 661.6,421.2C664.2,422.1 670.5,419.9 671.0,417.8C671.6,415.6 667.1,411.2 665.0,408.0C662.9,404.8 660.7,401.8 658.5,398.8C656.2,395.8 653.8,392.9 651.4,390.1C649.0,387.2 646.5,384.5 643.9,381.9C641.3,379.3 638.7,376.8 635.9,374.3C633.2,371.9 630.5,369.6 627.6,367.4C624.8,365.2 621.9,363.0 619.0,361.0C616.0,359.0 613.1,357.1 610.0,355.3C607.0,353.5 603.9,351.8 600.8,350.3C597.7,348.7 594.6,347.2 591.5,345.9C588.3,344.5 585.1,343.2 581.9,342.1C578.7,341.0 575.5,339.9 572.3,339.0C569.1,338.1 565.8,337.3 562.6,336.6C559.3,335.9 555.0,333.5 552.8,334.8C550.7,336.1 548.5,342.4 549.4,344.2Z" stroke="#7ad151"/>
<path d="M338.0,455.4C341.8,451.0 350.1,448.3 357.8,442.2C365.6,436.1 376.1,426.7 384.3,419.0C392.6,411.3 400.9,403.5 407.5,395.8C414.2,388.1 416.9,380.9 424.1,372.6C431.3,364.3 436.8,352.2 450.6,346.1C464.4,340.0 489.3,335.6 506.9,336.1C524.6,336.7 542.3,345.0 556.6,349.4C571.0,353.8 584.8,356.0 593.1,362.7C601.4,369.3 598.6,380.3 606.3,389.2C614.1,398.0 629.5,407.9 639.5,415.7C649.4,423.4 659.4,430.0 666.0,435.6C672.6,441.1 680.9,443.8 679.2,448.8C677.6,453.8 661.0,457.1 656.0,465.4C651.1,473.7 650.0,487.5 649.4,498.5C648.9,509.6 653.8,521.7 652.7,531.6C651.6,541.6 647.8,549.9 642.8,558.2C637.8,566.4 630.1,572.0 622.9,581.3C615.7,590.7 608.0,604.5 599.7,614.5C591.4,624.4 581.5,637.7 573.2,641.0C564.9,644.3 555.5,631.6 550.0,634.4C544.5,637.1 545.0,656.5 540.1,657.6C535.1,658.7 528.5,646.5 520.2,641.0C511.9,635.5 500.3,628.3 490.4,624.4C480.4,620.6 471.6,619.4 460.6,617.8C449.5,616.1 434.0,617.8 424.1,614.5C414.2,611.2 408.6,603.4 400.9,597.9C393.2,592.4 383.8,588.0 377.7,581.3C371.6,574.7 368.9,567.0 364.5,558.2C360.0,549.3 355.1,538.3 351.2,528.3C347.3,518.4 344.0,508.4 341.3,498.5C338.5,488.6 335.2,475.9 334.6,468.7C334.1,461.5 334.1,459.9 338.0,455.4Z" stroke="#22a884"/>
<path d="M341.3,458.7C344.9,454.3 354.0,453.8 361.1,448.8C368.3,443.8 375.5,437.8 384.3,428.9C393.2,420.1 404.8,405.2 414.2,395.8C423.6,386.4 429.6,378.7 440.7,372.6C451.7,366.5 468.3,362.1 480.4,359.3C492.6,356.6 505.8,352.2 513.6,356.0C521.3,359.9 520.7,377.0 526.8,382.5C532.9,388.1 543.4,384.7 550.0,389.2C556.6,393.6 560.0,401.3 566.6,409.0C573.2,416.8 583.2,426.2 589.8,435.6C596.4,444.9 603.0,454.9 606.3,465.4C609.7,475.9 611.9,488.6 609.7,498.5C607.4,508.4 594.2,516.7 593.1,525.0C592.0,533.3 600.8,538.3 603.0,548.2C605.2,558.2 608.0,574.7 606.3,584.7C604.7,594.6 601.4,602.3 593.1,607.9C584.8,613.4 565.5,618.9 556.6,617.8C547.8,616.7 548.4,605.1 540.1,601.2C531.8,597.4 520.2,595.2 506.9,594.6C493.7,594.0 475.5,597.9 460.6,597.9C445.6,597.9 428.5,598.5 417.5,594.6C406.4,590.7 402.6,584.7 394.3,574.7C386.0,564.8 375.0,546.0 367.8,535.0C360.6,523.9 355.9,518.4 351.2,508.4C346.5,498.5 341.3,483.6 339.6,475.3C338.0,467.0 337.7,463.2 341.3,458.7Z" stroke="#2a788e"/>
</g>
<g fill="none" stroke-width="2.6" stroke="#fde725" filter="url(#wig2)">
<ellipse cx="752.1" cy="405.7" rx="9.3" ry="3.3"/>
<ellipse cx="765.4" cy="415.7" rx="8.0" ry="2.7"/>
<ellipse cx="791.9" cy="425.6" rx="6.7" ry="4.0"/>
<ellipse cx="808.5" cy="448.8" rx="5.3" ry="3.3"/>
<ellipse cx="818.4" cy="481.9" rx="4.7" ry="6.7"/>
<ellipse cx="825.0" cy="495.2" rx="4.0" ry="6.0"/>
<ellipse cx="791.9" cy="541.6" rx="4.0" ry="6.7"/>
<ellipse cx="765.4" cy="594.6" rx="4.0" ry="3.3"/>
<ellipse cx="791.9" cy="611.2" rx="3.3" ry="2.7"/>
<ellipse cx="808.5" cy="631.0" rx="4.0" ry="2.7"/>
<ellipse cx="818.4" cy="652.6" rx="3.3" ry="3.3"/>
<ellipse cx="712.4" cy="717.9" rx="4.7" ry="4.0"/>
<ellipse cx="702.4" cy="722.2" rx="2.7" ry="2.7"/>
<ellipse cx="763.7" cy="747.0" rx="5.3" ry="6.7"/>
<ellipse cx="316.4" cy="684.1" rx="4.7" ry="6.7"/>
<ellipse cx="301.5" cy="485.3" rx="8.0" ry="14.7"/>
<ellipse cx="613.0" cy="682.4" rx="3.3" ry="6.7"/>
<ellipse cx="634.5" cy="672.5" rx="4.0" ry="8.0"/>
<ellipse cx="503.6" cy="677.4" rx="4.0" ry="9.3"/>
<ellipse cx="748.8" cy="332.8" rx="6.0" ry="3.3"/>
<ellipse cx="772.0" cy="359.3" rx="5.3" ry="3.3"/>
</g>
<g fill="none" stroke-width="2.6" filter="url(#wig2)">
<path d="M366,188 C380,186 392,192 400,200 C392,205 380,198 366,192Z" stroke="#fde725"/>
<path d="M372,189 C380,189 388,193 394,198" stroke="#7ad151"/>
<path d="M396,206 C404,204 410,210 408,214 C400,214 396,210 396,206Z" stroke="#fde725"/>
</g>
<g fill="#414487" stroke="#414487" stroke-width="1.5">
<circle cx="455.6" cy="407.4" r="2.5"/>
<circle cx="460.6" cy="403.1" r="1.9"/>
<circle cx="465.5" cy="405.7" r="2.2"/>
<circle cx="457.9" cy="412.4" r="1.9"/>
<circle cx="463.9" cy="410.7" r="1.6"/>
<circle cx="468.8" cy="401.8" r="1.6"/>
<circle cx="368.4" cy="478.6" r="2.5"/>
<circle cx="372.7" cy="486.9" r="1.2"/>
<circle cx="414.2" cy="520.0" r="1.6"/>
</g>
<g fill="none" stroke="#2a788e" stroke-width="2.2">
<ellipse cx="523.5" cy="366.0" rx="1.3" ry="2.0"/>
<ellipse cx="540.1" cy="400.8" rx="7.3" ry="2.7"/>
<ellipse cx="563.3" cy="392.5" rx="1.7" ry="2.0"/>
<ellipse cx="511.9" cy="411.4" rx="3.3" ry="1.0"/>
<ellipse cx="613.0" cy="422.3" rx="8.0" ry="6.6"/>
<ellipse cx="483.7" cy="608.5" rx="1.7" ry="2.0"/>
<ellipse cx="477.1" cy="614.5" rx="1.3" ry="1.3"/>
<ellipse cx="536.8" cy="614.5" rx="1.7" ry="2.3"/>
<ellipse cx="503.6" cy="516.7" rx="1.3" ry="1.3"/>
<ellipse cx="490.4" cy="508.4" rx="8.3" ry="2.0"/>
<ellipse cx="506.9" cy="500.2" rx="4.6" ry="1.7"/>
</g>
<text x="0" y="0" font-size="14.5" text-anchor="middle" textLength="32" lengthAdjust="spacingAndGlyphs" fill="#22a884" transform="translate(426,379) rotate(-38)">−54</text>
<text x="0" y="0" font-size="14.5" text-anchor="middle" textLength="32" lengthAdjust="spacingAndGlyphs" fill="#2a788e" transform="translate(381,548) rotate(35)">−64</text>
<text x="0" y="0" font-size="14.5" text-anchor="middle" textLength="32" lengthAdjust="spacingAndGlyphs" fill="#2a788e" transform="translate(445,486) rotate(60)">−64</text>
<text x="0" y="0" font-size="12" text-anchor="middle" textLength="26" lengthAdjust="spacingAndGlyphs" fill="#7ad151" transform="translate(696,417) rotate(60)">−41</text>
<text x="0" y="0" font-size="12" text-anchor="middle" textLength="26" lengthAdjust="spacingAndGlyphs" fill="#fde725" transform="translate(786,377) rotate(20)">−31</text>
<text x="0" y="0" font-size="12" text-anchor="middle" textLength="26" lengthAdjust="spacingAndGlyphs" fill="#7ad151" transform="translate(745,455) rotate(60)">−41</text>
<rect x="436.4" y="429.3" width="71.2" height="72.5" fill="#f00" fill-opacity="0.4"/>
<path d="M269.6,103.0C271.7,108.8 277.8,126.7 282.0,138.0C286.2,149.3 290.3,159.0 295.0,171.0C299.7,183.0 304.5,196.7 310.0,210.0C315.5,223.3 321.7,238.3 328.0,251.0C334.3,263.7 340.9,275.1 348.0,286.0C355.1,296.9 362.9,305.5 370.7,316.7C378.5,327.9 386.3,340.3 395.0,353.0C403.7,365.7 413.8,381.3 423.0,393.0C432.2,404.7 441.8,414.0 450.0,423.0C458.2,432.0 465.8,440.0 472.5,447.0C479.2,454.0 484.9,460.0 490.0,465.0C495.1,470.0 500.8,475.0 503.0,477.0" fill="none" stroke="#0000ff" stroke-width="2.9" stroke-dasharray="2.9 4.8"/>
<circle cx="479.6" cy="457.2" r="9" fill="none" stroke="#2a788e" stroke-width="2"/>
<circle cx="479.6" cy="457.2" r="7" fill="none" stroke="#7ad151" stroke-width="2"/>
<circle cx="479.6" cy="457.2" r="5" fill="#fde725"/>
<circle cx="479.6" cy="457.2" r="3" fill="#902020"/>
<g stroke="#00bfbf" stroke-width="2.2">
<path d="M530.9,510.0l5,5M530.9,515.0l5,-5"/>
<path d="M539.6,518.5l5,5M539.6,523.5l5,-5"/>
<path d="M547.9,520.8l5,5M547.9,525.8l5,-5"/>
<path d="M551.8,524.1l5,5M551.8,529.1l5,-5"/>
<path d="M556.3,527.7l5,5M556.3,532.7l5,-5"/>
<path d="M566.2,536.7l5,5M566.2,541.7l5,-5"/>
<path d="M573.0,547.4l5,5M573.0,552.4l5,-5"/>
<path d="M581.1,552.7l5,5M581.1,557.7l5,-5"/>
<path d="M586.7,556.8l5,5M586.7,561.8l5,-5"/>
<path d="M594.5,564.8l5,5M594.5,569.8l5,-5"/>
<path d="M602.6,575.6l5,5M602.6,580.6l5,-5"/>
<path d="M610.5,576.3l5,5M610.5,581.3l5,-5"/>
<path d="M618.8,585.6l5,5M618.8,590.6l5,-5"/>
<path d="M624.8,591.9l5,5M624.8,596.9l5,-5"/>
<path d="M631.9,596.8l5,5M631.9,601.8l5,-5"/>
<path d="M637.4,602.6l5,5M637.4,607.6l5,-5"/>
<path d="M649.0,602.3l5,5M649.0,607.3l5,-5"/>
<path d="M655.7,610.3l5,5M655.7,615.3l5,-5"/>
<path d="M661.9,613.8l5,5M661.9,618.8l5,-5"/>
<path d="M670.1,620.8l5,5M670.1,625.8l5,-5"/>
<path d="M676.7,622.9l5,5M676.7,627.9l5,-5"/>
<path d="M682.5,625.9l5,5M682.5,630.9l5,-5"/>
<path d="M692.4,626.0l5,5M692.4,631.0l5,-5"/>
<path d="M697.0,631.4l5,5M697.0,636.4l5,-5"/>
<path d="M704.6,631.5l5,5M704.6,636.5l5,-5"/>
<path d="M709.5,634.5l5,5M709.5,639.5l5,-5"/>
<path d="M720.4,637.5l5,5M720.4,642.5l5,-5"/>
<path d="M729.6,642.1l5,5M729.6,647.1l5,-5"/>
<path d="M737.5,646.3l5,5M737.5,651.3l5,-5"/>
<path d="M745.8,652.7l5,5M745.8,657.7l5,-5"/>
<path d="M753.0,656.2l5,5M753.0,661.2l5,-5"/>
<path d="M763.8,661.2l5,5M763.8,666.2l5,-5"/>
<path d="M771.7,663.6l5,5M771.7,668.6l5,-5"/>
<path d="M782.8,672.6l5,5M782.8,677.6l5,-5"/>
<path d="M793.5,672.1l5,5M793.5,677.1l5,-5"/>
<path d="M802.6,679.6l5,5M802.6,684.6l5,-5"/>
<path d="M811.1,680.1l5,5M811.1,685.1l5,-5"/>
<path d="M818.0,682.9l5,5M818.0,687.9l5,-5"/>
<path d="M825.4,687.8l5,5M825.4,692.8l5,-5"/>
<path d="M830.8,695.1l5,5M830.8,700.1l5,-5"/>
</g>
<rect x="557.1" y="536.4" width="7" height="7" fill="#bf00bf"/>
<rect x="594.6" y="566.2" width="7" height="7" fill="#bf00bf"/>
<rect x="771.8" y="660.7" width="7" height="7" fill="#bf00bf"/>
<rect x="819.9" y="688.8" width="7" height="7" fill="#bf00bf"/>
<path d="M491.0,479.3L506.9,491.9L526.8,506.8L550.0,522.4L573.2,541.6L593.1,561.5L619.6,584.7L639.5,597.9L666.0,612.8L692.5,627.1L715.7,637.7L732.3,652.6L755.5,658.2L778.6,668.2L805.2,680.7L835.0,693.3" fill="none" stroke="#008000" stroke-width="2.6" stroke-linejoin="round"/>
<path d="M488.7,477.0L561.6,526.7L632.9,592.9L705.7,630.4L795.2,672.5L838.3,692.3" fill="none" stroke="#0000ff" stroke-width="3.3"/>
<circle cx="488.7" cy="477.0" r="4.2" fill="#0000ff"/>
<circle cx="561.6" cy="526.7" r="4.2" fill="#0000ff"/>
<circle cx="632.9" cy="592.9" r="4.2" fill="#0000ff"/>
<circle cx="705.7" cy="630.4" r="4.2" fill="#0000ff"/>
<circle cx="795.2" cy="672.5" r="4.2" fill="#0000ff"/>
<path d="M472.2,465.4L487.1,472.7L492.0,468.7L506.9,489.2L520.9,491.6L547.4,514.4L549.4,525.0L592.4,560.8L593.8,573.1L606.3,578.0L622.9,586.6L626.2,581.3L642.8,591.3L659.4,600.6L659.4,608.5L666.0,611.8L685.9,621.8L712.4,628.4L742.2,644.3L749.5,652.9L778.6,668.2L786.9,674.1L796.9,674.8L818.4,684.1L820.4,694.0L838.3,698.0" fill="none" stroke="#ff0000" stroke-width="4.4" stroke-linejoin="round"/>
<g stroke="#f00" stroke-width="2.6"><path d="M480,462l6,6M480,468l6,-6"/><path d="M600,575l7,7M600,582l7,-7"/><path d="M790,680l7,7M790,687l7,-7"/></g>
<rect x="434.8" y="108.8" width="395" height="188" rx="4" fill="#fff" fill-opacity="0.8" stroke="#ccc" stroke-width="1.6"/>
<text x="485.5" y="128.0" font-size="15.9" textLength="336.1" lengthAdjust="spacingAndGlyphs">AMSU Locations [NOAAMC/1354Z 40 1003]</text>
<text x="485.5" y="150.7" font-size="15.9" textLength="210.2" lengthAdjust="spacingAndGlyphs">ARCHER Locations [1741Z]</text>
<text x="485.5" y="173.4" font-size="15.9" textLength="279.2" lengthAdjust="spacingAndGlyphs">SATCON Locations [2040Z 127 935]</text>
<text x="485.5" y="196.1" font-size="15.9" textLength="253.3" lengthAdjust="spacingAndGlyphs">ADT Tracks [0040Z 124.6 936.1]</text>
<text x="485.5" y="218.8" font-size="15.9" textLength="241.9" lengthAdjust="spacingAndGlyphs">JTWC/NHC Forecast [28/1800Z]</text>
<text x="485.5" y="241.5" font-size="15.9" textLength="225.1" lengthAdjust="spacingAndGlyphs">JTWC/NHC Tracks [29/0000Z]</text>
<text x="485.5" y="264.2" font-size="15.9" textLength="232.1" lengthAdjust="spacingAndGlyphs">MESOSCALE/TARGET Location</text>
<text x="485.5" y="286.9" font-size="15.9" textLength="117.1" lengthAdjust="spacingAndGlyphs">Floater Locater</text>
<rect x="453.0" y="118.1" width="8.4" height="8.4" fill="#bf00bf"/>
<rect x="453.0" y="140.8" width="8.4" height="8.4" fill="#bf00bf"/>
<path d="M453.59999999999997,164.1l7.2,7.2M453.59999999999997,171.3l7.2,-7.2" stroke="#00bfbf" stroke-width="2.8"/>
<line x1="440.3" y1="190.4" x2="474" y2="190.4" stroke="#008000" stroke-width="2.6"/>
<line x1="440.3" y1="213.1" x2="474" y2="213.1" stroke="#0000ff" stroke-width="2.9" stroke-dasharray="2.9 4.8"/>
<line x1="440.3" y1="235.8" x2="474" y2="235.8" stroke="#0000ff" stroke-width="2.6"/><circle cx="457.2" cy="235.8" r="3.6" fill="#0000ff"/>
<path d="M453.2,254.5l8,8M453.2,262.5l8,-8" stroke="#f00" stroke-width="3"/>
<line x1="440.3" y1="281.2" x2="474" y2="281.2" stroke="#f00" stroke-width="3.4"/>
<rect x="105" y="804" width="314" height="27" rx="5" fill="#000"/>
<text x="111.5" y="821.5" font-size="16.6" textLength="302" lengthAdjust="spacingAndGlyphs" font-weight="bold" fill="#fff">Copyright © 2020-2025 Dapiya</text>
</g>
<rect x="108.5" y="101.5" width="728" height="728" fill="none" stroke="#000" stroke-width="3"/>
<text x="99" y="175.3" font-size="12.8" text-anchor="end" textLength="32.3" lengthAdjust="spacingAndGlyphs">30°N</text>
<text x="99" y="320.8" font-size="12.8" text-anchor="end" textLength="32.3" lengthAdjust="spacingAndGlyphs">28°N</text>
<text x="99" y="466.3" font-size="12.8" text-anchor="end" textLength="32.3" lengthAdjust="spacingAndGlyphs">26°N</text>
<text x="99" y="611.8" font-size="12.8" text-anchor="end" textLength="32.3" lengthAdjust="spacingAndGlyphs">24°N</text>
<text x="99" y="757.3" font-size="12.8" text-anchor="end" textLength="32.3" lengthAdjust="spacingAndGlyphs">22°N</text>
<text x="181.5" y="851" font-size="12.8" text-anchor="middle" textLength="36" lengthAdjust="spacingAndGlyphs">70°W</text>
<text x="327.5" y="851" font-size="12.8" text-anchor="middle" textLength="36" lengthAdjust="spacingAndGlyphs">68°W</text>
<text x="473.5" y="851" font-size="12.8" text-anchor="middle" textLength="36" lengthAdjust="spacingAndGlyphs">66°W</text>
<text x="619.5" y="851" font-size="12.8" text-anchor="middle" textLength="36" lengthAdjust="spacingAndGlyphs">64°W</text>
<text x="765.5" y="851" font-size="12.8" text-anchor="middle" textLength="36" lengthAdjust="spacingAndGlyphs">62°W</text>
<rect x="843.5" y="101.5" width="15.5" height="728" fill="url(#cb1)" stroke="#000" stroke-width="1"/>
<text x="852.5" y="93.7" font-size="16.6" textLength="19" lengthAdjust="spacingAndGlyphs">°C</text>
<text x="866" y="161.5" font-size="16.6" textLength="20" lengthAdjust="spacingAndGlyphs">40</text>
<text x="866" y="215.54999999999998" font-size="16.6" textLength="20" lengthAdjust="spacingAndGlyphs">30</text>
<text x="866" y="269.59999999999997" font-size="16.6" textLength="20" lengthAdjust="spacingAndGlyphs">20</text>
<text x="866" y="323.65" font-size="16.6" textLength="20" lengthAdjust="spacingAndGlyphs">10</text>
<text x="866" y="377.69999999999993" font-size="16.6" textLength="10" lengthAdjust="spacingAndGlyphs">0</text>
<text x="866" y="431.75" font-size="16.6" textLength="34" lengthAdjust="spacingAndGlyphs">−10</text>
<text x="866" y="485.79999999999995" font-size="16.6" textLength="34" lengthAdjust="spacingAndGlyphs">−20</text>
<text x="866" y="539.8499999999999" font-size="16.6" textLength="34" lengthAdjust="spacingAndGlyphs">−30</text>
<text x="866" y="593.9" font-size="16.6" textLength="34" lengthAdjust="spacingAndGlyphs">−40</text>
<text x="866" y="647.9499999999999" font-size="16.6" textLength="34" lengthAdjust="spacingAndGlyphs">−50</text>
<text x="866" y="702.0" font-size="16.6" textLength="34" lengthAdjust="spacingAndGlyphs">−60</text>
<text x="866" y="756.05" font-size="16.6" textLength="34" lengthAdjust="spacingAndGlyphs">−70</text>
<text x="866" y="810.0999999999999" font-size="16.6" textLength="34" lengthAdjust="spacingAndGlyphs">−80</text>
</g>
<g id="p2">
<clipPath id="c2"><rect x="985" y="103" width="725" height="725"/></clipPath>
<g clip-path="url(#c2)">
<defs>
<clipPath id="c2p"><polygon points="1127.5,186.5 1710,177.5 1710,828 1092,828"/></clipPath>
<clipPath id="c2b"><path d="M1193.0,515.0C1193.5,505.0 1202.7,493.0 1206.0,482.0C1209.3,471.0 1212.3,459.0 1213.0,449.0C1213.7,439.0 1209.5,432.0 1210.0,422.0C1210.5,412.0 1212.2,400.0 1216.0,389.0C1219.8,378.0 1227.5,365.8 1233.0,356.0C1238.5,346.2 1240.7,339.3 1249.0,330.0C1257.3,320.7 1271.8,308.2 1283.0,300.0C1294.2,291.8 1302.8,286.0 1316.0,281.0C1329.2,276.0 1345.5,273.8 1362.0,270.0C1378.5,266.2 1397.8,261.2 1415.0,258.0C1432.2,254.8 1447.5,252.3 1465.0,251.0C1482.5,249.7 1502.5,248.8 1520.0,250.0C1537.5,251.2 1552.5,254.3 1570.0,258.0C1587.5,261.7 1608.0,266.3 1625.0,272.0C1642.0,277.7 1655.3,284.3 1672.0,292.0C1688.7,299.7 1705.3,306.7 1725.0,318.0C1744.7,329.3 1779.2,339.7 1790.0,360.0C1800.8,380.3 1790.0,405.0 1790.0,440.0C1790.0,475.0 1800.0,545.8 1790.0,570.0C1780.0,594.2 1746.7,581.7 1730.0,585.0C1713.3,588.3 1702.5,587.0 1690.0,590.0C1677.5,593.0 1666.3,597.7 1655.0,603.0C1643.7,608.3 1632.8,615.8 1622.0,622.0C1611.2,628.2 1600.0,635.7 1590.0,640.0C1580.0,644.3 1571.8,647.0 1562.0,648.0C1552.2,649.0 1541.7,648.3 1531.0,646.0C1520.3,643.7 1506.3,632.7 1498.0,634.0C1489.7,635.3 1489.3,647.8 1481.0,654.0C1472.7,660.2 1460.2,667.2 1448.0,671.0C1435.8,674.8 1421.8,677.7 1408.0,677.0C1394.2,676.3 1377.0,669.7 1365.0,667.0C1353.0,664.3 1347.0,665.8 1336.0,661.0C1325.0,656.2 1310.7,646.8 1299.0,638.0C1287.3,629.2 1277.0,618.5 1266.0,608.0C1255.0,597.5 1243.5,586.0 1233.0,575.0C1222.5,564.0 1209.7,552.0 1203.0,542.0C1196.3,532.0 1192.5,525.0 1193.0,515.0Z"/></clipPath>
<filter id="tex2" x="0" y="0" width="100%" height="100%"><feTurbulence type="fractalNoise" baseFrequency="0.02 0.03" numOctaves="3" seed="4" result="n"/><feColorMatrix in="n" type="matrix" values="0 0 0 0 1  0 0 0 0 1  0 0 0 0 0.5  1.4 0 0 0 -0.62"/></filter>
<filter id="wob2" filterUnits="userSpaceOnUse" x="1060" y="150" width="700" height="720"><feTurbulence type="fractalNoise" baseFrequency="0.018" numOctaves="3" seed="9" result="t"/><feDisplacementMap in="SourceGraphic" in2="t" scale="34" xChannelSelector="R" yChannelSelector="G"/></filter>
</defs>
<g clip-path="url(#c2p)">
<rect x="1080" y="170" width="640" height="670" fill="#8aff82"/>
<ellipse cx="1150" cy="250" rx="90" ry="110" fill="#74f6e4" filter="url(#b28)"/>
<ellipse cx="1390" cy="815" rx="170" ry="45" fill="#74ffd0" filter="url(#b20)"/>
<ellipse cx="1130" cy="830" rx="70" ry="50" fill="#74ffe0" filter="url(#b20)"/>
<ellipse cx="1330" cy="690" rx="260" ry="70" fill="#dcff78" filter="url(#b20)" opacity="0.85"/>
<ellipse cx="1640" cy="690" rx="110" ry="90" fill="#f2ff80" filter="url(#b20)" opacity="0.9"/>
<ellipse cx="1370" cy="225" rx="140" ry="35" fill="#d0ff78" filter="url(#b16)" opacity="0.8"/>
<ellipse cx="1670" cy="250" rx="60" ry="80" fill="#ffe070" filter="url(#b16)" opacity="0.9"/>
<rect x="1080" y="170" width="640" height="670" filter="url(#tex2)" opacity="0.55"/>
<g filter="url(#wob2)">
<g filter="url(#b2)" stroke-linecap="round" fill="none">
<path d="M1619,602L1629,662" stroke="#ffd060" stroke-width="6.0" opacity="0.54"/>
<path d="M1211,386L1193,326" stroke="#ffe070" stroke-width="3.8" opacity="0.58"/>
<path d="M1667,537L1686,573" stroke="#ffe070" stroke-width="4.0" opacity="0.75"/>
<path d="M1192,523L1138,477" stroke="#ffb848" stroke-width="4.9" opacity="0.61"/>
<path d="M1213,406L1164,371" stroke="#ffe070" stroke-width="4.1" opacity="0.57"/>
<path d="M1482,668L1469,698" stroke="#ffd060" stroke-width="2.8" opacity="0.43"/>
<path d="M1211,600L1129,572" stroke="#ffe070" stroke-width="2.9" opacity="0.54"/>
<path d="M1194,481L1126,428" stroke="#ffb848" stroke-width="3.5" opacity="0.73"/>
<path d="M1349,657L1304,685" stroke="#ffe070" stroke-width="3.1" opacity="0.64"/>
<path d="M1227,378L1227,337" stroke="#ffd060" stroke-width="4.5" opacity="0.48"/>
<path d="M1221,377L1196,318" stroke="#f8ff80" stroke-width="3.7" opacity="0.59"/>
<path d="M1503,642L1463,674" stroke="#ffb848" stroke-width="3.8" opacity="0.62"/>
<path d="M1205,601L1122,603" stroke="#ffd060" stroke-width="5.9" opacity="0.59"/>
<path d="M1178,440L1142,408" stroke="#ffd060" stroke-width="3.1" opacity="0.38"/>
<path d="M1164,501L1114,451" stroke="#ffe070" stroke-width="5.5" opacity="0.61"/>
<path d="M1644,504L1666,562" stroke="#ffd060" stroke-width="5.9" opacity="0.65"/>
<path d="M1368,658L1305,706" stroke="#ffb848" stroke-width="2.6" opacity="0.43"/>
<path d="M1159,475L1094,428" stroke="#ffb848" stroke-width="4.2" opacity="0.71"/>
<path d="M1371,653L1334,691" stroke="#ffe070" stroke-width="3.8" opacity="0.40"/>
<path d="M1217,558L1171,549" stroke="#ffb848" stroke-width="3.4" opacity="0.51"/>
<path d="M1171,376L1155,347" stroke="#ffe070" stroke-width="3.2" opacity="0.61"/>
<path d="M1207,508L1175,488" stroke="#f8ff80" stroke-width="4.4" opacity="0.48"/>
<path d="M1356,654L1323,671" stroke="#ffb848" stroke-width="3.2" opacity="0.65"/>
<path d="M1185,536L1126,500" stroke="#ffe070" stroke-width="5.3" opacity="0.35"/>
<path d="M1382,651L1344,698" stroke="#ffd060" stroke-width="3.4" opacity="0.63"/>
<path d="M1497,640L1481,683" stroke="#f8ff80" stroke-width="5.4" opacity="0.67"/>
<path d="M1354,672L1318,707" stroke="#f8ff80" stroke-width="5.9" opacity="0.47"/>
<path d="M1211,575L1156,580" stroke="#f8ff80" stroke-width="5.9" opacity="0.49"/>
<path d="M1512,687L1498,715" stroke="#ffe070" stroke-width="4.7" opacity="0.67"/>
<path d="M1199,370L1166,299" stroke="#ffb848" stroke-width="4.1" opacity="0.56"/>
<path d="M1201,447L1187,407" stroke="#ffe070" stroke-width="3.4" opacity="0.63"/>
<path d="M1165,491L1118,467" stroke="#ffb848" stroke-width="3.6" opacity="0.44"/>
<path d="M1173,414L1158,386" stroke="#f8ff80" stroke-width="5.0" opacity="0.71"/>
<path d="M1177,520L1109,484" stroke="#f8ff80" stroke-width="3.4" opacity="0.72"/>
<path d="M1446,681L1377,736" stroke="#ffe070" stroke-width="3.1" opacity="0.43"/>
<path d="M1164,444L1142,418" stroke="#f8ff80" stroke-width="4.7" opacity="0.50"/>
<path d="M1169,554L1090,551" stroke="#ffb848" stroke-width="3.2" opacity="0.48"/>
<path d="M1235,615L1169,589" stroke="#f8ff80" stroke-width="4.3" opacity="0.73"/>
<path d="M1175,369L1146,326" stroke="#f8ff80" stroke-width="5.0" opacity="0.41"/>
<path d="M1439,670L1390,709" stroke="#ffd060" stroke-width="4.8" opacity="0.60"/>
<path d="M1666,564L1675,606" stroke="#f8ff80" stroke-width="2.6" opacity="0.55"/>
<path d="M1664,512L1711,552" stroke="#ffe070" stroke-width="5.8" opacity="0.41"/>
<path d="M1214,380L1186,351" stroke="#ffd060" stroke-width="3.0" opacity="0.67"/>
<path d="M1176,486L1151,464" stroke="#ffb848" stroke-width="5.6" opacity="0.45"/>
<path d="M1277,655L1211,668" stroke="#ffe070" stroke-width="4.8" opacity="0.38"/>
<path d="M1400,692L1333,747" stroke="#ffd060" stroke-width="2.7" opacity="0.68"/>
<path d="M1261,632L1188,624" stroke="#f8ff80" stroke-width="3.0" opacity="0.41"/>
<path d="M1530,661L1486,695" stroke="#ffe070" stroke-width="3.2" opacity="0.39"/>
<path d="M1185,481L1144,460" stroke="#ffb848" stroke-width="3.5" opacity="0.67"/>
<path d="M1432,652L1400,681" stroke="#f8ff80" stroke-width="3.9" opacity="0.63"/>
<path d="M1199,556L1157,517" stroke="#ffd060" stroke-width="4.3" opacity="0.64"/>
<path d="M1260,633L1209,657" stroke="#f8ff80" stroke-width="4.2" opacity="0.41"/>
<path d="M1158,464L1095,411" stroke="#ffd060" stroke-width="4.9" opacity="0.61"/>
<path d="M1255,627L1213,623" stroke="#ffd060" stroke-width="5.8" opacity="0.72"/>
<path d="M1209,502L1165,470" stroke="#ffe070" stroke-width="5.1" opacity="0.61"/>
<path d="M1632,607L1621,678" stroke="#ffd060" stroke-width="3.3" opacity="0.56"/>
<path d="M1527,651L1487,720" stroke="#ffe070" stroke-width="3.3" opacity="0.59"/>
<path d="M1477,679L1438,742" stroke="#ffe070" stroke-width="5.7" opacity="0.73"/>
<path d="M1165,544L1092,506" stroke="#ffd060" stroke-width="5.7" opacity="0.56"/>
<path d="M1178,430L1157,401" stroke="#ffb848" stroke-width="4.6" opacity="0.54"/>
<path d="M1356,652L1322,672" stroke="#ffb848" stroke-width="3.3" opacity="0.54"/>
<path d="M1678,515L1688,573" stroke="#f8ff80" stroke-width="4.6" opacity="0.67"/>
<path d="M1185,554L1103,543" stroke="#ffb848" stroke-width="2.6" opacity="0.66"/>
<path d="M1188,453L1129,411" stroke="#ffb848" stroke-width="3.3" opacity="0.64"/>
<path d="M1180,493L1153,465" stroke="#ffd060" stroke-width="4.2" opacity="0.53"/>
<path d="M1443,682L1389,727" stroke="#f8ff80" stroke-width="5.1" opacity="0.50"/>
<path d="M1564,652L1533,727" stroke="#ffd060" stroke-width="4.6" opacity="0.48"/>
<path d="M1162,466L1128,443" stroke="#f8ff80" stroke-width="2.9" opacity="0.60"/>
<path d="M1240,607L1186,585" stroke="#ffb848" stroke-width="3.3" opacity="0.62"/>
<path d="M1491,675L1473,715" stroke="#ffd060" stroke-width="3.5" opacity="0.45"/>
<path d="M1202,482L1141,444" stroke="#ffe070" stroke-width="6.0" opacity="0.44"/>
<path d="M1210,571L1147,554" stroke="#ffb848" stroke-width="4.7" opacity="0.60"/>
<path d="M1461,665L1418,721" stroke="#ffb848" stroke-width="5.0" opacity="0.58"/>
<path d="M1400,662L1329,707" stroke="#ffd060" stroke-width="5.2" opacity="0.71"/>
<path d="M1201,537L1168,531" stroke="#f8ff80" stroke-width="3.6" opacity="0.48"/>
<path d="M1563,607L1564,640" stroke="#ffd060" stroke-width="5.5" opacity="0.44"/>
<path d="M1637,563L1641,603" stroke="#ffe070" stroke-width="3.2" opacity="0.63"/>
<path d="M1325,636L1273,643" stroke="#ffe070" stroke-width="3.4" opacity="0.52"/>
<path d="M1158,516L1094,468" stroke="#ffb848" stroke-width="3.6" opacity="0.48"/>
<path d="M1189,418L1134,387" stroke="#ffb848" stroke-width="2.7" opacity="0.51"/>
<path d="M1180,498L1154,459" stroke="#f8ff80" stroke-width="5.2" opacity="0.64"/>
<path d="M1329,642L1271,653" stroke="#f8ff80" stroke-width="3.9" opacity="0.67"/>
<path d="M1643,518L1657,551" stroke="#ffd060" stroke-width="5.1" opacity="0.41"/>
<path d="M1502,642L1484,699" stroke="#ffd060" stroke-width="2.7" opacity="0.65"/>
<path d="M1176,482L1151,428" stroke="#ffd060" stroke-width="4.4" opacity="0.50"/>
<path d="M1590,615L1589,658" stroke="#ffd060" stroke-width="5.2" opacity="0.36"/>
<path d="M1350,649L1317,668" stroke="#f8ff80" stroke-width="2.5" opacity="0.66"/>
<path d="M1149,465L1117,430" stroke="#ffb848" stroke-width="3.2" opacity="0.63"/>
<path d="M1197,430L1163,403" stroke="#f8ff80" stroke-width="5.6" opacity="0.69"/>
<path d="M1629,590L1641,660" stroke="#ffe070" stroke-width="5.6" opacity="0.45"/>
<path d="M1216,361L1219,297" stroke="#ffd060" stroke-width="5.0" opacity="0.36"/>
<path d="M1272,658L1199,640" stroke="#ffd060" stroke-width="5.3" opacity="0.70"/>
<path d="M1160,429L1100,375" stroke="#ffd060" stroke-width="5.9" opacity="0.61"/>
<path d="M1406,684L1377,713" stroke="#ffb848" stroke-width="2.7" opacity="0.64"/>
<path d="M1209,531L1173,506" stroke="#ffe070" stroke-width="4.7" opacity="0.39"/>
<path d="M1342,654L1279,670" stroke="#ffb848" stroke-width="5.2" opacity="0.73"/>
<path d="M1309,640L1269,640" stroke="#f8ff80" stroke-width="4.1" opacity="0.71"/>
<path d="M1191,442L1159,401" stroke="#f8ff80" stroke-width="3.2" opacity="0.41"/>
<path d="M1659,554L1651,617" stroke="#ffe070" stroke-width="3.1" opacity="0.49"/>
<path d="M1563,605L1583,661" stroke="#ffd060" stroke-width="5.5" opacity="0.69"/>
<path d="M1268,607L1209,632" stroke="#f8ff80" stroke-width="3.9" opacity="0.48"/>
<path d="M1207,553L1136,548" stroke="#ffe070" stroke-width="3.4" opacity="0.48"/>
<path d="M1512,656L1466,728" stroke="#ffe070" stroke-width="4.7" opacity="0.71"/>
<path d="M1375,683L1330,737" stroke="#ffb848" stroke-width="5.9" opacity="0.70"/>
<path d="M1205,422L1159,376" stroke="#ffd060" stroke-width="5.4" opacity="0.71"/>
<path d="M1277,604L1192,600" stroke="#ffd060" stroke-width="5.0" opacity="0.35"/>
<path d="M1156,434L1103,358" stroke="#ffe070" stroke-width="4.5" opacity="0.50"/>
<path d="M1269,624L1201,619" stroke="#ffd060" stroke-width="4.5" opacity="0.61"/>
<path d="M1208,378L1157,331" stroke="#ffb848" stroke-width="4.8" opacity="0.57"/>
<path d="M1193,524L1126,506" stroke="#ffe070" stroke-width="5.7" opacity="0.61"/>
<path d="M1180,436L1144,391" stroke="#ffd060" stroke-width="4.8" opacity="0.54"/>
<path d="M1176,527L1130,492" stroke="#ffb848" stroke-width="4.4" opacity="0.65"/>
<path d="M1231,629L1170,613" stroke="#ffd060" stroke-width="2.8" opacity="0.64"/>
<path d="M1552,657L1529,708" stroke="#ffd060" stroke-width="4.3" opacity="0.38"/>
<path d="M1255,640L1161,642" stroke="#ffe070" stroke-width="3.2" opacity="0.57"/>
<path d="M1213,576L1140,544" stroke="#ffd060" stroke-width="4.7" opacity="0.63"/>
<path d="M1190,349L1184,292" stroke="#ffd060" stroke-width="4.0" opacity="0.36"/>
<path d="M1521,650L1487,690" stroke="#f8ff80" stroke-width="5.8" opacity="0.60"/>
<path d="M1176,459L1133,401" stroke="#ffe070" stroke-width="4.8" opacity="0.45"/>
<path d="M1192,381L1162,339" stroke="#ffd060" stroke-width="5.8" opacity="0.44"/>
<path d="M1591,602L1614,660" stroke="#ffd060" stroke-width="3.6" opacity="0.56"/>
<path d="M1177,411L1160,388" stroke="#ffb848" stroke-width="5.4" opacity="0.58"/>
<path d="M1620,622L1623,669" stroke="#ffe070" stroke-width="5.9" opacity="0.41"/>
<path d="M1193,401L1151,364" stroke="#ffb848" stroke-width="3.7" opacity="0.62"/>
<path d="M1587,619L1589,652" stroke="#f8ff80" stroke-width="2.6" opacity="0.74"/>
<path d="M1190,501L1143,460" stroke="#f8ff80" stroke-width="2.8" opacity="0.64"/>
<path d="M1432,688L1382,750" stroke="#f8ff80" stroke-width="3.0" opacity="0.56"/>
<path d="M1663,553L1684,603" stroke="#ffb848" stroke-width="5.4" opacity="0.65"/>
<path d="M1160,437L1129,386" stroke="#ffe070" stroke-width="5.2" opacity="0.65"/>
<path d="M1296,631L1242,633" stroke="#ffb848" stroke-width="3.3" opacity="0.73"/>
<path d="M1200,547L1117,513" stroke="#ffd060" stroke-width="3.6" opacity="0.69"/>
<path d="M1538,668L1542,721" stroke="#ffe070" stroke-width="5.9" opacity="0.38"/>
<path d="M1633,566L1661,617" stroke="#ffb848" stroke-width="3.7" opacity="0.44"/>
<path d="M1557,656L1530,696" stroke="#ffe070" stroke-width="3.2" opacity="0.60"/>
<path d="M1311,680L1248,698" stroke="#ffd060" stroke-width="2.8" opacity="0.60"/>
<path d="M1178,388L1124,341" stroke="#ffd060" stroke-width="3.3" opacity="0.68"/>
<path d="M1670,496L1693,531" stroke="#ffb848" stroke-width="4.6" opacity="0.64"/>
<path d="M1280,663L1240,677" stroke="#f8ff80" stroke-width="5.6" opacity="0.65"/>
<path d="M1673,511L1713,585" stroke="#ffb848" stroke-width="4.0" opacity="0.37"/>
<path d="M1189,361L1167,331" stroke="#ffd060" stroke-width="2.6" opacity="0.54"/>
<path d="M1197,391L1150,332" stroke="#ffe070" stroke-width="4.5" opacity="0.46"/>
<path d="M1269,600L1204,616" stroke="#ffe070" stroke-width="3.0" opacity="0.59"/>
<path d="M1587,584L1575,636" stroke="#ffb848" stroke-width="4.7" opacity="0.44"/>
<path d="M1637,496L1667,543" stroke="#ffe070" stroke-width="5.3" opacity="0.49"/>
<path d="M1365,685L1314,703" stroke="#f8ff80" stroke-width="3.4" opacity="0.62"/>
<path d="M1566,611L1555,667" stroke="#ffb848" stroke-width="5.8" opacity="0.42"/>
<path d="M1322,657L1253,656" stroke="#ffd060" stroke-width="3.1" opacity="0.68"/>
<path d="M1643,592L1656,650" stroke="#ffd060" stroke-width="3.2" opacity="0.50"/>
<path d="M1367,647L1318,659" stroke="#f8ff80" stroke-width="4.0" opacity="0.73"/>
<path d="M1516,652L1474,693" stroke="#ffd060" stroke-width="5.6" opacity="0.70"/>
</g>
</g>
<path d="M1455.7,258.2C1453.1,274.1 1466.7,262.5 1472.1,264.9C1477.4,267.3 1482.7,269.9 1487.9,272.7C1493.0,275.6 1498.1,278.6 1503.0,281.8C1508.0,284.9 1512.8,288.3 1517.5,291.9C1522.2,295.4 1526.8,299.2 1531.2,303.1C1535.6,306.9 1539.8,311.0 1543.9,315.2C1548.0,319.4 1552.0,323.8 1555.8,328.3C1559.6,332.8 1563.2,337.5 1566.6,342.2C1570.0,347.0 1573.3,351.9 1576.4,356.9C1579.4,362.0 1582.3,367.1 1585.0,372.3C1587.7,377.6 1590.2,382.9 1592.5,388.3C1594.8,393.7 1596.8,399.3 1598.7,404.8C1600.6,410.4 1602.3,416.1 1603.7,421.8C1605.2,427.5 1591.4,438.9 1607.4,439.0C1623.5,439.2 1685.4,429.4 1700.0,422.7C1714.6,416.0 1696.8,406.5 1694.8,398.6C1692.8,390.6 1690.4,382.7 1687.8,374.9C1685.2,367.1 1682.3,359.4 1679.1,351.8C1675.9,344.2 1672.4,336.8 1668.7,329.5C1664.9,322.1 1660.9,314.9 1656.6,307.9C1652.3,300.9 1647.7,294.0 1642.9,287.4C1638.1,280.7 1633.1,274.2 1627.8,267.9C1622.5,261.6 1617.0,255.5 1611.2,249.6C1605.5,243.7 1599.5,238.0 1593.4,232.6C1587.2,227.1 1580.8,221.9 1574.3,216.9C1567.7,212.0 1560.9,207.3 1554.0,202.8C1547.1,198.3 1540.0,194.1 1532.8,190.2C1525.6,186.3 1518.2,182.6 1510.7,179.2C1503.2,175.8 1497.0,156.7 1487.9,169.9C1478.7,183.1 1458.4,242.4 1455.7,258.2Z" fill="#ffe474" filter="url(#b10)" opacity="0.9"/>
<g filter="url(#wob2)"><g filter="url(#b2)">
<path d="M1491.4,261.0C1492.4,263.9 1499.0,265.2 1502.7,267.4C1506.4,269.7 1510.1,272.0 1513.7,274.4C1517.3,276.8 1520.8,279.3 1524.3,281.9C1527.7,284.5 1531.1,287.2 1534.4,290.0C1537.7,292.8 1541.0,295.7 1544.1,298.6C1547.3,301.6 1550.4,304.6 1553.4,307.7C1556.4,310.8 1559.3,314.0 1562.2,317.3C1565.0,320.6 1567.8,323.9 1570.4,327.3C1573.1,330.7 1575.7,334.2 1578.1,337.8C1580.6,341.3 1583.0,344.9 1585.3,348.6C1587.6,352.2 1589.8,356.0 1591.9,359.8C1594.0,363.6 1596.0,367.4 1597.9,371.3C1599.8,375.2 1601.6,379.1 1603.3,383.1C1605.0,387.1 1605.4,393.8 1608.0,395.2C1610.7,396.5 1618.3,393.9 1619.3,391.1C1620.4,388.3 1616.1,382.6 1614.3,378.4C1612.6,374.2 1610.7,370.1 1608.7,366.0C1606.7,361.9 1604.6,357.9 1602.4,353.9C1600.2,350.0 1597.9,346.1 1595.5,342.2C1593.1,338.4 1590.6,334.6 1588.0,330.9C1585.4,327.2 1582.7,323.5 1579.9,319.9C1577.1,316.4 1574.2,312.8 1571.2,309.4C1568.2,306.0 1565.2,302.7 1562.0,299.4C1558.9,296.1 1555.6,292.9 1552.3,289.8C1549.0,286.8 1545.6,283.7 1542.1,280.8C1538.7,277.9 1535.1,275.1 1531.5,272.4C1527.8,269.6 1524.2,267.0 1520.4,264.5C1516.6,261.9 1512.8,259.5 1508.9,257.1C1505.0,254.8 1500.0,249.8 1497.1,250.4C1494.1,251.1 1490.5,258.2 1491.4,261.0Z" fill="#ff9a20"/>
<path d="M1529.9,258.8C1530.3,262.1 1537.2,264.1 1540.7,266.8C1544.2,269.6 1547.7,272.4 1551.1,275.3C1554.5,278.3 1557.8,281.3 1561.1,284.4C1564.4,287.5 1567.5,290.6 1570.6,293.9C1573.7,297.2 1576.7,300.5 1579.7,303.9C1582.6,307.3 1585.4,310.8 1588.2,314.3C1590.9,317.8 1593.6,321.5 1596.2,325.1C1598.7,328.8 1601.2,332.6 1603.6,336.4C1606.0,340.1 1608.3,344.0 1610.5,347.9C1612.7,351.8 1614.8,355.8 1616.8,359.8C1618.8,363.8 1620.7,367.9 1622.5,372.0C1624.3,376.1 1626.0,380.3 1627.5,384.5C1629.1,388.7 1630.6,392.9 1632.0,397.2C1633.4,401.5 1632.9,408.6 1635.8,410.1C1638.7,411.7 1647.7,409.4 1649.3,406.5C1650.9,403.6 1646.8,397.4 1645.3,392.9C1643.9,388.4 1642.3,384.0 1640.6,379.5C1639.0,375.1 1637.2,370.8 1635.3,366.4C1633.4,362.1 1631.4,357.8 1629.3,353.6C1627.2,349.4 1625.0,345.2 1622.7,341.1C1620.4,337.0 1618.0,332.9 1615.5,328.9C1613.0,324.9 1610.3,321.0 1607.6,317.1C1604.9,313.2 1602.1,309.4 1599.2,305.7C1596.3,302.0 1593.3,298.3 1590.3,294.8C1587.2,291.2 1584.0,287.7 1580.8,284.3C1577.5,280.8 1574.2,277.5 1570.7,274.2C1567.3,271.0 1563.8,267.8 1560.2,264.7C1556.7,261.7 1553.0,258.7 1549.3,255.8C1545.6,252.9 1541.1,246.9 1537.9,247.4C1534.7,247.9 1529.4,255.6 1529.9,258.8Z" fill="#ffa830"/>
<path d="M1522.0,225.4C1522.8,229.0 1530.4,230.4 1534.5,233.0C1538.6,235.7 1542.7,238.4 1546.6,241.3C1550.6,244.1 1554.5,247.1 1558.3,250.1C1562.1,253.2 1565.9,256.3 1569.5,259.6C1573.2,262.8 1576.8,266.1 1580.3,269.5C1583.8,272.9 1587.2,276.4 1590.5,280.0C1593.8,283.6 1597.1,287.3 1600.2,291.0C1603.4,294.8 1606.4,298.6 1609.4,302.5C1612.3,306.4 1615.2,310.3 1617.9,314.4C1620.7,318.4 1623.3,322.5 1625.9,326.7C1628.4,330.9 1630.9,335.1 1633.2,339.4C1635.5,343.7 1637.8,348.0 1639.9,352.4C1642.0,356.8 1644.0,361.3 1645.9,365.8C1647.8,370.3 1647.9,378.1 1651.3,379.4C1654.7,380.8 1664.7,377.3 1666.3,374.0C1667.9,370.7 1662.7,364.3 1660.7,359.6C1658.7,354.8 1656.5,350.1 1654.3,345.5C1652.1,340.9 1649.7,336.3 1647.2,331.7C1644.8,327.2 1642.2,322.8 1639.5,318.4C1636.8,314.0 1634.0,309.6 1631.1,305.4C1628.2,301.1 1625.2,296.9 1622.1,292.8C1619.0,288.7 1615.8,284.7 1612.5,280.7C1609.2,276.8 1605.7,272.9 1602.2,269.1C1598.7,265.4 1595.1,261.7 1591.5,258.1C1587.8,254.5 1584.0,251.0 1580.1,247.6C1576.3,244.2 1572.3,240.8 1568.3,237.6C1564.3,234.4 1560.1,231.3 1556.0,228.3C1551.8,225.3 1547.5,222.4 1543.2,219.6C1538.9,216.8 1533.5,210.6 1530.0,211.5C1526.5,212.5 1521.2,221.8 1522.0,225.4Z" fill="#ff9a20"/>
<path d="M1560.8,214.6C1561.4,217.0 1566.8,218.8 1569.7,221.0C1572.6,223.2 1575.4,225.4 1578.3,227.7C1581.1,230.0 1583.9,232.3 1586.6,234.7C1589.4,237.1 1592.1,239.5 1594.8,241.9C1597.5,244.4 1600.1,246.9 1602.7,249.5C1605.3,252.0 1607.8,254.6 1610.3,257.3C1612.8,259.9 1615.3,262.6 1617.7,265.3C1620.1,268.0 1622.4,270.8 1624.7,273.6C1627.1,276.4 1629.3,279.2 1631.6,282.1C1633.8,285.0 1635.9,287.9 1638.1,290.9C1640.2,293.8 1642.3,296.8 1644.3,299.8C1646.3,302.8 1648.3,305.9 1650.2,309.0C1652.1,312.1 1654.0,315.2 1655.8,318.3C1657.6,321.5 1658.7,327.1 1661.1,327.9C1663.4,328.7 1669.3,325.6 1669.9,323.2C1670.5,320.8 1666.3,316.6 1664.5,313.4C1662.6,310.1 1660.7,306.9 1658.7,303.7C1656.7,300.5 1654.7,297.4 1652.6,294.3C1650.5,291.2 1648.4,288.1 1646.2,285.0C1644.0,282.0 1641.8,279.0 1639.5,276.0C1637.2,273.0 1634.8,270.1 1632.5,267.2C1630.1,264.3 1627.6,261.5 1625.2,258.7C1622.7,255.9 1620.1,253.1 1617.6,250.4C1615.0,247.7 1612.4,245.0 1609.7,242.4C1607.0,239.7 1604.3,237.1 1601.6,234.6C1598.8,232.1 1596.0,229.6 1593.2,227.1C1590.3,224.7 1587.5,222.3 1584.5,219.9C1581.6,217.6 1578.7,215.3 1575.7,213.0C1572.7,210.8 1569.0,206.1 1566.6,206.4C1564.1,206.7 1560.3,212.2 1560.8,214.6Z" fill="#ffb040"/>
<path d="M1598.0,214.2C1598.3,215.9 1602.0,217.5 1604.0,219.3C1605.9,221.0 1607.8,222.7 1609.7,224.5C1611.7,226.2 1613.6,228.0 1615.4,229.8C1617.3,231.6 1619.1,233.4 1621.0,235.2C1622.8,237.1 1624.6,238.9 1626.4,240.8C1628.2,242.7 1630.0,244.6 1631.7,246.5C1633.5,248.4 1635.2,250.4 1636.9,252.3C1638.6,254.3 1640.3,256.3 1641.9,258.3C1643.6,260.3 1645.2,262.3 1646.8,264.3C1648.4,266.4 1650.0,268.4 1651.6,270.5C1653.2,272.5 1654.7,274.6 1656.2,276.7C1657.8,278.8 1659.3,281.0 1660.7,283.1C1662.2,285.2 1663.6,287.4 1665.1,289.6C1666.5,291.7 1667.6,295.6 1669.3,296.1C1671.0,296.6 1674.9,294.1 1675.2,292.4C1675.5,290.7 1672.4,287.9 1670.9,285.7C1669.5,283.5 1668.0,281.3 1666.5,279.1C1665.0,276.9 1663.5,274.8 1661.9,272.6C1660.4,270.5 1658.8,268.4 1657.2,266.3C1655.6,264.1 1654.0,262.0 1652.3,260.0C1650.7,257.9 1649.0,255.8 1647.3,253.8C1645.6,251.8 1643.9,249.8 1642.2,247.8C1640.4,245.8 1638.7,243.8 1636.9,241.8C1635.1,239.9 1633.3,237.9 1631.5,236.0C1629.7,234.1 1627.8,232.2 1625.9,230.3C1624.1,228.4 1622.2,226.6 1620.3,224.7C1618.4,222.9 1616.4,221.1 1614.5,219.3C1612.5,217.5 1610.6,215.7 1608.6,214.0C1606.6,212.2 1604.3,208.8 1602.5,208.8C1600.8,208.9 1597.8,212.4 1598.0,214.2Z" fill="#ffc050"/>
</g></g>
<g filter="url(#wob2)">
<path d="M1193.0,515.0C1193.5,505.0 1202.7,493.0 1206.0,482.0C1209.3,471.0 1212.3,459.0 1213.0,449.0C1213.7,439.0 1209.5,432.0 1210.0,422.0C1210.5,412.0 1212.2,400.0 1216.0,389.0C1219.8,378.0 1227.5,365.8 1233.0,356.0C1238.5,346.2 1240.7,339.3 1249.0,330.0C1257.3,320.7 1271.8,308.2 1283.0,300.0C1294.2,291.8 1302.8,286.0 1316.0,281.0C1329.2,276.0 1345.5,273.8 1362.0,270.0C1378.5,266.2 1397.8,261.2 1415.0,258.0C1432.2,254.8 1447.5,252.3 1465.0,251.0C1482.5,249.7 1502.5,248.8 1520.0,250.0C1537.5,251.2 1552.5,254.3 1570.0,258.0C1587.5,261.7 1608.0,266.3 1625.0,272.0C1642.0,277.7 1655.3,284.3 1672.0,292.0C1688.7,299.7 1705.3,306.7 1725.0,318.0C1744.7,329.3 1779.2,339.7 1790.0,360.0C1800.8,380.3 1790.0,405.0 1790.0,440.0C1790.0,475.0 1800.0,545.8 1790.0,570.0C1780.0,594.2 1746.7,581.7 1730.0,585.0C1713.3,588.3 1702.5,587.0 1690.0,590.0C1677.5,593.0 1666.3,597.7 1655.0,603.0C1643.7,608.3 1632.8,615.8 1622.0,622.0C1611.2,628.2 1600.0,635.7 1590.0,640.0C1580.0,644.3 1571.8,647.0 1562.0,648.0C1552.2,649.0 1541.7,648.3 1531.0,646.0C1520.3,643.7 1506.3,632.7 1498.0,634.0C1489.7,635.3 1489.3,647.8 1481.0,654.0C1472.7,660.2 1460.2,667.2 1448.0,671.0C1435.8,674.8 1421.8,677.7 1408.0,677.0C1394.2,676.3 1377.0,669.7 1365.0,667.0C1353.0,664.3 1347.0,665.8 1336.0,661.0C1325.0,656.2 1310.7,646.8 1299.0,638.0C1287.3,629.2 1277.0,618.5 1266.0,608.0C1255.0,597.5 1243.5,586.0 1233.0,575.0C1222.5,564.0 1209.7,552.0 1203.0,542.0C1196.3,532.0 1192.5,525.0 1193.0,515.0Z" fill="#ffff80" stroke="#ffff80" stroke-width="26" stroke-linejoin="round" filter="url(#b10)"/>
<path d="M1193.0,515.0C1193.5,505.0 1202.7,493.0 1206.0,482.0C1209.3,471.0 1212.3,459.0 1213.0,449.0C1213.7,439.0 1209.5,432.0 1210.0,422.0C1210.5,412.0 1212.2,400.0 1216.0,389.0C1219.8,378.0 1227.5,365.8 1233.0,356.0C1238.5,346.2 1240.7,339.3 1249.0,330.0C1257.3,320.7 1271.8,308.2 1283.0,300.0C1294.2,291.8 1302.8,286.0 1316.0,281.0C1329.2,276.0 1345.5,273.8 1362.0,270.0C1378.5,266.2 1397.8,261.2 1415.0,258.0C1432.2,254.8 1447.5,252.3 1465.0,251.0C1482.5,249.7 1502.5,248.8 1520.0,250.0C1537.5,251.2 1552.5,254.3 1570.0,258.0C1587.5,261.7 1608.0,266.3 1625.0,272.0C1642.0,277.7 1655.3,284.3 1672.0,292.0C1688.7,299.7 1705.3,306.7 1725.0,318.0C1744.7,329.3 1779.2,339.7 1790.0,360.0C1800.8,380.3 1790.0,405.0 1790.0,440.0C1790.0,475.0 1800.0,545.8 1790.0,570.0C1780.0,594.2 1746.7,581.7 1730.0,585.0C1713.3,588.3 1702.5,587.0 1690.0,590.0C1677.5,593.0 1666.3,597.7 1655.0,603.0C1643.7,608.3 1632.8,615.8 1622.0,622.0C1611.2,628.2 1600.0,635.7 1590.0,640.0C1580.0,644.3 1571.8,647.0 1562.0,648.0C1552.2,649.0 1541.7,648.3 1531.0,646.0C1520.3,643.7 1506.3,632.7 1498.0,634.0C1489.7,635.3 1489.3,647.8 1481.0,654.0C1472.7,660.2 1460.2,667.2 1448.0,671.0C1435.8,674.8 1421.8,677.7 1408.0,677.0C1394.2,676.3 1377.0,669.7 1365.0,667.0C1353.0,664.3 1347.0,665.8 1336.0,661.0C1325.0,656.2 1310.7,646.8 1299.0,638.0C1287.3,629.2 1277.0,618.5 1266.0,608.0C1255.0,597.5 1243.5,586.0 1233.0,575.0C1222.5,564.0 1209.7,552.0 1203.0,542.0C1196.3,532.0 1192.5,525.0 1193.0,515.0Z" fill="#ffa428" stroke="#ffa428" stroke-width="4" filter="url(#b5)"/>
<g clip-path="url(#c2b)">
<ellipse cx="1690" cy="470" rx="80" ry="170" fill="#ffc450" filter="url(#b20)" opacity="0.9"/>
<path d="M1215.0,500.0C1212.0,480.8 1217.8,458.3 1222.0,440.0C1226.2,421.7 1231.2,407.5 1240.0,390.0C1248.8,372.5 1260.0,350.0 1275.0,335.0C1290.0,320.0 1309.2,308.3 1330.0,300.0C1350.8,291.7 1376.7,287.5 1400.0,285.0C1423.3,282.5 1448.3,281.7 1470.0,285.0C1491.7,288.3 1514.2,294.2 1530.0,305.0C1545.8,315.8 1557.5,330.8 1565.0,350.0C1572.5,369.2 1575.8,395.0 1575.0,420.0C1574.2,445.0 1565.0,475.0 1560.0,500.0C1555.0,525.0 1553.3,550.0 1545.0,570.0C1536.7,590.0 1525.8,606.7 1510.0,620.0C1494.2,633.3 1470.0,645.0 1450.0,650.0C1430.0,655.0 1410.0,652.5 1390.0,650.0C1370.0,647.5 1348.3,643.3 1330.0,635.0C1311.7,626.7 1295.0,613.3 1280.0,600.0C1265.0,586.7 1250.8,571.7 1240.0,555.0C1229.2,538.3 1218.0,519.2 1215.0,500.0Z" fill="#e87008" filter="url(#b16)"/>
<path d="M1213.0,480.0C1210.5,461.7 1217.2,445.8 1225.0,430.0C1232.8,414.2 1245.8,398.3 1260.0,385.0C1274.2,371.7 1290.0,358.3 1310.0,350.0C1330.0,341.7 1356.7,336.7 1380.0,335.0C1403.3,333.3 1429.2,334.2 1450.0,340.0C1470.8,345.8 1492.5,355.0 1505.0,370.0C1517.5,385.0 1522.5,405.0 1525.0,430.0C1527.5,455.0 1524.2,491.7 1520.0,520.0C1515.8,548.3 1511.7,580.0 1500.0,600.0C1488.3,620.0 1468.3,634.2 1450.0,640.0C1431.7,645.8 1410.0,638.3 1390.0,635.0C1370.0,631.7 1348.3,627.5 1330.0,620.0C1311.7,612.5 1295.0,603.3 1280.0,590.0C1265.0,576.7 1251.2,558.3 1240.0,540.0C1228.8,521.7 1215.5,498.3 1213.0,480.0Z" fill="#c84c04" filter="url(#b12)"/>
<path d="M1215.0,462.0C1216.0,455.8 1215.3,447.2 1221.0,445.0C1226.7,442.8 1237.7,451.7 1249.0,449.0C1260.3,446.3 1277.8,436.2 1289.0,429.0C1300.2,421.8 1306.0,413.7 1316.0,406.0C1326.0,398.3 1335.2,389.2 1349.0,383.0C1362.8,376.8 1382.5,370.2 1399.0,369.0C1415.5,367.8 1434.3,371.5 1448.0,376.0C1461.7,380.5 1472.7,386.0 1481.0,396.0C1489.3,406.0 1495.7,421.7 1498.0,436.0C1500.3,450.3 1497.2,466.0 1495.0,482.0C1492.8,498.0 1487.3,515.5 1485.0,532.0C1482.7,548.5 1483.8,567.3 1481.0,581.0C1478.2,594.7 1474.5,605.7 1468.0,614.0C1461.5,622.3 1450.8,628.7 1442.0,631.0C1433.2,633.3 1425.0,631.8 1415.0,628.0C1405.0,624.2 1393.0,610.8 1382.0,608.0C1371.0,605.2 1360.0,612.2 1349.0,611.0C1338.0,609.8 1327.0,604.8 1316.0,601.0C1305.0,597.2 1292.5,594.7 1283.0,588.0C1273.5,581.3 1266.3,570.3 1259.0,561.0C1251.7,551.7 1245.0,541.8 1239.0,532.0C1233.0,522.2 1227.0,510.3 1223.0,502.0C1219.0,493.7 1216.3,488.7 1215.0,482.0C1213.7,475.3 1214.0,468.2 1215.0,462.0Z" fill="#800000" filter="url(#b8)"/>
<path d="M1259.3,409.0C1264.3,405.7 1278.7,395.8 1289.2,389.2C1299.7,382.5 1310.2,374.8 1322.3,369.3C1334.4,363.8 1347.7,359.3 1362.1,356.0C1376.4,352.7 1394.1,349.4 1408.4,349.4C1422.8,349.4 1436.1,352.2 1448.2,356.0C1460.4,359.9 1473.1,366.0 1481.3,372.6C1489.6,379.2 1495.2,391.9 1497.9,395.8" fill="none" stroke="#8c0c00" stroke-width="22" stroke-linecap="round" filter="url(#b6)"/>
<g filter="url(#b4)" fill="none" stroke-linecap="round">
<path d="M1329.9,358.1C1328.5,358.1 1324.4,358.3 1321.7,358.6C1318.9,358.9 1316.1,359.3 1313.4,359.8C1310.6,360.3 1307.8,360.9 1305.1,361.7C1302.3,362.4 1299.6,363.3 1296.9,364.2C1294.1,365.2 1291.4,366.3 1288.7,367.5C1286.1,368.8 1283.4,370.1 1280.8,371.5C1278.2,373.0 1275.6,374.6 1273.1,376.2C1270.6,377.9 1268.1,379.7 1265.7,381.6C1263.2,383.5 1260.9,385.5 1258.6,387.7C1256.3,389.8 1253.1,393.2 1252.0,394.4" stroke="#ffb848" stroke-width="11.0" opacity="0.14"/>
<path d="M1277.5,519.8C1278.6,521.4 1282.0,526.4 1284.6,529.5C1287.2,532.6 1290.0,535.6 1293.0,538.4C1296.0,541.2 1299.2,543.8 1302.6,546.2C1305.9,548.7 1309.4,550.9 1313.1,553.0C1316.8,555.0 1320.6,556.8 1324.5,558.4C1328.5,560.0 1332.5,561.4 1336.7,562.5C1340.8,563.6 1345.1,564.4 1349.4,565.0C1353.7,565.6 1358.1,566.0 1362.5,566.1C1366.8,566.1 1371.3,565.9 1375.7,565.5C1380.1,565.0 1386.7,563.6 1388.9,563.2" stroke="#ffb848" stroke-width="9.8" opacity="0.13"/>
<path d="M1421.5,451.3C1421.5,450.5 1421.6,448.3 1421.6,446.9C1421.6,445.4 1421.5,443.9 1421.4,442.5C1421.2,441.0 1421.1,439.5 1420.9,438.0C1420.6,436.5 1420.4,435.0 1420.1,433.6C1419.7,432.1 1419.4,430.6 1419.0,429.2C1418.5,427.7 1418.1,426.2 1417.6,424.8C1417.0,423.3 1416.5,421.9 1415.9,420.5C1415.3,419.0 1414.6,417.6 1413.9,416.2C1413.2,414.8 1412.4,413.5 1411.6,412.1C1410.8,410.7 1409.5,408.8 1409.1,408.1" stroke="#ffb848" stroke-width="6.7" opacity="0.24"/>
<path d="M1427.9,461.9C1427.9,459.5 1428.2,452.4 1427.7,447.7C1427.2,443.0 1426.3,438.3 1424.9,433.8C1423.5,429.3 1421.6,424.8 1419.4,420.6C1417.1,416.3 1414.4,412.3 1411.4,408.5C1408.4,404.8 1405.0,401.3 1401.3,398.2C1397.6,395.1 1393.5,392.3 1389.3,389.9C1385.0,387.5 1380.5,385.5 1375.8,384.0C1371.2,382.5 1366.3,381.4 1361.5,380.8C1356.6,380.1 1351.5,380.0 1346.6,380.3C1341.7,380.6 1334.3,382.3 1331.9,382.7" stroke="#700000" stroke-width="8.6" opacity="0.17"/>
<path d="M1231.5,505.3C1232.4,508.0 1234.6,516.1 1236.6,521.4C1238.7,526.6 1241.1,531.8 1243.8,536.9C1246.5,541.9 1249.7,546.8 1253.1,551.6C1256.5,556.3 1260.2,560.8 1264.3,565.1C1268.3,569.4 1272.7,573.5 1277.4,577.3C1282.0,581.1 1286.9,584.7 1292.1,587.9C1297.2,591.2 1302.7,594.1 1308.3,596.7C1313.9,599.3 1319.7,601.6 1325.7,603.4C1331.7,605.3 1337.8,606.8 1344.1,607.9C1350.3,609.0 1360.0,609.7 1363.2,610.1" stroke="#700000" stroke-width="5.0" opacity="0.20"/>
<path d="M1333.6,400.1C1332.4,400.5 1328.7,401.6 1326.3,402.6C1323.9,403.6 1321.6,404.8 1319.3,406.1C1317.1,407.4 1314.9,408.8 1312.8,410.4C1310.7,412.0 1308.7,413.8 1306.8,415.6C1304.9,417.5 1303.1,419.4 1301.4,421.5C1299.8,423.6 1298.2,425.8 1296.9,428.1C1295.5,430.4 1294.2,432.9 1293.1,435.3C1292.0,437.8 1291.0,440.4 1290.3,443.0C1289.5,445.6 1288.8,448.3 1288.4,451.0C1287.9,453.7 1287.6,457.9 1287.5,459.2" stroke="#700000" stroke-width="9.1" opacity="0.20"/>
<path d="M1616.9,517.9C1618.6,513.2 1624.2,499.5 1627.2,489.9C1630.1,480.3 1632.5,470.4 1634.4,460.4C1636.2,450.3 1637.6,440.0 1638.4,429.7C1639.1,419.3 1639.3,408.7 1638.9,398.1C1638.5,387.6 1637.5,376.8 1635.9,366.2C1634.3,355.5 1632.1,344.8 1629.3,334.2C1626.5,323.6 1623.1,313.0 1619.0,302.6C1615.0,292.2 1610.3,281.8 1605.1,271.7C1599.8,261.7 1594.0,251.8 1587.5,242.2C1581.1,232.6 1570.0,218.9 1566.5,214.3" stroke="#ffb848" stroke-width="4.7" opacity="0.22"/>
<path d="M1142.9,523.5C1144.9,530.1 1149.6,550.4 1154.8,563.2C1160.1,576.1 1166.6,588.9 1174.3,600.8C1182.0,612.7 1191.0,624.3 1200.9,634.7C1210.9,645.2 1222.0,655.0 1234.0,663.6C1245.9,672.2 1259.0,679.9 1272.5,686.3C1286.1,692.6 1300.6,697.8 1315.3,701.6C1330.1,705.3 1345.6,707.8 1361.0,708.8C1376.5,709.8 1392.4,709.4 1408.0,707.4C1423.7,705.4 1439.5,702.0 1454.8,697.1C1470.0,692.2 1492.0,681.2 1499.5,678.0" stroke="#ffb848" stroke-width="5.1" opacity="0.13"/>
<path d="M1342.9,637.5C1345.1,638.1 1351.3,640.3 1355.6,641.5C1360.0,642.7 1364.4,643.7 1368.8,644.6C1373.3,645.4 1377.9,646.1 1382.5,646.7C1387.1,647.2 1391.8,647.6 1396.5,647.8C1401.2,648.0 1406.0,648.0 1410.8,647.8C1415.6,647.6 1420.4,647.3 1425.3,646.8C1430.1,646.2 1435.0,645.5 1439.9,644.6C1444.8,643.7 1449.7,642.6 1454.6,641.3C1459.5,640.0 1464.4,638.5 1469.2,636.9C1474.1,635.2 1481.3,632.2 1483.7,631.2" stroke="#ffb848" stroke-width="5.5" opacity="0.21"/>
<path d="M1362.0,351.1C1360.1,350.9 1354.5,350.1 1350.6,349.8C1346.8,349.6 1342.9,349.6 1339.1,349.8C1335.2,350.0 1331.3,350.4 1327.5,351.0C1323.6,351.6 1319.7,352.4 1315.9,353.4C1312.1,354.5 1308.3,355.7 1304.6,357.1C1300.9,358.6 1297.3,360.2 1293.7,362.1C1290.1,363.9 1286.6,365.9 1283.2,368.2C1279.9,370.4 1276.6,372.8 1273.4,375.4C1270.3,378.0 1267.2,380.8 1264.3,383.8C1261.5,386.7 1257.5,391.6 1256.1,393.1" stroke="#ffb848" stroke-width="9.8" opacity="0.16"/>
<path d="M1596.8,334.8C1594.6,330.1 1588.3,316.0 1583.2,307.0C1578.1,298.0 1572.4,289.2 1566.3,280.8C1560.2,272.3 1553.6,264.2 1546.5,256.4C1539.4,248.7 1531.8,241.2 1523.8,234.3C1515.8,227.4 1507.4,220.8 1498.6,214.8C1489.8,208.7 1480.6,203.1 1471.1,198.1C1461.7,193.0 1451.8,188.5 1441.7,184.5C1431.7,180.5 1421.3,177.1 1410.8,174.3C1400.3,171.4 1389.5,169.2 1378.6,167.5C1367.8,165.9 1351.1,165.0 1345.7,164.5" stroke="#700000" stroke-width="5.4" opacity="0.28"/>
<path d="M1582.7,532.4C1584.1,530.1 1588.4,523.5 1591.1,518.9C1593.7,514.3 1596.3,509.6 1598.7,504.8C1601.1,499.9 1603.3,494.9 1605.4,489.8C1607.5,484.8 1609.5,479.6 1611.2,474.3C1613.0,469.0 1614.6,463.6 1616.1,458.1C1617.5,452.6 1618.8,447.0 1619.9,441.4C1621.0,435.7 1621.9,430.0 1622.6,424.2C1623.3,418.4 1623.9,412.5 1624.2,406.6C1624.5,400.6 1624.7,394.7 1624.6,388.6C1624.6,382.6 1624.0,373.5 1623.9,370.4" stroke="#ffb848" stroke-width="7.0" opacity="0.13"/>
<path d="M1409.7,545.9C1411.5,544.9 1417.1,542.0 1420.6,539.6C1424.1,537.3 1427.5,534.7 1430.8,532.0C1434.0,529.2 1437.1,526.2 1440.0,523.1C1443.0,519.9 1445.7,516.5 1448.3,513.0C1450.8,509.4 1453.2,505.7 1455.3,501.9C1457.4,498.0 1459.4,494.0 1461.0,489.8C1462.7,485.7 1464.1,481.4 1465.3,477.1C1466.5,472.7 1467.4,468.2 1468.0,463.7C1468.7,459.2 1469.1,454.6 1469.2,450.0C1469.2,445.4 1468.7,438.4 1468.6,436.1" stroke="#700000" stroke-width="4.7" opacity="0.15"/>
<path d="M1395.4,405.7C1394.3,404.7 1391.1,401.8 1388.7,400.1C1386.3,398.4 1383.8,396.8 1381.2,395.4C1378.7,394.1 1375.9,392.8 1373.2,391.7C1370.4,390.7 1367.5,389.8 1364.6,389.1C1361.6,388.4 1358.6,387.9 1355.6,387.6C1352.6,387.3 1349.5,387.1 1346.4,387.2C1343.4,387.3 1340.3,387.6 1337.2,388.1C1334.1,388.5 1331.1,389.2 1328.1,390.1C1325.1,391.0 1322.1,392.1 1319.2,393.4C1316.3,394.6 1312.1,397.1 1310.7,397.8" stroke="#700000" stroke-width="9.0" opacity="0.19"/>
<path d="M1467.7,185.9C1464.9,184.4 1456.6,179.9 1450.9,177.2C1445.3,174.4 1439.4,171.9 1433.6,169.5C1427.7,167.1 1421.7,164.9 1415.6,162.9C1409.5,160.9 1403.3,159.1 1397.1,157.4C1390.9,155.8 1384.6,154.4 1378.2,153.1C1371.8,151.9 1365.4,150.9 1358.9,150.0C1352.4,149.2 1345.9,148.6 1339.3,148.2C1332.7,147.8 1326.1,147.6 1319.5,147.6C1312.8,147.6 1306.2,147.8 1299.5,148.2C1292.9,148.7 1282.9,149.9 1279.5,150.2" stroke="#ffb848" stroke-width="9.2" opacity="0.19"/>
<path d="M1324.6,326.6C1323.1,326.6 1318.8,326.2 1315.9,326.2C1312.9,326.2 1310.0,326.2 1307.0,326.4C1304.0,326.5 1301.0,326.8 1298.0,327.1C1294.9,327.5 1291.9,327.9 1288.9,328.5C1285.8,329.1 1282.8,329.7 1279.7,330.5C1276.7,331.3 1273.6,332.2 1270.6,333.2C1267.6,334.2 1264.5,335.3 1261.5,336.5C1258.5,337.7 1255.5,339.0 1252.5,340.4C1249.6,341.8 1246.6,343.4 1243.7,345.0C1240.8,346.7 1236.5,349.4 1235.1,350.3" stroke="#ffb848" stroke-width="4.2" opacity="0.24"/>
<path d="M1063.4,440.9C1063.0,450.2 1060.1,478.1 1061.1,496.8C1062.2,515.5 1065.0,534.6 1069.7,553.0C1074.4,571.4 1080.9,589.9 1089.1,607.3C1097.3,624.8 1107.4,641.9 1118.9,657.6C1130.4,673.4 1143.8,688.5 1158.3,702.0C1172.8,715.4 1189.0,727.9 1206.1,738.5C1223.2,749.1 1241.7,758.3 1260.7,765.6C1279.7,772.8 1299.9,778.4 1320.2,782.0C1340.6,785.5 1361.7,787.2 1382.7,786.8C1403.6,786.4 1435.2,780.8 1445.7,779.6" stroke="#ffb848" stroke-width="7.1" opacity="0.26"/>
<path d="M1313.3,510.2C1314.3,511.2 1317.4,514.0 1319.7,515.7C1322.0,517.4 1324.4,519.0 1326.9,520.4C1329.4,521.8 1332.0,523.0 1334.7,524.1C1337.4,525.2 1340.2,526.1 1343.1,526.8C1345.9,527.6 1348.8,528.2 1351.8,528.5C1354.7,528.9 1357.7,529.1 1360.8,529.1C1363.8,529.1 1366.8,528.9 1369.8,528.5C1372.9,528.2 1375.9,527.6 1378.9,526.8C1381.9,526.0 1384.9,525.1 1387.7,523.9C1390.6,522.7 1394.8,520.5 1396.3,519.8" stroke="#ffb848" stroke-width="8.1" opacity="0.12"/>
<path d="M1468.5,345.6C1466.4,343.1 1460.6,335.4 1456.1,330.7C1451.7,325.9 1446.9,321.4 1441.8,317.1C1436.7,312.9 1431.3,308.9 1425.7,305.2C1420.1,301.5 1414.1,298.2 1408.0,295.2C1401.8,292.1 1395.4,289.5 1388.9,287.2C1382.3,284.9 1375.5,283.0 1368.7,281.5C1361.8,280.0 1354.7,278.9 1347.6,278.2C1340.4,277.5 1333.2,277.3 1325.9,277.5C1318.6,277.7 1311.3,278.3 1304.0,279.4C1296.7,280.5 1285.8,283.2 1282.1,284.0" stroke="#700000" stroke-width="6.8" opacity="0.18"/>
<path d="M1489.4,437.0C1489.3,435.0 1489.1,429.0 1488.7,424.9C1488.3,420.9 1487.7,416.8 1487.0,412.8C1486.2,408.8 1485.3,404.7 1484.1,400.7C1483.0,396.7 1481.7,392.7 1480.2,388.8C1478.7,384.9 1477.0,381.0 1475.1,377.2C1473.3,373.3 1471.2,369.6 1469.0,365.9C1466.8,362.2 1464.4,358.6 1461.8,355.0C1459.2,351.5 1456.5,348.1 1453.6,344.8C1450.7,341.5 1447.6,338.2 1444.4,335.2C1441.2,332.1 1436.0,327.8 1434.3,326.3" stroke="#ffb848" stroke-width="9.0" opacity="0.22"/>
<path d="M1382.5,259.1C1378.8,258.4 1368.1,255.8 1360.8,254.7C1353.5,253.6 1346.0,252.9 1338.5,252.7C1331.0,252.4 1323.4,252.6 1315.8,253.1C1308.3,253.7 1300.7,254.7 1293.1,256.1C1285.6,257.5 1278.0,259.4 1270.6,261.6C1263.2,263.9 1255.8,266.6 1248.6,269.7C1241.4,272.8 1234.2,276.3 1227.3,280.2C1220.4,284.1 1213.6,288.5 1207.1,293.2C1200.6,297.9 1194.3,303.0 1188.2,308.4C1182.2,313.9 1173.9,322.9 1171.0,325.8" stroke="#ffb848" stroke-width="9.3" opacity="0.25"/>
<path d="M1187.7,506.1C1188.2,508.6 1189.7,516.1 1191.1,521.0C1192.4,525.9 1194.0,530.8 1195.8,535.7C1197.6,540.5 1199.6,545.3 1201.9,550.0C1204.1,554.7 1206.6,559.3 1209.2,563.8C1211.9,568.3 1214.8,572.8 1217.8,577.0C1220.9,581.3 1224.2,585.5 1227.7,589.6C1231.2,593.6 1234.8,597.6 1238.7,601.3C1242.5,605.1 1246.6,608.7 1250.8,612.1C1255.0,615.5 1259.3,618.8 1263.9,621.9C1268.4,624.9 1275.5,629.1 1277.9,630.5" stroke="#ffb848" stroke-width="8.5" opacity="0.22"/>
<path d="M1323.5,493.4C1324.6,494.3 1327.6,497.3 1329.9,499.0C1332.2,500.7 1334.8,502.2 1337.4,503.4C1340.0,504.7 1342.8,505.7 1345.6,506.5C1348.5,507.2 1351.5,507.8 1354.5,508.0C1357.4,508.2 1360.5,508.2 1363.6,507.9C1366.6,507.6 1369.7,507.0 1372.6,506.2C1375.6,505.3 1378.6,504.2 1381.4,502.8C1384.2,501.3 1387.0,499.7 1389.5,497.7C1392.1,495.8 1394.5,493.6 1396.7,491.2C1398.9,488.9 1401.7,484.7 1402.7,483.4" stroke="#700000" stroke-width="5.6" opacity="0.28"/>
<path d="M1318.7,573.3C1322.3,574.3 1333.3,578.0 1340.8,579.2C1348.3,580.5 1356.2,581.1 1363.9,580.9C1371.6,580.7 1379.5,579.8 1387.2,578.2C1394.8,576.5 1402.5,574.1 1409.8,571.0C1417.0,567.9 1424.2,564.1 1430.8,559.6C1437.5,555.2 1443.8,550.0 1449.5,544.3C1455.3,538.6 1460.6,532.2 1465.2,525.5C1469.8,518.8 1473.9,511.5 1477.2,503.9C1480.5,496.3 1483.1,488.3 1485.0,480.2C1486.8,472.0 1487.6,459.3 1488.2,455.1" stroke="#700000" stroke-width="7.6" opacity="0.25"/>
<path d="M1299.5,261.0C1294.1,262.6 1277.7,266.5 1267.3,270.6C1256.8,274.7 1246.5,279.8 1236.8,285.6C1227.0,291.4 1217.6,298.1 1208.8,305.5C1200.1,312.9 1191.8,321.1 1184.3,329.9C1176.8,338.7 1169.9,348.3 1163.9,358.3C1157.9,368.3 1152.6,379.0 1148.2,390.0C1143.9,400.9 1140.4,412.5 1137.9,424.1C1135.4,435.7 1133.8,447.8 1133.2,459.8C1132.6,471.8 1133.0,484.0 1134.4,496.1C1135.8,508.1 1140.4,526.0 1141.6,532.0" stroke="#700000" stroke-width="6.6" opacity="0.14"/>
<path d="M1116.7,292.2C1113.7,296.2 1104.2,307.6 1098.6,315.8C1092.9,324.0 1087.6,332.6 1082.8,341.4C1078.0,350.2 1073.5,359.4 1069.6,368.8C1065.7,378.1 1062.2,387.8 1059.2,397.6C1056.2,407.4 1053.7,417.5 1051.7,427.6C1049.7,437.8 1048.2,448.1 1047.3,458.5C1046.4,468.9 1045.9,479.5 1046.1,490.0C1046.2,500.6 1046.9,511.2 1048.1,521.8C1049.4,532.4 1051.1,543.0 1053.5,553.4C1055.8,563.9 1060.7,579.5 1062.1,584.7" stroke="#700000" stroke-width="8.8" opacity="0.25"/>
<path d="M1073.0,497.0C1074.1,505.0 1075.9,529.1 1079.4,544.9C1082.9,560.7 1087.8,576.5 1094.0,591.7C1100.2,606.9 1107.9,621.9 1116.7,636.1C1125.5,650.2 1135.7,663.9 1146.9,676.5C1158.2,689.1 1170.7,701.1 1184.1,711.7C1197.5,722.4 1212.1,732.2 1227.3,740.6C1242.5,749.0 1258.8,756.3 1275.4,762.1C1292.0,767.8 1309.5,772.3 1327.2,775.2C1344.8,778.2 1363.0,779.7 1381.1,779.6C1399.2,779.5 1426.7,775.5 1435.8,774.7" stroke="#ffb848" stroke-width="7.4" opacity="0.17"/>
<path d="M1201.0,363.3C1199.5,365.8 1194.5,373.0 1191.7,378.0C1188.8,383.0 1186.1,388.3 1183.7,393.6C1181.3,398.9 1179.1,404.4 1177.2,410.0C1175.3,415.5 1173.7,421.2 1172.3,427.0C1171.0,432.8 1169.9,438.6 1169.1,444.5C1168.3,450.4 1167.7,456.4 1167.5,462.4C1167.3,468.4 1167.3,474.4 1167.7,480.4C1168.1,486.4 1168.7,492.5 1169.6,498.5C1170.6,504.5 1171.8,510.4 1173.3,516.3C1174.8,522.3 1177.8,531.0 1178.8,533.9" stroke="#700000" stroke-width="6.9" opacity="0.15"/>
<path d="M1288.3,422.2C1287.6,423.3 1285.6,426.3 1284.4,428.5C1283.2,430.6 1282.2,432.8 1281.2,435.1C1280.2,437.4 1279.3,439.7 1278.6,442.1C1277.8,444.5 1277.2,446.9 1276.6,449.4C1276.1,451.9 1275.7,454.4 1275.4,456.9C1275.2,459.5 1275.0,462.0 1275.0,464.6C1274.9,467.2 1275.0,469.8 1275.2,472.3C1275.5,474.9 1275.8,477.5 1276.3,480.1C1276.7,482.7 1277.4,485.3 1278.1,487.8C1278.8,490.3 1280.2,494.1 1280.7,495.3" stroke="#700000" stroke-width="5.9" opacity="0.19"/>
<path d="M1496.9,688.9C1501.5,686.9 1515.5,681.3 1524.6,676.7C1533.7,672.0 1542.6,666.8 1551.3,661.1C1560.0,655.4 1568.5,649.1 1576.6,642.3C1584.7,635.5 1592.6,628.1 1600.1,620.3C1607.6,612.5 1614.7,604.2 1621.4,595.4C1628.0,586.6 1634.3,577.4 1640.1,567.8C1645.9,558.1 1651.2,548.0 1655.9,537.6C1660.6,527.2 1664.9,516.4 1668.5,505.4C1672.1,494.3 1675.2,482.9 1677.6,471.3C1680.0,459.7 1682.0,441.8 1682.9,435.8" stroke="#700000" stroke-width="5.7" opacity="0.23"/>
<path d="M1210.0,665.3C1216.0,669.3 1233.3,682.3 1245.9,689.2C1258.5,696.1 1272.0,702.1 1285.8,706.9C1299.5,711.6 1314.0,715.3 1328.5,717.7C1343.0,720.0 1358.1,721.2 1372.9,721.1C1387.8,720.9 1403.0,719.5 1417.8,716.8C1432.6,714.2 1447.4,710.2 1461.7,705.0C1476.0,699.8 1490.1,693.2 1503.4,685.6C1516.7,678.0 1529.7,669.1 1541.7,659.2C1553.6,649.3 1565.0,638.2 1575.2,626.3C1585.4,614.4 1598.3,594.3 1603.0,587.9" stroke="#700000" stroke-width="6.7" opacity="0.24"/>
<path d="M1145.9,418.0C1144.5,424.7 1139.1,444.5 1137.7,458.2C1136.3,471.9 1136.1,486.2 1137.4,500.1C1138.6,514.1 1141.3,528.4 1145.3,542.2C1149.3,555.9 1154.7,569.7 1161.4,582.7C1168.1,595.6 1176.2,608.3 1185.4,620.0C1194.6,631.7 1205.2,642.8 1216.7,652.7C1228.2,662.5 1241.0,671.6 1254.4,679.2C1267.8,686.8 1282.3,693.3 1297.2,698.3C1312.1,703.3 1327.8,707.0 1343.7,709.1C1359.5,711.2 1384.1,710.6 1392.2,710.8" stroke="#700000" stroke-width="8.3" opacity="0.12"/>
<path d="M1468.2,270.4C1464.6,267.6 1454.1,259.0 1446.4,253.9C1438.8,248.9 1430.7,244.2 1422.3,240.1C1413.9,235.9 1405.1,232.2 1396.1,229.1C1387.1,226.0 1377.8,223.4 1368.3,221.4C1358.8,219.4 1349.0,217.9 1339.2,217.1C1329.4,216.2 1319.3,216.0 1309.3,216.4C1299.2,216.8 1289.1,217.8 1279.0,219.4C1268.9,221.1 1258.8,223.4 1248.8,226.3C1238.8,229.3 1228.9,232.9 1219.2,237.1C1209.5,241.3 1195.4,249.3 1190.7,251.7" stroke="#700000" stroke-width="4.6" opacity="0.27"/>
<path d="M1204.1,325.9C1200.9,329.5 1190.6,340.2 1184.7,348.0C1178.8,355.9 1173.3,364.3 1168.6,373.0C1163.8,381.8 1159.6,391.0 1156.1,400.4C1152.7,409.9 1149.8,419.7 1147.8,429.7C1145.7,439.6 1144.4,449.9 1143.8,460.1C1143.2,470.3 1143.3,480.8 1144.3,491.1C1145.2,501.4 1146.9,511.8 1149.4,522.0C1151.8,532.2 1155.1,542.3 1159.0,552.1C1163.0,561.9 1167.7,571.5 1173.1,580.7C1178.5,589.9 1188.4,602.8 1191.4,607.2" stroke="#ffb848" stroke-width="10.0" opacity="0.25"/>
<path d="M1511.7,599.2C1515.8,594.8 1529.1,582.3 1536.6,572.7C1544.2,563.1 1551.1,552.7 1557.1,541.8C1563.0,530.9 1568.1,519.2 1572.2,507.2C1576.2,495.2 1579.4,482.6 1581.3,469.9C1583.3,457.2 1584.3,444.0 1584.0,430.9C1583.8,417.8 1582.5,404.4 1580.0,391.4C1577.5,378.3 1573.9,365.1 1569.1,352.4C1564.3,339.7 1558.4,327.2 1551.4,315.3C1544.5,303.4 1536.3,291.9 1527.3,281.2C1518.3,270.5 1502.3,256.2 1497.3,251.2" stroke="#700000" stroke-width="6.2" opacity="0.21"/>
<path d="M1448.1,533.4C1449.6,531.9 1454.1,527.4 1456.9,524.2C1459.6,520.9 1462.2,517.5 1464.7,513.9C1467.1,510.3 1469.4,506.6 1471.4,502.7C1473.5,498.8 1475.4,494.8 1477.0,490.7C1478.7,486.6 1480.2,482.4 1481.4,478.0C1482.7,473.7 1483.7,469.3 1484.5,464.8C1485.3,460.3 1485.8,455.8 1486.1,451.2C1486.5,446.6 1486.5,441.9 1486.4,437.2C1486.2,432.6 1485.8,427.9 1485.1,423.2C1484.5,418.5 1482.8,411.5 1482.4,409.2" stroke="#ffb848" stroke-width="6.4" opacity="0.22"/>
<path d="M1439.7,460.6C1439.8,459.0 1440.4,454.2 1440.5,451.0C1440.6,447.7 1440.5,444.4 1440.2,441.1C1439.9,437.9 1439.5,434.5 1438.8,431.3C1438.1,428.0 1437.3,424.7 1436.2,421.5C1435.2,418.3 1434.0,415.1 1432.6,412.0C1431.2,408.9 1429.5,405.9 1427.8,402.9C1426.0,400.0 1424.0,397.1 1421.9,394.3C1419.8,391.5 1417.5,388.8 1415.1,386.3C1412.6,383.7 1410.0,381.3 1407.3,379.0C1404.5,376.8 1400.0,373.7 1398.6,372.6" stroke="#700000" stroke-width="5.6" opacity="0.12"/>
<path d="M1461.3,404.8C1459.8,402.0 1455.6,393.3 1452.1,388.0C1448.7,382.6 1444.7,377.5 1440.4,372.7C1436.1,368.0 1431.3,363.5 1426.3,359.4C1421.2,355.4 1415.8,351.7 1410.1,348.5C1404.4,345.3 1398.4,342.5 1392.3,340.2C1386.1,337.9 1379.7,336.1 1373.3,334.8C1366.8,333.5 1360.1,332.7 1353.5,332.5C1346.8,332.3 1340.1,332.5 1333.5,333.4C1326.8,334.2 1320.2,335.5 1313.7,337.4C1307.2,339.3 1297.9,343.4 1294.7,344.6" stroke="#ffb848" stroke-width="9.2" opacity="0.19"/>
<path d="M1260.8,695.8C1264.7,698.0 1276.3,705.0 1284.6,709.1C1292.8,713.1 1301.3,716.8 1310.1,720.0C1318.9,723.1 1328.0,725.9 1337.2,728.2C1346.4,730.5 1355.9,732.3 1365.5,733.6C1375.1,734.9 1384.9,735.7 1394.8,736.0C1404.6,736.2 1414.6,736.0 1424.6,735.2C1434.6,734.4 1444.7,733.0 1454.7,731.2C1464.8,729.3 1474.8,726.8 1484.8,723.8C1494.7,720.8 1504.6,717.3 1514.3,713.2C1524.1,709.0 1538.3,701.5 1543.1,699.2" stroke="#700000" stroke-width="7.9" opacity="0.19"/>
<path d="M1349.3,174.3C1340.6,174.9 1314.5,175.1 1297.3,177.9C1280.2,180.7 1263.0,185.1 1246.6,191.0C1230.1,196.9 1213.9,204.4 1198.7,213.3C1183.5,222.1 1168.8,232.6 1155.3,244.1C1141.9,255.7 1129.2,268.7 1118.1,282.6C1106.9,296.5 1096.8,311.7 1088.2,327.6C1079.7,343.4 1072.5,360.3 1067.0,377.5C1061.4,394.8 1057.4,412.9 1055.1,430.9C1052.8,449.0 1052.1,467.7 1053.1,486.0C1054.1,504.3 1059.9,531.7 1061.2,540.8" stroke="#ffb848" stroke-width="5.2" opacity="0.17"/>
<path d="M1443.3,236.0C1436.6,233.3 1417.2,224.2 1403.5,220.2C1389.7,216.1 1375.3,213.2 1360.9,211.6C1346.4,210.0 1331.5,209.7 1316.8,210.7C1302.1,211.8 1287.1,214.1 1272.6,217.8C1258.1,221.4 1243.6,226.5 1229.8,232.8C1216.0,239.0 1202.4,246.7 1189.8,255.4C1177.1,264.2 1165.0,274.2 1153.9,285.2C1142.9,296.2 1132.5,308.4 1123.5,321.4C1114.5,334.3 1106.4,348.4 1099.7,362.9C1093.0,377.4 1086.1,401.0 1083.4,408.6" stroke="#700000" stroke-width="10.6" opacity="0.17"/>
<path d="M1237.5,304.8C1232.8,308.3 1218.1,318.2 1209.3,326.2C1200.6,334.2 1192.4,343.2 1185.1,352.8C1177.9,362.4 1171.4,373.0 1165.9,383.9C1160.5,394.9 1155.9,406.6 1152.4,418.5C1149.0,430.5 1146.6,443.0 1145.4,455.6C1144.2,468.2 1144.1,481.2 1145.2,493.9C1146.3,506.7 1148.7,519.7 1152.1,532.2C1155.6,544.7 1160.3,557.3 1166.1,569.1C1171.9,581.0 1178.9,592.6 1186.9,603.4C1194.8,614.2 1209.4,628.7 1213.9,633.7" stroke="#700000" stroke-width="6.6" opacity="0.19"/>
<path d="M1308.5,714.2C1312.8,715.5 1325.5,719.7 1334.3,721.8C1343.2,723.9 1352.2,725.6 1361.3,726.7C1370.4,727.9 1379.7,728.7 1389.0,728.9C1398.4,729.1 1407.9,728.9 1417.3,728.1C1426.8,727.4 1436.3,726.2 1445.8,724.4C1455.2,722.7 1464.7,720.4 1474.1,717.7C1483.5,714.9 1492.8,711.6 1502.0,707.9C1511.1,704.1 1520.2,699.8 1529.1,695.0C1538.0,690.3 1546.7,685.0 1555.1,679.3C1563.6,673.5 1575.6,663.7 1579.7,660.6" stroke="#ffb848" stroke-width="9.9" opacity="0.12"/>
<path d="M1323.3,288.3C1319.5,288.6 1308.0,289.1 1300.3,290.3C1292.7,291.5 1285.0,293.2 1277.4,295.5C1269.8,297.7 1262.2,300.5 1254.9,303.8C1247.5,307.1 1240.2,311.0 1233.2,315.3C1226.3,319.7 1219.4,324.6 1213.0,329.9C1206.5,335.2 1200.3,341.1 1194.5,347.3C1188.7,353.6 1183.2,360.4 1178.2,367.5C1173.2,374.6 1168.6,382.1 1164.5,390.0C1160.4,397.8 1156.7,406.1 1153.7,414.5C1150.6,423.0 1147.4,436.4 1146.1,440.8" stroke="#ffb848" stroke-width="7.7" opacity="0.13"/>
<path d="M1139.6,349.0C1137.1,354.3 1128.7,369.8 1124.4,380.7C1120.1,391.7 1116.6,403.1 1114.0,414.6C1111.3,426.2 1109.4,438.0 1108.5,449.9C1107.5,461.8 1107.4,473.9 1108.2,485.9C1109.0,497.8 1110.7,509.9 1113.2,521.7C1115.8,533.5 1119.2,545.3 1123.5,556.7C1127.7,568.1 1132.9,579.3 1138.8,590.1C1144.7,600.8 1151.5,611.2 1159.0,621.0C1166.4,630.8 1174.7,640.2 1183.6,648.9C1192.5,657.6 1207.4,669.1 1212.2,673.1" stroke="#ffb848" stroke-width="6.6" opacity="0.11"/>
<path d="M1588.4,621.7C1592.7,615.8 1606.7,598.7 1614.5,586.2C1622.4,573.6 1629.4,560.2 1635.2,546.4C1641.1,532.6 1646.1,518.1 1649.8,503.3C1653.6,488.6 1656.3,473.2 1657.7,457.8C1659.2,442.4 1659.5,426.6 1658.6,411.0C1657.6,395.3 1655.5,379.5 1652.1,363.9C1648.7,348.4 1644.1,332.8 1638.3,317.7C1632.6,302.7 1625.5,287.8 1617.4,273.6C1609.2,259.4 1599.9,245.6 1589.5,232.6C1579.1,219.7 1560.9,202.0 1555.2,195.9" stroke="#ffb848" stroke-width="4.6" opacity="0.21"/>
<path d="M1309.7,538.7C1310.6,539.6 1313.3,542.1 1315.3,543.7C1317.2,545.3 1319.3,546.9 1321.4,548.3C1323.5,549.8 1325.7,551.2 1328.0,552.5C1330.2,553.8 1332.6,555.0 1335.0,556.1C1337.4,557.3 1339.9,558.3 1342.5,559.3C1345.0,560.2 1347.6,561.1 1350.3,561.8C1353.0,562.6 1355.7,563.2 1358.5,563.8C1361.2,564.3 1364.1,564.8 1366.9,565.1C1369.8,565.4 1372.7,565.6 1375.6,565.7C1378.5,565.8 1382.9,565.6 1384.4,565.6" stroke="#ffb848" stroke-width="10.8" opacity="0.20"/>
<path d="M1353.6,385.5C1352.8,385.3 1350.3,384.8 1348.7,384.5C1347.0,384.3 1345.4,384.1 1343.7,384.0C1342.0,383.8 1340.3,383.7 1338.6,383.7C1336.9,383.7 1335.1,383.7 1333.4,383.8C1331.7,383.9 1329.9,384.1 1328.2,384.3C1326.4,384.5 1324.7,384.8 1322.9,385.2C1321.2,385.5 1319.4,385.9 1317.7,386.4C1315.9,386.9 1314.2,387.4 1312.4,388.0C1310.7,388.6 1309.0,389.3 1307.3,390.0C1305.6,390.8 1303.0,392.0 1302.2,392.4" stroke="#700000" stroke-width="6.5" opacity="0.28"/>
<path d="M1122.1,626.1C1125.5,630.9 1135.3,645.7 1142.9,654.9C1150.4,664.1 1158.6,672.9 1167.3,681.1C1176.0,689.4 1185.3,697.2 1195.0,704.3C1204.7,711.5 1214.9,718.1 1225.5,724.1C1236.1,730.0 1247.2,735.4 1258.6,740.0C1269.9,744.6 1281.7,748.6 1293.6,751.8C1305.5,755.0 1317.7,757.6 1330.0,759.3C1342.3,761.0 1354.9,762.0 1367.4,762.2C1379.9,762.4 1392.6,761.8 1405.2,760.5C1417.7,759.1 1436.4,755.1 1442.7,754.0" stroke="#ffb848" stroke-width="6.4" opacity="0.16"/>
<path d="M1223.4,408.1C1222.3,410.4 1218.6,417.4 1216.6,422.2C1214.6,427.1 1212.8,432.1 1211.3,437.2C1209.8,442.3 1208.6,447.6 1207.7,452.9C1206.8,458.3 1206.2,463.7 1205.9,469.2C1205.5,474.7 1205.5,480.3 1205.8,485.9C1206.1,491.4 1206.8,497.0 1207.7,502.6C1208.6,508.2 1209.9,513.8 1211.5,519.3C1213.1,524.8 1215.0,530.3 1217.2,535.7C1219.4,541.0 1221.9,546.4 1224.8,551.5C1227.6,556.7 1232.6,564.1 1234.2,566.6" stroke="#ffb848" stroke-width="9.0" opacity="0.12"/>
<path d="M1605.0,563.1C1606.4,560.5 1610.9,552.7 1613.6,547.3C1616.3,541.9 1618.9,536.4 1621.2,530.8C1623.6,525.2 1625.8,519.5 1627.8,513.7C1629.8,507.9 1631.6,502.0 1633.3,496.0C1634.9,490.1 1636.3,484.0 1637.6,477.9C1638.8,471.8 1639.9,465.6 1640.7,459.3C1641.6,453.1 1642.2,446.8 1642.6,440.5C1643.0,434.1 1643.3,427.7 1643.3,421.3C1643.3,414.9 1643.1,408.5 1642.7,402.1C1642.2,395.6 1641.1,386.0 1640.7,382.7" stroke="#ffb848" stroke-width="7.9" opacity="0.16"/>
<path d="M1256.7,531.5C1258.7,534.3 1264.1,542.8 1268.5,548.0C1272.9,553.2 1277.8,558.2 1283.1,562.6C1288.3,567.1 1294.1,571.2 1300.1,574.8C1306.2,578.4 1312.7,581.6 1319.3,584.2C1326.0,586.8 1333.1,588.9 1340.2,590.4C1347.3,591.9 1354.7,592.8 1362.1,593.1C1369.5,593.4 1377.1,593.1 1384.5,592.1C1392.0,591.2 1399.6,589.6 1406.9,587.4C1414.2,585.2 1421.5,582.4 1428.5,579.0C1435.4,575.5 1445.3,568.9 1448.7,566.9" stroke="#700000" stroke-width="5.8" opacity="0.21"/>
<path d="M1605.6,521.9C1607.3,514.5 1613.9,492.7 1616.1,477.7C1618.3,462.7 1619.3,447.2 1618.8,431.8C1618.4,416.4 1616.6,400.8 1613.5,385.5C1610.3,370.3 1605.8,355.0 1600.0,340.4C1594.2,325.8 1587.0,311.3 1578.6,297.8C1570.3,284.2 1560.6,271.1 1549.8,259.0C1539.1,247.0 1527.2,235.6 1514.4,225.5C1501.6,215.4 1487.7,206.1 1473.1,198.3C1458.6,190.5 1443.1,183.7 1427.3,178.4C1411.5,173.2 1386.4,168.7 1378.2,166.7" stroke="#700000" stroke-width="8.6" opacity="0.19"/>
<path d="M1291.6,574.3C1294.7,575.9 1303.7,581.3 1310.1,584.0C1316.6,586.8 1323.3,589.1 1330.2,590.8C1337.0,592.5 1344.1,593.7 1351.3,594.3C1358.4,595.0 1365.7,595.1 1372.9,594.5C1380.1,594.0 1387.4,593.0 1394.5,591.3C1401.6,589.6 1408.7,587.4 1415.5,584.6C1422.4,581.8 1429.1,578.5 1435.5,574.6C1441.9,570.7 1448.0,566.3 1453.8,561.4C1459.5,556.6 1465.0,551.2 1470.0,545.4C1474.9,539.6 1481.3,529.9 1483.5,526.8" stroke="#700000" stroke-width="7.3" opacity="0.18"/>
<path d="M1312.8,594.7C1316.3,595.7 1326.8,599.2 1334.0,600.6C1341.3,602.0 1348.7,602.8 1356.2,603.1C1363.6,603.3 1371.1,603.0 1378.6,602.2C1386.0,601.3 1393.5,599.8 1400.7,597.8C1408.0,595.7 1415.2,593.1 1422.1,589.9C1429.1,586.8 1435.8,583.1 1442.2,578.9C1448.6,574.6 1454.8,569.9 1460.5,564.7C1466.2,559.5 1471.7,553.8 1476.5,547.8C1481.4,541.7 1485.9,535.2 1489.9,528.4C1493.8,521.7 1498.4,510.7 1500.1,507.1" stroke="#ffb848" stroke-width="4.6" opacity="0.23"/>
<path d="M1107.2,443.9C1106.5,447.6 1104.0,458.6 1103.0,466.2C1101.9,473.7 1101.2,481.3 1100.8,489.1C1100.5,496.8 1100.5,504.6 1100.8,512.4C1101.2,520.2 1101.9,528.1 1103.0,536.0C1104.0,543.9 1105.5,551.8 1107.3,559.6C1109.2,567.5 1111.4,575.3 1113.9,583.1C1116.5,590.8 1119.5,598.6 1122.8,606.2C1126.1,613.8 1129.8,621.3 1133.9,628.7C1138.0,636.0 1142.4,643.3 1147.2,650.3C1152.0,657.4 1160.0,667.5 1162.6,671.0" stroke="#ffb848" stroke-width="5.4" opacity="0.24"/>
<path d="M1371.0,385.5C1369.1,385.1 1363.5,383.6 1359.6,383.1C1355.8,382.6 1351.8,382.4 1347.9,382.5C1344.0,382.6 1340.0,383.0 1336.2,383.7C1332.3,384.4 1328.4,385.4 1324.7,386.7C1320.9,388.1 1317.2,389.7 1313.7,391.6C1310.1,393.5 1306.7,395.7 1303.5,398.1C1300.3,400.6 1297.2,403.3 1294.3,406.2C1291.5,409.2 1288.9,412.4 1286.5,415.7C1284.2,419.1 1282.0,422.7 1280.2,426.4C1278.4,430.1 1276.4,436.1 1275.6,438.0" stroke="#ffb848" stroke-width="9.2" opacity="0.26"/>
<path d="M1247.0,665.1C1252.1,667.5 1267.1,675.5 1277.6,679.5C1288.2,683.6 1299.2,686.9 1310.2,689.4C1321.3,691.9 1332.7,693.6 1344.0,694.5C1355.4,695.4 1367.0,695.4 1378.4,694.7C1389.9,693.9 1401.4,692.3 1412.7,689.8C1423.9,687.4 1435.1,684.1 1446.0,680.0C1456.8,676.0 1467.5,671.1 1477.7,665.5C1487.9,659.9 1497.8,653.4 1507.1,646.4C1516.5,639.3 1525.4,631.5 1533.6,623.1C1541.9,614.7 1552.8,600.6 1556.6,596.1" stroke="#700000" stroke-width="10.0" opacity="0.16"/>
<path d="M1274.3,330.1C1272.7,330.5 1267.9,331.6 1264.7,332.6C1261.5,333.5 1258.3,334.5 1255.2,335.7C1252.0,336.9 1248.8,338.2 1245.7,339.6C1242.5,341.0 1239.4,342.5 1236.3,344.1C1233.2,345.8 1230.1,347.5 1227.1,349.4C1224.0,351.3 1221.0,353.3 1218.1,355.4C1215.1,357.5 1212.2,359.8 1209.3,362.1C1206.5,364.5 1203.7,366.9 1200.9,369.5C1198.2,372.1 1195.5,374.8 1192.9,377.6C1190.3,380.4 1186.5,384.8 1185.3,386.3" stroke="#ffb848" stroke-width="7.4" opacity="0.18"/>
<path d="M1063.9,519.3C1065.8,528.6 1069.5,557.0 1075.1,575.2C1080.6,593.5 1088.0,611.8 1097.1,629.1C1106.2,646.3 1117.2,663.2 1129.7,678.7C1142.1,694.1 1156.4,708.9 1171.9,722.0C1187.3,735.0 1204.4,747.0 1222.4,757.1C1240.4,767.2 1259.9,775.8 1279.8,782.4C1299.8,789.0 1320.9,793.9 1342.1,796.6C1363.3,799.4 1385.3,800.2 1407.1,798.8C1428.8,797.4 1451.0,793.9 1472.4,788.4C1493.8,782.8 1525.1,769.2 1535.6,765.3" stroke="#ffb848" stroke-width="5.0" opacity="0.12"/>
<path d="M1285.9,242.6C1280.5,244.3 1264.2,248.6 1253.8,252.8C1243.3,257.0 1233.0,262.1 1223.2,267.8C1213.4,273.6 1203.8,280.2 1194.9,287.4C1185.9,294.7 1177.4,302.7 1169.5,311.2C1161.7,319.8 1154.3,329.1 1147.7,338.8C1141.2,348.6 1135.2,359.0 1130.1,369.7C1125.0,380.4 1120.6,391.7 1117.1,403.2C1113.7,414.6 1111.0,426.5 1109.2,438.5C1107.4,450.5 1106.5,462.8 1106.5,475.0C1106.6,487.3 1108.9,505.7 1109.4,511.9" stroke="#700000" stroke-width="5.8" opacity="0.22"/>
<path d="M1564.7,388.3C1564.1,385.9 1562.4,378.9 1561.0,374.3C1559.6,369.6 1558.1,365.0 1556.4,360.5C1554.7,355.9 1552.9,351.4 1550.8,346.9C1548.8,342.5 1546.7,338.0 1544.4,333.7C1542.1,329.3 1539.6,325.0 1537.0,320.8C1534.4,316.6 1531.7,312.5 1528.8,308.4C1525.9,304.3 1522.9,300.3 1519.7,296.5C1516.6,292.6 1513.3,288.8 1509.8,285.1C1506.4,281.4 1502.8,277.8 1499.2,274.3C1495.5,270.8 1489.6,265.9 1487.7,264.2" stroke="#ffb848" stroke-width="5.6" opacity="0.21"/>
<path d="M1217.0,509.2C1217.7,511.5 1219.3,518.4 1220.7,522.9C1222.2,527.4 1223.9,531.9 1225.8,536.4C1227.7,540.8 1229.9,545.2 1232.2,549.5C1234.6,553.7 1237.2,557.9 1240.0,562.0C1242.8,566.1 1245.9,570.1 1249.1,573.9C1252.3,577.8 1255.8,581.5 1259.4,585.0C1263.1,588.6 1266.9,592.0 1270.9,595.2C1274.9,598.4 1279.1,601.5 1283.5,604.3C1287.9,607.2 1292.4,609.9 1297.1,612.3C1301.7,614.7 1309.1,617.9 1311.5,619.0" stroke="#700000" stroke-width="5.5" opacity="0.17"/>
<path d="M1142.8,525.1C1143.2,528.3 1144.3,538.0 1145.5,544.5C1146.6,551.0 1148.1,557.5 1150.0,564.0C1151.8,570.5 1153.9,576.9 1156.3,583.3C1158.7,589.7 1161.4,596.1 1164.5,602.3C1167.5,608.6 1170.8,614.8 1174.4,620.8C1178.1,626.9 1182.0,632.9 1186.2,638.7C1190.5,644.5 1195.0,650.2 1199.8,655.6C1204.6,661.1 1209.7,666.5 1215.0,671.6C1220.4,676.7 1226.0,681.7 1231.9,686.4C1237.8,691.1 1247.2,697.6 1250.3,699.8" stroke="#700000" stroke-width="9.5" opacity="0.26"/>
<path d="M1186.9,494.5C1187.2,497.5 1187.9,506.4 1188.9,512.3C1189.9,518.2 1191.1,524.1 1192.8,530.0C1194.4,535.8 1196.3,541.7 1198.6,547.4C1200.8,553.2 1203.4,558.9 1206.3,564.4C1209.1,570.0 1212.3,575.5 1215.8,580.8C1219.3,586.1 1223.1,591.3 1227.2,596.3C1231.3,601.3 1235.7,606.1 1240.4,610.7C1245.0,615.3 1250.0,619.7 1255.1,623.9C1260.3,628.0 1265.8,632.0 1271.4,635.6C1277.1,639.2 1286.1,644.0 1289.1,645.7" stroke="#ffb848" stroke-width="7.5" opacity="0.16"/>
<path d="M1106.2,567.4C1109.4,575.0 1117.6,598.3 1125.4,613.0C1133.2,627.6 1142.5,641.9 1153.0,655.2C1163.5,668.4 1175.5,681.0 1188.5,692.4C1201.5,703.7 1215.8,714.1 1230.9,723.1C1246.0,732.0 1262.3,739.8 1279.0,746.0C1295.8,752.2 1313.5,757.0 1331.4,760.1C1349.3,763.2 1368.0,764.8 1386.5,764.6C1404.9,764.4 1423.9,762.6 1442.4,759.0C1460.8,755.4 1479.4,750.1 1497.2,743.1C1515.0,736.1 1540.5,721.4 1549.2,717.1" stroke="#700000" stroke-width="8.3" opacity="0.21"/>
<path d="M1515.9,428.4C1515.1,423.9 1513.5,410.2 1511.2,401.3C1508.8,392.4 1505.7,383.5 1501.9,374.9C1498.1,366.4 1493.5,358.0 1488.2,350.1C1482.9,342.3 1476.9,334.6 1470.3,327.6C1463.7,320.6 1456.4,314.0 1448.6,308.1C1440.8,302.2 1432.4,296.9 1423.6,292.3C1414.8,287.7 1405.5,283.7 1396.0,280.6C1386.4,277.5 1376.4,275.1 1366.4,273.6C1356.3,272.1 1345.9,271.4 1335.6,271.6C1325.3,271.7 1309.7,274.2 1304.5,274.7" stroke="#ffb848" stroke-width="5.5" opacity="0.14"/>
<path d="M1222.3,645.7C1224.8,648.0 1232.0,655.3 1237.3,659.8C1242.5,664.3 1248.0,668.6 1253.7,672.7C1259.4,676.7 1265.4,680.6 1271.5,684.2C1277.7,687.8 1284.0,691.2 1290.6,694.2C1297.1,697.3 1303.9,700.1 1310.8,702.6C1317.7,705.1 1324.7,707.4 1331.9,709.3C1339.1,711.2 1346.5,712.8 1354.0,714.1C1361.4,715.3 1369.0,716.3 1376.6,716.9C1384.3,717.5 1392.0,717.8 1399.8,717.7C1407.6,717.6 1419.4,716.6 1423.3,716.4" stroke="#700000" stroke-width="7.1" opacity="0.15"/>
<path d="M1584.9,269.4C1582.4,265.5 1575.2,253.5 1569.8,245.8C1564.3,238.1 1558.5,230.6 1552.3,223.4C1546.0,216.2 1539.4,209.2 1532.4,202.5C1525.5,195.8 1518.1,189.4 1510.4,183.3C1502.7,177.2 1494.7,171.4 1486.4,166.0C1478.0,160.5 1469.4,155.5 1460.4,150.8C1451.5,146.1 1442.3,141.8 1432.8,137.9C1423.4,134.1 1413.6,130.6 1403.7,127.6C1393.8,124.6 1383.7,122.0 1373.4,119.9C1363.1,117.8 1347.3,115.9 1342.1,115.1" stroke="#700000" stroke-width="6.8" opacity="0.27"/>
<path d="M1517.4,280.7C1514.4,277.2 1505.8,266.5 1499.4,259.8C1492.9,253.2 1486.0,246.8 1478.8,240.8C1471.5,234.8 1463.7,229.1 1455.7,223.9C1447.6,218.7 1439.1,213.9 1430.3,209.5C1421.6,205.2 1412.4,201.3 1403.0,197.9C1393.7,194.6 1384.0,191.7 1374.1,189.4C1364.3,187.1 1354.1,185.3 1343.9,184.1C1333.7,182.9 1323.2,182.3 1312.8,182.3C1302.3,182.3 1291.7,182.8 1281.1,184.0C1270.5,185.2 1254.6,188.6 1249.3,189.5" stroke="#700000" stroke-width="8.2" opacity="0.18"/>
<path d="M1303.8,619.7C1308.6,621.3 1322.6,627.2 1332.5,629.6C1342.4,632.1 1352.8,633.7 1363.2,634.4C1373.6,635.0 1384.4,634.8 1395.0,633.5C1405.5,632.3 1416.3,630.1 1426.6,627.0C1437.0,623.8 1447.4,619.7 1457.2,614.6C1467.1,609.6 1476.7,603.5 1485.7,596.7C1494.6,589.8 1503.2,582.0 1511.0,573.5C1518.7,565.0 1525.9,555.6 1532.1,545.7C1538.3,535.8 1543.8,525.1 1548.3,514.0C1552.7,503.0 1557.0,485.1 1558.7,479.4" stroke="#ffb848" stroke-width="10.6" opacity="0.22"/>
<path d="M1353.4,657.9C1357.1,658.1 1368.2,659.3 1375.6,659.3C1383.1,659.4 1390.6,659.1 1398.1,658.3C1405.6,657.6 1413.2,656.4 1420.7,654.8C1428.1,653.2 1435.6,651.2 1443.0,648.7C1450.3,646.2 1457.6,643.4 1464.7,640.1C1471.8,636.8 1478.8,633.0 1485.6,628.9C1492.4,624.8 1499.0,620.3 1505.4,615.4C1511.7,610.5 1517.9,605.2 1523.8,599.5C1529.6,593.9 1535.2,587.8 1540.4,581.5C1545.7,575.2 1552.8,564.9 1555.2,561.5" stroke="#700000" stroke-width="4.8" opacity="0.21"/>
<path d="M1649.7,506.7C1650.8,500.1 1654.8,480.5 1656.1,467.2C1657.3,453.9 1657.7,440.3 1657.1,426.9C1656.6,413.4 1655.1,399.8 1652.8,386.4C1650.4,373.1 1647.2,359.7 1643.0,346.6C1638.9,333.6 1633.8,320.6 1627.9,308.1C1622.0,295.7 1615.3,283.4 1607.7,271.7C1600.2,260.0 1591.7,248.7 1582.6,238.0C1573.5,227.4 1563.6,217.2 1553.1,207.7C1542.5,198.3 1531.2,189.5 1519.5,181.4C1507.7,173.4 1488.6,163.3 1482.4,159.7" stroke="#700000" stroke-width="6.3" opacity="0.11"/>
<path d="M1486.0,513.2C1487.2,510.4 1491.0,502.2 1492.9,496.6C1494.9,490.9 1496.5,485.0 1497.7,479.1C1499.0,473.2 1499.9,467.2 1500.4,461.1C1500.9,455.0 1501.0,448.8 1500.7,442.7C1500.4,436.6 1499.8,430.4 1498.7,424.3C1497.7,418.2 1496.2,412.1 1494.4,406.2C1492.6,400.2 1490.4,394.3 1487.9,388.6C1485.3,382.9 1482.4,377.2 1479.1,371.8C1475.8,366.4 1472.2,361.2 1468.2,356.2C1464.2,351.2 1457.5,344.3 1455.4,341.9" stroke="#ffb848" stroke-width="8.4" opacity="0.23"/>
<path d="M1263.8,179.9C1258.0,181.5 1240.2,185.6 1228.6,189.7C1217.1,193.7 1205.6,198.5 1194.5,204.0C1183.4,209.5 1172.5,215.7 1162.0,222.6C1151.5,229.5 1141.4,237.2 1131.7,245.5C1122.1,253.7 1112.8,262.7 1104.2,272.2C1095.5,281.8 1087.4,291.9 1079.9,302.6C1072.4,313.2 1065.5,324.5 1059.3,336.1C1053.1,347.7 1047.6,359.9 1042.9,372.4C1038.2,384.8 1034.1,397.7 1030.9,410.8C1027.8,423.9 1025.0,444.2 1023.8,450.9" stroke="#700000" stroke-width="7.8" opacity="0.26"/>
<path d="M1153.6,536.3C1155.1,540.7 1159.1,554.0 1162.7,562.7C1166.3,571.3 1170.5,579.8 1175.3,588.0C1180.0,596.2 1185.4,604.2 1191.2,611.9C1197.1,619.5 1203.5,626.8 1210.4,633.7C1217.3,640.6 1224.7,647.1 1232.5,653.1C1240.4,659.1 1248.7,664.7 1257.3,669.7C1265.9,674.7 1275.0,679.3 1284.3,683.2C1293.7,687.1 1303.4,690.4 1313.2,693.1C1323.1,695.8 1333.3,697.9 1343.5,699.3C1353.8,700.8 1369.6,701.2 1374.8,701.6" stroke="#ffb848" stroke-width="7.3" opacity="0.17"/>
<path d="M1564.7,323.9C1563.5,320.8 1560.5,311.4 1557.9,305.1C1555.4,298.9 1552.6,292.7 1549.6,286.6C1546.5,280.5 1543.1,274.4 1539.5,268.4C1535.9,262.5 1532.0,256.6 1527.8,250.9C1523.6,245.1 1519.2,239.5 1514.5,234.0C1509.8,228.5 1504.8,223.1 1499.6,218.0C1494.3,212.8 1488.9,207.8 1483.1,202.9C1477.4,198.1 1471.4,193.5 1465.2,189.0C1459.0,184.6 1452.6,180.4 1446.0,176.4C1439.3,172.4 1428.8,167.1 1425.4,165.2" stroke="#ffb848" stroke-width="10.4" opacity="0.21"/>
<path d="M1259.6,670.7C1266.3,673.6 1285.8,683.5 1299.6,688.0C1313.5,692.5 1328.2,695.9 1342.9,697.8C1357.6,699.6 1372.8,700.2 1387.9,699.3C1402.9,698.4 1418.2,696.1 1433.0,692.3C1447.8,688.6 1462.6,683.4 1476.7,676.9C1490.7,670.4 1504.5,662.4 1517.3,653.2C1530.1,644.1 1542.3,633.6 1553.4,622.0C1564.4,610.5 1574.6,597.7 1583.4,584.2C1592.2,570.6 1600.0,555.9 1606.2,540.8C1612.4,525.6 1618.3,501.2 1620.8,493.3" stroke="#ffb848" stroke-width="5.1" opacity="0.13"/>
<path d="M1204.5,261.3C1200.7,263.8 1189.1,270.7 1181.8,276.1C1174.5,281.4 1167.4,287.2 1160.6,293.4C1153.8,299.6 1147.3,306.2 1141.1,313.2C1135.0,320.2 1129.2,327.6 1123.7,335.4C1118.3,343.1 1113.3,351.2 1108.7,359.6C1104.1,367.9 1099.9,376.7 1096.2,385.6C1092.5,394.5 1089.2,403.8 1086.5,413.2C1083.7,422.6 1081.5,432.3 1079.8,442.0C1078.0,451.8 1076.8,461.8 1076.2,471.8C1075.5,481.8 1075.9,497.1 1075.9,502.2" stroke="#700000" stroke-width="5.9" opacity="0.21"/>
<path d="M1265.1,720.8C1271.9,723.3 1291.8,731.9 1305.8,735.9C1319.8,739.9 1334.4,742.8 1349.1,744.6C1363.8,746.4 1378.9,747.1 1393.9,746.5C1409.0,746.0 1424.2,744.3 1439.2,741.4C1454.2,738.5 1469.3,734.4 1483.8,729.1C1498.4,723.8 1512.9,717.3 1526.7,709.7C1540.4,702.1 1553.9,693.2 1566.5,683.4C1579.1,673.7 1591.3,662.7 1602.4,650.9C1613.5,639.1 1623.9,626.2 1633.2,612.6C1642.4,599.0 1653.8,576.6 1658.0,569.4" stroke="#ffb848" stroke-width="5.3" opacity="0.21"/>
<path d="M1203.5,565.2C1206.1,568.8 1213.4,580.0 1219.1,586.8C1224.8,593.7 1231.1,600.2 1237.7,606.3C1244.4,612.3 1251.7,617.9 1259.2,622.9C1266.8,628.0 1274.8,632.6 1283.1,636.5C1291.4,640.5 1300.1,643.9 1308.9,646.6C1317.8,649.3 1326.9,651.5 1336.2,652.9C1345.4,654.4 1354.9,655.2 1364.3,655.3C1373.8,655.4 1383.4,654.9 1392.8,653.6C1402.2,652.4 1411.7,650.4 1421.0,647.8C1430.2,645.2 1443.7,639.6 1448.3,637.9" stroke="#ffb848" stroke-width="4.9" opacity="0.12"/>
<path d="M1362.4,549.6C1364.5,549.5 1370.9,549.6 1375.1,549.1C1379.3,548.7 1383.6,548.0 1387.8,546.9C1392.0,545.9 1396.1,544.5 1400.2,542.9C1404.3,541.3 1408.3,539.4 1412.2,537.2C1416.1,535.0 1419.9,532.5 1423.4,529.7C1427.0,526.9 1430.5,523.9 1433.7,520.6C1436.9,517.4 1440.0,513.8 1442.8,510.1C1445.6,506.3 1448.2,502.3 1450.5,498.2C1452.7,494.1 1454.8,489.7 1456.5,485.2C1458.2,480.7 1460.1,473.6 1460.8,471.3" stroke="#ffb848" stroke-width="4.2" opacity="0.22"/>
<path d="M1445.2,360.1C1443.2,358.0 1437.4,351.5 1433.0,347.6C1428.7,343.7 1424.0,340.0 1419.1,336.6C1414.2,333.2 1409.0,330.1 1403.7,327.4C1398.3,324.7 1392.7,322.2 1387.0,320.2C1381.2,318.1 1375.3,316.4 1369.2,315.1C1363.2,313.8 1357.0,312.9 1350.7,312.4C1344.5,311.9 1338.1,311.8 1331.8,312.1C1325.4,312.4 1319.0,313.1 1312.7,314.2C1306.4,315.4 1300.0,316.9 1293.8,318.9C1287.6,320.9 1278.5,324.9 1275.4,326.1" stroke="#700000" stroke-width="6.6" opacity="0.18"/>
<path d="M1433.7,356.9C1432.4,355.5 1428.5,351.5 1425.6,348.9C1422.8,346.4 1419.8,344.0 1416.8,341.7C1413.7,339.3 1410.5,337.2 1407.2,335.1C1403.9,333.1 1400.4,331.1 1396.9,329.4C1393.4,327.6 1389.8,325.9 1386.0,324.5C1382.3,323.0 1378.5,321.7 1374.7,320.5C1370.8,319.4 1366.8,318.4 1362.8,317.5C1358.8,316.7 1354.7,316.1 1350.6,315.6C1346.5,315.1 1342.4,314.8 1338.2,314.7C1334.0,314.6 1327.6,314.9 1325.5,314.9" stroke="#700000" stroke-width="9.9" opacity="0.12"/>
<path d="M1391.1,421.4C1390.4,420.7 1388.3,418.3 1386.8,416.8C1385.3,415.4 1383.6,414.0 1381.9,412.7C1380.2,411.5 1378.4,410.3 1376.6,409.2C1374.7,408.2 1372.7,407.2 1370.7,406.4C1368.7,405.5 1366.7,404.8 1364.6,404.2C1362.5,403.6 1360.3,403.1 1358.1,402.7C1355.9,402.4 1353.7,402.2 1351.4,402.1C1349.2,402.0 1346.9,402.1 1344.7,402.3C1342.4,402.4 1340.2,402.8 1337.9,403.2C1335.7,403.7 1332.4,404.7 1331.3,405.0" stroke="#ffb848" stroke-width="8.2" opacity="0.21"/>
<path d="M1399.8,698.9C1405.8,697.7 1424.2,695.3 1436.2,692.2C1448.1,689.0 1460.0,684.9 1471.5,679.9C1483.0,674.9 1494.3,669.0 1505.1,662.3C1515.8,655.6 1526.2,647.9 1535.9,639.6C1545.6,631.3 1554.9,622.0 1563.4,612.2C1571.8,602.4 1579.7,591.8 1586.6,580.7C1593.6,569.6 1599.8,557.8 1605.1,545.6C1610.4,533.5 1614.8,520.7 1618.3,507.7C1621.7,494.8 1624.2,481.4 1625.7,467.9C1627.2,454.4 1626.9,433.8 1627.1,427.0" stroke="#ffb848" stroke-width="5.3" opacity="0.11"/>
<path d="M1510.1,483.8C1510.8,480.3 1513.6,469.9 1514.7,462.8C1515.8,455.6 1516.4,448.3 1516.5,440.9C1516.5,433.6 1516.1,426.1 1515.2,418.7C1514.3,411.3 1512.8,403.8 1510.9,396.5C1508.9,389.1 1506.5,381.8 1503.5,374.7C1500.5,367.6 1497.0,360.6 1493.0,353.9C1489.1,347.2 1484.6,340.6 1479.7,334.4C1474.7,328.2 1469.3,322.2 1463.5,316.6C1457.7,311.0 1451.5,305.7 1444.9,300.9C1438.3,296.1 1427.5,290.0 1424.0,287.8" stroke="#700000" stroke-width="10.7" opacity="0.13"/>
<path d="M1325.0,423.2C1323.9,424.2 1320.5,426.9 1318.5,429.0C1316.6,431.1 1314.8,433.5 1313.2,436.0C1311.7,438.5 1310.4,441.2 1309.3,443.9C1308.3,446.7 1307.5,449.6 1307.0,452.5C1306.5,455.5 1306.2,458.5 1306.3,461.6C1306.3,464.6 1306.7,467.7 1307.3,470.6C1308.0,473.6 1308.9,476.6 1310.1,479.5C1311.3,482.3 1312.8,485.1 1314.5,487.7C1316.3,490.2 1318.3,492.7 1320.5,495.0C1322.7,497.2 1326.6,500.0 1327.8,501.1" stroke="#700000" stroke-width="7.9" opacity="0.19"/>
<path d="M1259.4,211.9C1255.2,213.4 1242.5,217.3 1234.2,220.6C1225.9,223.9 1217.7,227.7 1209.8,231.8C1201.8,236.0 1194.0,240.6 1186.4,245.6C1178.8,250.6 1171.5,256.1 1164.4,261.8C1157.3,267.6 1150.4,273.8 1143.9,280.3C1137.4,286.9 1131.1,293.8 1125.3,301.0C1119.4,308.2 1113.8,315.8 1108.7,323.6C1103.5,331.4 1098.7,339.6 1094.3,348.0C1089.9,356.3 1085.9,365.0 1082.4,373.9C1078.8,382.7 1074.6,396.5 1073.1,401.1" stroke="#700000" stroke-width="10.3" opacity="0.21"/>
<path d="M1271.7,398.8C1270.8,399.9 1268.1,403.1 1266.4,405.4C1264.8,407.7 1263.2,410.0 1261.8,412.4C1260.3,414.8 1258.9,417.3 1257.6,419.8C1256.3,422.4 1255.2,425.0 1254.1,427.6C1253.0,430.3 1252.1,433.0 1251.2,435.7C1250.3,438.5 1249.6,441.3 1249.0,444.1C1248.3,447.0 1247.8,449.8 1247.4,452.7C1247.0,455.6 1246.8,458.6 1246.6,461.5C1246.4,464.4 1246.4,467.4 1246.5,470.4C1246.6,473.3 1247.0,477.8 1247.1,479.3" stroke="#ffb848" stroke-width="6.7" opacity="0.25"/>
<path d="M1506.6,496.1C1507.3,494.4 1509.5,489.2 1510.8,485.6C1512.1,482.0 1513.3,478.3 1514.3,474.6C1515.4,470.9 1516.3,467.1 1517.1,463.3C1517.9,459.4 1518.5,455.6 1519.0,451.6C1519.5,447.7 1519.9,443.7 1520.1,439.8C1520.3,435.8 1520.4,431.7 1520.3,427.7C1520.3,423.6 1520.0,419.6 1519.7,415.5C1519.3,411.4 1518.8,407.3 1518.1,403.3C1517.4,399.2 1516.6,395.1 1515.6,391.0C1514.7,386.9 1512.8,380.9 1512.3,378.9" stroke="#ffb848" stroke-width="9.1" opacity="0.15"/>
<path d="M1338.1,335.0C1334.4,335.5 1323.1,336.4 1315.8,338.1C1308.4,339.8 1301.1,342.2 1294.1,345.3C1287.1,348.3 1280.1,352.1 1273.7,356.4C1267.3,360.7 1261.0,365.7 1255.4,371.2C1249.8,376.7 1244.5,382.8 1239.9,389.3C1235.3,395.8 1231.1,402.9 1227.7,410.2C1224.3,417.5 1221.4,425.4 1219.4,433.3C1217.3,441.2 1215.9,449.5 1215.3,457.8C1214.7,466.1 1214.8,474.6 1215.7,483.0C1216.6,491.3 1219.8,503.8 1220.7,508.0" stroke="#ffb848" stroke-width="8.3" opacity="0.19"/>
<path d="M1449.3,646.0C1454.4,643.8 1470.1,638.0 1480.0,632.7C1490.0,627.4 1499.7,621.2 1508.9,614.3C1518.1,607.3 1526.9,599.5 1535.0,591.0C1543.1,582.6 1550.8,573.3 1557.6,563.4C1564.4,553.6 1570.6,543.0 1575.9,532.0C1581.2,521.0 1585.7,509.3 1589.2,497.4C1592.8,485.4 1595.5,473.0 1597.1,460.4C1598.8,447.8 1599.5,434.8 1599.1,421.9C1598.8,409.0 1597.4,395.8 1595.0,382.9C1592.5,370.0 1586.2,350.8 1584.5,344.3" stroke="#700000" stroke-width="8.4" opacity="0.11"/>
<path d="M1296.7,653.7C1302.8,655.1 1320.9,660.4 1333.3,662.1C1345.7,663.7 1358.5,664.3 1371.1,663.6C1383.7,663.0 1396.4,661.1 1408.7,658.2C1421.0,655.2 1433.3,651.1 1444.9,645.9C1456.6,640.7 1467.9,634.3 1478.5,627.0C1489.0,619.8 1499.1,611.4 1508.2,602.3C1517.2,593.1 1525.7,583.0 1533.0,572.3C1540.2,561.6 1546.7,550.0 1551.9,538.1C1557.2,526.2 1561.4,513.5 1564.4,500.8C1567.4,488.0 1569.0,468.1 1569.9,461.6" stroke="#ffb848" stroke-width="4.7" opacity="0.22"/>
<path d="M1281.0,425.2C1280.3,426.4 1277.8,430.1 1276.4,432.8C1275.0,435.4 1273.7,438.1 1272.5,441.0C1271.4,443.8 1270.4,446.7 1269.6,449.7C1268.8,452.7 1268.1,455.8 1267.6,458.9C1267.1,462.1 1266.8,465.3 1266.6,468.5C1266.5,471.7 1266.5,475.0 1266.7,478.2C1266.9,481.5 1267.3,484.8 1267.9,488.1C1268.5,491.4 1269.2,494.7 1270.2,497.9C1271.2,501.2 1272.3,504.4 1273.6,507.6C1275.0,510.8 1277.5,515.4 1278.2,517.0" stroke="#700000" stroke-width="6.5" opacity="0.22"/>
<path d="M1344.1,392.7C1342.2,392.9 1336.3,393.3 1332.5,394.1C1328.6,395.0 1324.7,396.1 1321.0,397.7C1317.3,399.2 1313.6,401.1 1310.2,403.3C1306.7,405.5 1303.3,408.0 1300.3,410.9C1297.2,413.7 1294.3,416.8 1291.7,420.2C1289.1,423.6 1286.8,427.3 1284.8,431.2C1282.9,435.0 1281.2,439.1 1279.9,443.4C1278.6,447.6 1277.6,452.0 1277.1,456.5C1276.6,460.9 1276.4,465.5 1276.7,470.1C1276.9,474.6 1278.3,481.5 1278.7,483.8" stroke="#ffb848" stroke-width="8.4" opacity="0.14"/>
<path d="M1495.9,403.7C1495.4,401.9 1494.1,396.1 1493.0,392.4C1491.9,388.6 1490.6,384.9 1489.2,381.1C1487.8,377.4 1486.2,373.7 1484.5,370.1C1482.8,366.5 1480.9,362.9 1478.9,359.3C1476.9,355.8 1474.7,352.3 1472.4,348.9C1470.1,345.5 1467.6,342.2 1465.0,339.0C1462.4,335.7 1459.7,332.5 1456.8,329.5C1453.9,326.4 1450.9,323.4 1447.8,320.6C1444.7,317.7 1441.4,314.9 1438.0,312.3C1434.6,309.6 1429.3,306.0 1427.5,304.7" stroke="#ffb848" stroke-width="10.8" opacity="0.14"/>
<path d="M1167.6,244.9C1162.7,248.6 1147.5,259.1 1138.1,267.1C1128.7,275.2 1119.7,284.0 1111.3,293.4C1102.9,302.8 1094.9,312.9 1087.7,323.5C1080.5,334.1 1073.8,345.3 1067.9,357.0C1062.0,368.6 1056.7,380.8 1052.3,393.3C1047.9,405.8 1044.3,418.8 1041.5,431.9C1038.7,445.1 1036.7,458.7 1035.6,472.3C1034.6,486.0 1034.3,499.9 1035.1,513.8C1035.8,527.7 1037.4,541.7 1039.9,555.6C1042.5,569.5 1048.6,590.1 1050.4,597.0" stroke="#ffb848" stroke-width="10.8" opacity="0.20"/>
<path d="M1332.8,212.3C1326.9,212.8 1309.1,213.5 1297.4,215.4C1285.6,217.2 1273.9,220.0 1262.4,223.6C1250.9,227.2 1239.6,231.6 1228.6,236.9C1217.7,242.1 1207.0,248.2 1196.8,255.1C1186.7,261.9 1176.8,269.6 1167.7,277.9C1158.5,286.1 1149.8,295.2 1141.8,304.8C1133.8,314.5 1126.5,324.8 1119.9,335.5C1113.3,346.3 1107.4,357.7 1102.4,369.4C1097.4,381.1 1093.2,393.3 1089.9,405.7C1086.6,418.1 1083.9,437.5 1082.6,443.8" stroke="#ffb848" stroke-width="9.8" opacity="0.14"/>
<path d="M1228.3,586.2C1231.9,589.7 1242.3,600.5 1250.2,606.7C1258.0,613.0 1266.6,618.6 1275.4,623.5C1284.3,628.4 1293.7,632.6 1303.4,635.9C1313.0,639.3 1323.2,641.9 1333.3,643.7C1343.5,645.4 1354.0,646.3 1364.4,646.3C1374.8,646.3 1385.4,645.5 1395.8,643.8C1406.2,642.0 1416.6,639.4 1426.6,635.9C1436.7,632.5 1446.6,628.1 1456.0,623.0C1465.4,617.9 1474.6,611.9 1483.1,605.2C1491.6,598.6 1503.1,586.7 1507.0,583.0" stroke="#ffb848" stroke-width="8.2" opacity="0.24"/>
<path d="M1305.0,475.1C1305.4,476.4 1306.4,480.3 1307.4,482.9C1308.4,485.4 1309.6,488.0 1311.1,490.4C1312.5,492.8 1314.1,495.1 1315.9,497.3C1317.8,499.5 1319.8,501.6 1321.9,503.5C1324.1,505.4 1326.5,507.2 1329.0,508.7C1331.4,510.3 1334.1,511.7 1336.8,512.9C1339.6,514.1 1342.5,515.1 1345.4,515.8C1348.3,516.5 1351.4,517.1 1354.5,517.4C1357.5,517.6 1360.7,517.7 1363.8,517.5C1366.9,517.3 1371.6,516.4 1373.2,516.1" stroke="#ffb848" stroke-width="9.1" opacity="0.14"/>
<path d="M1531.3,580.7C1535.0,575.0 1547.0,558.4 1553.1,546.3C1559.3,534.2 1564.4,521.2 1568.2,508.0C1572.1,494.9 1574.7,481.0 1576.0,467.2C1577.3,453.4 1577.3,439.2 1576.0,425.3C1574.7,411.3 1572.0,397.2 1568.0,383.7C1564.1,370.1 1558.8,356.6 1552.3,343.9C1545.8,331.2 1538.0,318.8 1529.1,307.4C1520.3,296.1 1510.2,285.3 1499.3,275.7C1488.4,266.1 1476.3,257.3 1463.7,249.8C1451.1,242.3 1430.2,234.0 1423.5,230.9" stroke="#700000" stroke-width="7.2" opacity="0.12"/>
<path d="M1074.0,560.2C1076.5,567.9 1082.5,591.4 1088.7,606.5C1094.9,621.6 1102.4,636.5 1111.1,650.6C1119.8,664.7 1129.8,678.5 1140.9,691.3C1152.0,704.1 1164.3,716.3 1177.6,727.3C1190.8,738.3 1205.2,748.5 1220.3,757.4C1235.5,766.3 1251.6,774.2 1268.3,780.7C1284.9,787.1 1302.5,792.4 1320.2,796.2C1338.0,799.9 1356.5,802.3 1375.0,803.2C1393.5,804.0 1412.4,803.4 1431.1,801.2C1449.8,799.1 1477.7,791.9 1487.1,790.1" stroke="#700000" stroke-width="9.8" opacity="0.20"/>
<path d="M1306.9,283.7C1302.3,285.2 1288.2,289.0 1279.3,292.7C1270.3,296.4 1261.5,300.9 1253.3,306.0C1245.0,311.1 1237.0,317.0 1229.6,323.4C1222.3,329.8 1215.3,336.9 1209.0,344.5C1202.7,352.1 1196.9,360.2 1191.9,368.7C1186.9,377.2 1182.5,386.3 1178.8,395.5C1175.2,404.8 1172.3,414.4 1170.2,424.2C1168.1,433.9 1166.8,444.0 1166.3,454.0C1165.8,464.0 1166.0,474.2 1167.2,484.2C1168.3,494.2 1171.9,509.1 1172.9,514.1" stroke="#ffb848" stroke-width="4.8" opacity="0.24"/>
<path d="M1330.0,500.6C1331.1,501.3 1334.1,503.5 1336.4,504.7C1338.6,505.9 1341.0,507.0 1343.4,507.9C1345.9,508.7 1348.4,509.5 1351.0,510.0C1353.6,510.5 1356.3,510.8 1359.0,510.9C1361.7,511.0 1364.5,510.8 1367.2,510.5C1370.0,510.2 1372.7,509.6 1375.4,508.9C1378.1,508.1 1380.8,507.1 1383.4,506.0C1386.0,504.8 1388.6,503.4 1391.0,501.8C1393.5,500.2 1395.8,498.3 1398.0,496.3C1400.2,494.4 1403.2,490.9 1404.2,489.8" stroke="#700000" stroke-width="8.9" opacity="0.21"/>
<path d="M1207.9,352.3C1205.4,356.1 1197.1,367.1 1192.5,375.0C1187.9,382.9 1183.9,391.4 1180.6,400.0C1177.2,408.6 1174.5,417.5 1172.5,426.6C1170.5,435.7 1169.2,445.0 1168.6,454.4C1168.0,463.7 1168.0,473.2 1168.9,482.6C1169.7,492.0 1171.2,501.4 1173.5,510.6C1175.7,519.9 1178.7,529.0 1182.3,537.9C1185.9,546.7 1190.3,555.4 1195.3,563.6C1200.2,571.8 1205.9,579.8 1212.1,587.3C1218.3,594.7 1229.0,604.7 1232.4,608.2" stroke="#700000" stroke-width="6.3" opacity="0.11"/>
<path d="M1291.7,343.9C1289.8,344.7 1284.4,346.9 1280.8,348.7C1277.3,350.5 1273.8,352.4 1270.4,354.6C1267.0,356.7 1263.6,359.0 1260.4,361.4C1257.1,363.9 1254.0,366.5 1251.0,369.3C1247.9,372.0 1245.0,374.9 1242.2,378.0C1239.4,381.1 1236.7,384.3 1234.2,387.6C1231.7,391.0 1229.3,394.4 1227.0,398.0C1224.8,401.6 1222.7,405.4 1220.7,409.2C1218.8,413.0 1217.1,416.9 1215.5,421.0C1213.9,425.0 1211.9,431.2 1211.2,433.3" stroke="#700000" stroke-width="7.2" opacity="0.14"/>
<path d="M1235.2,479.4C1235.8,482.7 1237.0,492.7 1238.7,499.3C1240.4,505.8 1242.7,512.3 1245.4,518.5C1248.2,524.7 1251.6,530.9 1255.5,536.6C1259.3,542.4 1263.7,548.0 1268.5,553.1C1273.3,558.2 1278.6,563.0 1284.3,567.4C1290.0,571.7 1296.1,575.6 1302.5,579.0C1308.9,582.3 1315.7,585.2 1322.7,587.5C1329.6,589.8 1336.9,591.6 1344.2,592.7C1351.5,593.8 1359.1,594.4 1366.6,594.3C1374.2,594.2 1385.5,592.5 1389.3,592.1" stroke="#700000" stroke-width="9.2" opacity="0.19"/>
<path d="M1399.0,510.5C1400.1,509.8 1403.2,507.9 1405.2,506.5C1407.2,505.0 1409.2,503.5 1411.0,501.8C1412.9,500.1 1414.7,498.3 1416.4,496.4C1418.1,494.5 1419.8,492.5 1421.3,490.4C1422.8,488.3 1424.3,486.0 1425.6,483.7C1426.9,481.4 1428.1,479.0 1429.2,476.5C1430.3,474.1 1431.3,471.5 1432.1,468.9C1432.9,466.2 1433.6,463.5 1434.2,460.8C1434.7,458.1 1435.2,455.3 1435.4,452.4C1435.7,449.6 1435.7,445.2 1435.8,443.8" stroke="#ffb848" stroke-width="8.7" opacity="0.16"/>
<path d="M1101.5,318.8C1097.5,325.8 1084.3,346.2 1077.5,361.0C1070.7,375.7 1064.9,391.4 1060.6,407.3C1056.3,423.2 1053.2,439.8 1051.6,456.5C1049.9,473.2 1049.6,490.4 1050.8,507.3C1052.0,524.3 1054.7,541.6 1058.7,558.3C1062.8,575.1 1068.3,592.0 1075.3,608.1C1082.2,624.2 1090.6,640.1 1100.2,655.0C1109.9,670.0 1121.0,684.4 1133.1,697.8C1145.3,711.1 1158.9,723.7 1173.3,734.9C1187.7,746.2 1212.0,760.3 1219.7,765.3" stroke="#700000" stroke-width="6.7" opacity="0.20"/>
</g>
</g>
</g>
<ellipse cx="1362" cy="466" rx="50" ry="46" fill="#c4560c" filter="url(#b8)" opacity="0.95"/>
<path d="M1373.0,490.9C1370.6,491.6 1363.3,494.5 1358.5,494.8C1353.7,495.1 1348.5,494.3 1344.0,492.7C1339.6,491.1 1335.3,488.4 1331.9,485.3C1328.5,482.2 1325.6,478.1 1323.8,474.1C1322.0,470.0 1321.0,465.2 1320.9,460.9C1320.8,456.6 1321.7,451.9 1323.3,448.0C1324.9,444.1 1327.4,440.3 1330.3,437.4C1333.2,434.5 1337.0,432.2 1340.7,430.7C1344.4,429.2 1348.6,428.5 1352.5,428.6C1356.3,428.7 1361.9,430.8 1363.7,431.2" fill="none" stroke="#e07818" stroke-width="14" stroke-linecap="round" filter="url(#b4)"/>
<path d="M1407.7,427.0C1408.7,430.4 1413.0,440.6 1413.8,447.4C1414.7,454.3 1414.2,461.7 1412.6,468.3C1411.1,475.0 1408.1,481.6 1404.5,487.1C1400.8,492.7 1395.9,497.8 1390.7,501.7C1385.4,505.6 1379.2,508.6 1373.1,510.4C1367.0,512.2 1360.2,512.9 1354.0,512.6C1347.8,512.2 1341.3,510.5 1335.8,508.1C1330.2,505.7 1324.8,502.0 1320.5,497.9C1316.2,493.8 1312.5,488.6 1310.0,483.4C1307.4,478.2 1306.0,469.4 1305.2,466.6" fill="none" stroke="#c85808" stroke-width="12" stroke-linecap="round" filter="url(#b5)" opacity="0.8"/>
<circle cx="1357" cy="460" r="16" fill="#8a0400" filter="url(#b3)"/>
<circle cx="1354.5" cy="456.5" r="6.5" fill="#ffd870" filter="url(#b2)"/>
<circle cx="1354" cy="456.3" r="4" fill="#78ffc8"/>
</g>
<clipPath id="c2i"><polygon points="1128,187 1710,178 1710,828 1087,828"/></clipPath>
<g clip-path="url(#c2i)">
<line x1="1057" y1="103" x2="1057" y2="828" stroke="#fff" stroke-width="2.08" stroke-dasharray="2.08 3.43" stroke-dashoffset="-1"/>
<line x1="1203" y1="103" x2="1203" y2="828" stroke="#fff" stroke-width="2.08" stroke-dasharray="2.08 3.43" stroke-dashoffset="-1"/>
<line x1="1349" y1="103" x2="1349" y2="828" stroke="#fff" stroke-width="2.08" stroke-dasharray="2.08 3.43" stroke-dashoffset="-1"/>
<line x1="1495" y1="103" x2="1495" y2="828" stroke="#fff" stroke-width="2.08" stroke-dasharray="2.08 3.43" stroke-dashoffset="-1"/>
<line x1="1641" y1="103" x2="1641" y2="828" stroke="#fff" stroke-width="2.08" stroke-dasharray="2.08 3.43" stroke-dashoffset="-1"/>
<line x1="985" y1="171" x2="1710" y2="171" stroke="#fff" stroke-width="2.08" stroke-dasharray="2.08 3.43" stroke-dashoffset="-1"/>
<line x1="985" y1="316.5" x2="1710" y2="316.5" stroke="#fff" stroke-width="2.08" stroke-dasharray="2.08 3.43" stroke-dashoffset="-1"/>
<line x1="985" y1="462" x2="1710" y2="462" stroke="#fff" stroke-width="2.08" stroke-dasharray="2.08 3.43" stroke-dashoffset="-1"/>
<line x1="985" y1="607.5" x2="1710" y2="607.5" stroke="#fff" stroke-width="2.08" stroke-dasharray="2.08 3.43" stroke-dashoffset="-1"/>
<line x1="985" y1="753" x2="1710" y2="753" stroke="#fff" stroke-width="2.08" stroke-dasharray="2.08 3.43" stroke-dashoffset="-1"/>
</g>
</g>
<rect x="983.5" y="101.5" width="728" height="728" fill="none" stroke="#000" stroke-width="3"/>
<text x="974" y="175.3" font-size="12.8" text-anchor="end" textLength="32.3" lengthAdjust="spacingAndGlyphs">30°N</text>
<text x="974" y="320.8" font-size="12.8" text-anchor="end" textLength="32.3" lengthAdjust="spacingAndGlyphs">28°N</text>
<text x="974" y="466.3" font-size="12.8" text-anchor="end" textLength="32.3" lengthAdjust="spacingAndGlyphs">26°N</text>
<text x="974" y="611.8" font-size="12.8" text-anchor="end" textLength="32.3" lengthAdjust="spacingAndGlyphs">24°N</text>
<text x="974" y="757.3" font-size="12.8" text-anchor="end" textLength="32.3" lengthAdjust="spacingAndGlyphs">22°N</text>
<text x="1056.5" y="851" font-size="12.8" text-anchor="middle" textLength="36" lengthAdjust="spacingAndGlyphs">70°W</text>
<text x="1202.5" y="851" font-size="12.8" text-anchor="middle" textLength="36" lengthAdjust="spacingAndGlyphs">68°W</text>
<text x="1348.5" y="851" font-size="12.8" text-anchor="middle" textLength="36" lengthAdjust="spacingAndGlyphs">66°W</text>
<text x="1494.5" y="851" font-size="12.8" text-anchor="middle" textLength="36" lengthAdjust="spacingAndGlyphs">64°W</text>
<text x="1640.5" y="851" font-size="12.8" text-anchor="middle" textLength="36" lengthAdjust="spacingAndGlyphs">62°W</text>
<rect x="1718.5" y="101.5" width="15" height="728" fill="url(#cb2)" stroke="#000" stroke-width="1"/>
<text x="1728.3" y="93.6" font-size="16.6" textLength="18" lengthAdjust="spacingAndGlyphs">°C</text>
<text x="1741.4" y="156.9" font-size="16.6" textLength="20" lengthAdjust="spacingAndGlyphs">40</text>
<text x="1741.4" y="205.4" font-size="16.6" textLength="20" lengthAdjust="spacingAndGlyphs">30</text>
<text x="1741.4" y="253.9" font-size="16.6" textLength="20" lengthAdjust="spacingAndGlyphs">20</text>
<text x="1741.4" y="302.4" font-size="16.6" textLength="20" lengthAdjust="spacingAndGlyphs">10</text>
<text x="1741.4" y="350.9" font-size="16.6" textLength="10" lengthAdjust="spacingAndGlyphs">0</text>
<text x="1741.4" y="399.4" font-size="16.6" textLength="34" lengthAdjust="spacingAndGlyphs">−10</text>
<text x="1741.4" y="447.9" font-size="16.6" textLength="34" lengthAdjust="spacingAndGlyphs">−20</text>
<text x="1741.4" y="496.4" font-size="16.6" textLength="34" lengthAdjust="spacingAndGlyphs">−30</text>
<text x="1741.4" y="544.9" font-size="16.6" textLength="34" lengthAdjust="spacingAndGlyphs">−40</text>
<text x="1741.4" y="593.4" font-size="16.6" textLength="34" lengthAdjust="spacingAndGlyphs">−50</text>
<text x="1741.4" y="641.9" font-size="16.6" textLength="34" lengthAdjust="spacingAndGlyphs">−60</text>
<text x="1741.4" y="690.4" font-size="16.6" textLength="34" lengthAdjust="spacingAndGlyphs">−70</text>
<text x="1741.4" y="738.9" font-size="16.6" textLength="34" lengthAdjust="spacingAndGlyphs">−80</text>
<text x="1741.4" y="787.4" font-size="16.6" textLength="34" lengthAdjust="spacingAndGlyphs">−90</text>
</g>
<g id="chart">
<text x="483.5" y="881.5" font-size="21.6" text-anchor="middle" textLength="316" lengthAdjust="spacingAndGlyphs">Wind / Pres. / ACE Diagnosis</text>
<polyline points="139.2,1261.4 165.6,1261.4 192.0,1261.4 218.4,1261.4 244.8,1261.4 271.2,1247.2 297.6,1247.2 323.9,1232.9 350.3,1232.9 376.7,1218.7 403.1,1204.5 429.5,1204.5 455.9,1204.5 482.3,1176.0 508.7,1161.8 535.1,1133.3 561.5,1104.9 587.9,1048.0 614.3,976.8 640.7,948.3 667.0,948.3 693.4,934.1 719.8,919.9 746.2,934.1 772.6,948.3 799.0,962.6 825.4,962.6" fill="none" stroke="#0000ff" stroke-width="5" stroke-linejoin="round"/>
<rect x="117.5" y="912.3" width="226" height="35" rx="3.5" fill="#fff" fill-opacity="0.8" stroke="#d3d3d3" stroke-width="3"/>
<line x1="122.8" y1="928.3" x2="166.2" y2="928.3" stroke="#0000ff" stroke-width="5"/>
<text x="180" y="935.8" font-size="19.2" textLength="154.7" lengthAdjust="spacingAndGlyphs">Wind[max=140]</text>
<polyline points="139.2,1636.3 165.6,1636.3 192.0,1636.3 218.4,1636.3 244.8,1636.3 271.2,1636.3 297.6,1636.3 323.9,1636.3 350.3,1636.3 376.7,1634.0 403.1,1631.0 429.5,1628.0 455.9,1625.0 482.3,1620.4 508.7,1614.7 535.1,1606.8 561.5,1596.3 587.9,1579.4 614.3,1552.5 640.7,1520.9 667.0,1489.3 693.4,1455.3 719.8,1418.7 746.2,1384.6 772.6,1353.0 799.0,1323.8 825.4,1294.6" fill="none" stroke="#008000" stroke-width="5" stroke-linejoin="round"/>
<rect x="117.5" y="1287.3" width="258.5" height="35" rx="3.5" fill="#fff" fill-opacity="0.8" stroke="#d3d3d3" stroke-width="3"/>
<line x1="122.8" y1="1303.3" x2="166.2" y2="1303.3" stroke="#008000" stroke-width="5"/>
<text x="180" y="1310.8" font-size="19.2" textLength="188" lengthAdjust="spacingAndGlyphs">ACE[max=18.2825]</text>
<rect x="108.5" y="903.5" width="750" height="750" fill="none" stroke="#000" stroke-width="3"/>
<line x1="107" y1="1278.5" x2="860" y2="1278.5" stroke="#000" stroke-width="3"/>
<rect x="630.5" y="912.3" width="217" height="35" rx="3.5" fill="#fff" fill-opacity="0.8" stroke="#d3d3d3" stroke-width="3"/>
<line x1="635.4" y1="928.3" x2="678.8" y2="928.3" stroke="#1f77b4" stroke-width="5"/>
<text x="692" y="935.8" font-size="19.2" textLength="148" lengthAdjust="spacingAndGlyphs">Pres.[min=924]</text>
<polyline points="139.2,921.1 165.6,921.1 192.0,921.1 218.4,921.1 244.8,921.1 271.2,925.0 297.6,925.0 323.9,925.0 350.3,925.0 376.7,932.8 403.1,936.7 429.5,936.7 455.9,940.6 482.3,964.0 508.7,971.8 535.1,1003.1 561.5,1034.3 587.9,1096.8 614.3,1190.6 640.7,1221.8 667.0,1221.8 693.4,1241.3 719.8,1260.9 746.2,1241.3 772.6,1221.8 799.0,1210.1 825.4,1245.3" fill="none" stroke="#1f77b4" stroke-width="5" stroke-linejoin="round"/>
<line x1="96.4" y1="1261.4" x2="107" y2="1261.4" stroke="#000" stroke-width="3"/>
<text x="82.3" y="1267.0" font-size="12.8" text-anchor="end" textLength="16" lengthAdjust="spacingAndGlyphs">20</text>
<line x1="96.4" y1="1204.5" x2="107" y2="1204.5" stroke="#000" stroke-width="3"/>
<text x="82.3" y="1210.08" font-size="12.8" text-anchor="end" textLength="16" lengthAdjust="spacingAndGlyphs">40</text>
<line x1="96.4" y1="1147.6" x2="107" y2="1147.6" stroke="#000" stroke-width="3"/>
<text x="82.3" y="1153.16" font-size="12.8" text-anchor="end" textLength="16" lengthAdjust="spacingAndGlyphs">60</text>
<line x1="96.4" y1="1090.6" x2="107" y2="1090.6" stroke="#000" stroke-width="3"/>
<text x="82.3" y="1096.24" font-size="12.8" text-anchor="end" textLength="16" lengthAdjust="spacingAndGlyphs">80</text>
<line x1="96.4" y1="1033.7" x2="107" y2="1033.7" stroke="#000" stroke-width="3"/>
<text x="82.3" y="1039.32" font-size="12.8" text-anchor="end" textLength="24" lengthAdjust="spacingAndGlyphs">100</text>
<line x1="96.4" y1="976.8" x2="107" y2="976.8" stroke="#000" stroke-width="3"/>
<text x="82.3" y="982.4000000000001" font-size="12.8" text-anchor="end" textLength="24" lengthAdjust="spacingAndGlyphs">120</text>
<line x1="96.4" y1="919.9" x2="107" y2="919.9" stroke="#000" stroke-width="3"/>
<text x="82.3" y="925.4800000000001" font-size="12.8" text-anchor="end" textLength="24" lengthAdjust="spacingAndGlyphs">140</text>
<line x1="860" y1="1276.5" x2="870.6" y2="1276.5" stroke="#000" stroke-width="3"/>
<text x="883.5" y="1281.9" font-size="12.8" textLength="24" lengthAdjust="spacingAndGlyphs">920</text>
<line x1="860" y1="1198.4" x2="870.6" y2="1198.4" stroke="#000" stroke-width="3"/>
<text x="883.5" y="1203.7800000000002" font-size="12.8" textLength="24" lengthAdjust="spacingAndGlyphs">940</text>
<line x1="860" y1="1120.3" x2="870.6" y2="1120.3" stroke="#000" stroke-width="3"/>
<text x="883.5" y="1125.66" font-size="12.8" textLength="24" lengthAdjust="spacingAndGlyphs">960</text>
<line x1="860" y1="1042.1" x2="870.6" y2="1042.1" stroke="#000" stroke-width="3"/>
<text x="883.5" y="1047.54" font-size="12.8" textLength="24" lengthAdjust="spacingAndGlyphs">980</text>
<line x1="860" y1="964.0" x2="870.6" y2="964.0" stroke="#000" stroke-width="3"/>
<text x="883.5" y="969.42" font-size="12.8" textLength="32" lengthAdjust="spacingAndGlyphs">1000</text>
<line x1="96.4" y1="1636.3" x2="107" y2="1636.3" stroke="#000" stroke-width="3"/>
<text x="82.3" y="1641.8999999999999" font-size="12.8" text-anchor="end" textLength="20" lengthAdjust="spacingAndGlyphs">0.0</text>
<line x1="96.4" y1="1589.6" x2="107" y2="1589.6" stroke="#000" stroke-width="3"/>
<text x="82.3" y="1595.175" font-size="12.8" text-anchor="end" textLength="20" lengthAdjust="spacingAndGlyphs">2.5</text>
<line x1="96.4" y1="1542.8" x2="107" y2="1542.8" stroke="#000" stroke-width="3"/>
<text x="82.3" y="1548.4499999999998" font-size="12.8" text-anchor="end" textLength="20" lengthAdjust="spacingAndGlyphs">5.0</text>
<line x1="96.4" y1="1496.1" x2="107" y2="1496.1" stroke="#000" stroke-width="3"/>
<text x="82.3" y="1501.725" font-size="12.8" text-anchor="end" textLength="20" lengthAdjust="spacingAndGlyphs">7.5</text>
<line x1="96.4" y1="1449.4" x2="107" y2="1449.4" stroke="#000" stroke-width="3"/>
<text x="82.3" y="1454.9999999999998" font-size="12.8" text-anchor="end" textLength="28" lengthAdjust="spacingAndGlyphs">10.0</text>
<line x1="96.4" y1="1402.7" x2="107" y2="1402.7" stroke="#000" stroke-width="3"/>
<text x="82.3" y="1408.2749999999999" font-size="12.8" text-anchor="end" textLength="28" lengthAdjust="spacingAndGlyphs">12.5</text>
<line x1="96.4" y1="1355.9" x2="107" y2="1355.9" stroke="#000" stroke-width="3"/>
<text x="82.3" y="1361.5499999999997" font-size="12.8" text-anchor="end" textLength="28" lengthAdjust="spacingAndGlyphs">15.0</text>
<line x1="96.4" y1="1309.2" x2="107" y2="1309.2" stroke="#000" stroke-width="3"/>
<text x="82.3" y="1314.8249999999998" font-size="12.8" text-anchor="end" textLength="28" lengthAdjust="spacingAndGlyphs">17.5</text>
<text x="0" y="0" font-size="12.8" text-anchor="middle" textLength="32" lengthAdjust="spacingAndGlyphs" transform="translate(40.5,1092) rotate(-90)">Wind</text>
<text x="0" y="0" font-size="12.8" text-anchor="middle" textLength="25" lengthAdjust="spacingAndGlyphs" transform="translate(36,1466) rotate(-90)">ACE</text>
<text x="0" y="0" font-size="12.8" text-anchor="middle" textLength="56" lengthAdjust="spacingAndGlyphs" transform="translate(943,1092) rotate(-90)">Pressure</text>
</g>
<g id="p4">
<clipPath id="c4"><rect x="985" y="905" width="747" height="747"/></clipPath>
<g clip-path="url(#c4)">
<path d="M997.800,908.300L1782.300,899.700L1713.500,1638.900L935.400,1648.000Z" fill="#000"/>
<path d="M997.800,908.300L1091.940,907.268L1090.498,924.151L996.376,925.184ZM1499.880,902.796L1546.950,902.280L1545.423,919.156L1498.362,919.673ZM996.443,924.380L1012.131,924.208L1010.703,941.092L995.019,941.265ZM1451.373,919.386L1467.060,919.214L1465.548,936.092L1449.864,936.264ZM1482.747,919.042L1561.183,918.181L1559.654,935.057L1481.232,935.919ZM995.087,940.461L1042.140,939.944L1040.707,956.827L993.663,957.345ZM1324.460,936.840L1371.513,936.322L1370.019,953.201L1322.974,953.719ZM1418.567,935.805L1559.727,934.253L1558.197,951.129L1417.063,952.683ZM1575.411,934.081L1669.518,933.046L1667.968,949.921L1573.879,950.957ZM1009.412,956.369L1056.457,955.851L1055.021,972.734L1007.985,973.253ZM1323.045,952.916L1385.772,952.225L1384.274,969.104L1321.559,969.795ZM1417.135,951.880L1715.086,948.599L1713.528,965.473L1415.632,968.758ZM1321.630,968.991L1400.025,968.127L1398.524,985.006L1320.144,985.871ZM1431.382,967.781L1776.317,963.978L1774.747,980.851L1429.876,984.659ZM1288.863,985.414L1774.822,980.048L1773.251,996.921L1287.383,1002.294ZM1287.454,1001.490L1773.326,996.117L1771.756,1012.990L1285.974,1018.370ZM1286.044,1017.566L1771.830,1012.187L1770.260,1029.060L1284.564,1034.446ZM1284.635,1033.642L1770.335,1028.257L1768.764,1045.130L1283.155,1050.523ZM1267.561,1049.893L1768.839,1044.326L1767.269,1061.199L1266.084,1066.773ZM1219.167,1066.492L1767.343,1060.396L1765.773,1077.269L1217.699,1083.373ZM1217.769,1082.569L1765.848,1076.465L1764.277,1093.338L1216.301,1099.450ZM1216.371,1098.646L1372.937,1096.900L1371.440,1113.779L1214.903,1115.527ZM1498.190,1095.503L1513.846,1095.329L1512.323,1112.205L1496.669,1112.380ZM1560.816,1094.805L1764.352,1092.535L1762.782,1109.408L1559.284,1111.681ZM1230.626,1114.548L1371.511,1112.975L1370.013,1129.854L1229.155,1131.429ZM1575.011,1110.702L1762.857,1108.604L1761.286,1125.477L1573.475,1127.578ZM1229.225,1130.625L1338.783,1129.400L1337.291,1146.279L1227.754,1147.506ZM1604.850,1126.424L1761.361,1124.674L1759.790,1141.547L1603.309,1143.300ZM1212.176,1146.878L1337.362,1145.476L1335.871,1162.355L1210.708,1163.759ZM1634.679,1142.146L1759.865,1140.743L1758.295,1157.617L1633.132,1159.020ZM1242.069,1162.604L1320.296,1161.726L1318.808,1178.606L1240.595,1179.484ZM1617.560,1158.392L1758.370,1156.813L1756.799,1173.686L1616.016,1175.267ZM1256.308,1178.505L1287.593,1178.153L1286.110,1195.033L1254.831,1195.385ZM1303.236,1177.978L1318.878,1177.802L1317.390,1194.682L1301.750,1194.857ZM1647.375,1174.112L1756.874,1172.883L1755.303,1189.756L1645.825,1190.987ZM1254.901,1194.581L1301.821,1194.054L1300.335,1210.933L1253.424,1211.462ZM1661.539,1190.008L1755.378,1188.952L1753.808,1205.825L1659.986,1206.882ZM1253.494,1210.658L1316.043,1209.953L1314.554,1226.833L1252.017,1227.538ZM1628.786,1206.431L1753.883,1205.022L1752.312,1221.895L1627.239,1223.306ZM1267.722,1226.558L1314.625,1226.029L1313.137,1242.908L1266.242,1243.438ZM1627.312,1222.502L1752.387,1221.091L1750.817,1237.964L1625.765,1239.377ZM1266.313,1242.634L1297.576,1242.281L1296.090,1259.161L1264.833,1259.515ZM1610.207,1238.750L1750.891,1237.161L1749.321,1254.034L1608.663,1255.625ZM1249.275,1258.887L1311.790,1258.180L1310.301,1275.060L1247.798,1275.768ZM1577.479,1255.175L1749.396,1253.230L1747.825,1270.103L1575.941,1272.051ZM1169.738,1275.849L1263.494,1274.787L1262.014,1291.667L1168.276,1292.730ZM1279.120,1274.610L1357.250,1273.725L1355.753,1290.604L1277.637,1291.490ZM1560.388,1271.424L1747.900,1269.300L1746.330,1286.173L1558.853,1288.300ZM1308.954,1290.332L1387.070,1289.446L1385.567,1306.324L1307.466,1307.211ZM1558.926,1287.496L1746.404,1285.370L1744.834,1302.243L1557.390,1304.372ZM1198.193,1307.649L1229.434,1307.294L1227.960,1324.175L1196.725,1324.530ZM1276.296,1306.762L1494.982,1304.278L1493.458,1321.155L1274.813,1323.642ZM1557.463,1303.568L1713.668,1301.794L1712.103,1318.668L1555.928,1320.444ZM1181.178,1323.904L1493.531,1320.351L1492.007,1337.228L1179.712,1340.785ZM1556.001,1319.641L1712.178,1317.864L1710.613,1334.738L1554.466,1336.516ZM1211.012,1339.626L1476.465,1336.602L1474.944,1353.479L1209.541,1356.507ZM1523.309,1336.068L1710.688,1333.934L1709.123,1350.808L1521.780,1352.945ZM1240.835,1355.347L1475.016,1352.675L1473.495,1369.552L1239.358,1372.227ZM1506.240,1352.319L1553.077,1351.785L1551.541,1368.661L1504.714,1369.196ZM1568.689,1351.607L1709.198,1350.004L1707.633,1366.878L1567.150,1368.482ZM1301.866,1370.710L1395.521,1369.640L1394.015,1386.518L1300.377,1387.589ZM1426.740,1369.283L1457.959,1368.927L1456.441,1385.804L1425.228,1386.161ZM1489.177,1368.570L1676.489,1366.431L1674.930,1383.305L1487.654,1385.447ZM1300.448,1386.786L1378.480,1385.893L1376.977,1402.771L1298.959,1403.665ZM1440.907,1385.179L1456.513,1385.000L1454.995,1401.878L1439.392,1402.056ZM1487.726,1384.643L1565.759,1383.751L1564.220,1400.626L1486.202,1401.520ZM1581.365,1383.572L1659.398,1382.680L1657.842,1399.554L1579.824,1400.447ZM1314.634,1402.682L1330.238,1402.504L1328.743,1419.383L1313.142,1419.562ZM1439.464,1401.253L1470.671,1400.895L1469.150,1417.772L1437.949,1418.130ZM1486.275,1400.716L1564.294,1399.823L1562.755,1416.698L1484.751,1417.593ZM1579.897,1399.644L1657.916,1398.750L1656.360,1415.624L1578.356,1416.519ZM1500.425,1416.610L1547.228,1416.074L1545.692,1432.949L1498.898,1433.487ZM1578.430,1415.716L1640.833,1415.000L1639.280,1431.874L1576.888,1432.591ZM1530.167,1432.325L1545.765,1432.146L1544.230,1449.022L1528.635,1449.201ZM971.972,1583.316L987.545,1583.135L986.112,1600.019L970.542,1600.200ZM986.181,1599.215L1001.751,1599.033L1000.315,1615.917L984.747,1616.098ZM983.451,1631.374L1014.580,1631.011L1013.210,1647.090L982.086,1647.454Z" fill="#fff" stroke="#fff" stroke-width="0.8"/>
<path d="M1233.150,905.720L1248.840,905.548L1247.369,922.429L1231.682,922.601ZM1280.220,905.204L1327.290,904.688L1325.804,921.568L1278.743,922.084ZM1358.670,904.344L1405.740,903.828L1404.240,920.707L1357.178,921.223ZM1231.752,921.797L1310.188,920.936L1308.705,937.816L1230.284,938.678ZM1120.562,939.081L1151.931,938.737L1150.478,955.619L1119.115,955.964ZM1230.353,937.874L1277.407,937.357L1275.930,954.237L1228.885,954.755ZM1293.091,937.185L1308.776,937.012L1307.293,953.892L1291.611,954.065ZM1119.184,955.160L1150.547,954.815L1149.093,971.697L1117.736,972.043ZM1291.682,953.261L1307.363,953.088L1305.881,969.968L1290.202,970.141ZM1070.768,971.757L1086.447,971.585L1085.005,988.468L1069.329,988.641ZM1117.805,971.239L1149.163,970.893L1147.709,987.775L1116.357,988.121ZM1227.557,970.029L1274.594,969.510L1273.117,986.390L1226.089,986.910ZM1085.074,987.664L1147.778,986.971L1146.325,1003.853L1083.632,1004.547ZM1163.454,986.798L1273.187,985.587L1271.710,1002.467L1161.998,1003.680ZM1068.027,1003.916L1146.394,1003.050L1144.940,1019.932L1066.588,1020.799ZM1162.067,1002.876L1271.780,1001.663L1270.303,1018.543L1160.611,1019.758ZM1050.986,1020.169L1145.010,1019.128L1143.556,1036.010L1049.550,1037.053ZM1160.680,1018.954L1286.044,1017.566L1284.564,1034.446L1159.224,1035.836ZM1033.951,1036.422L1143.625,1035.206L1142.172,1052.088L1032.518,1053.306ZM1174.961,1034.859L1237.632,1034.164L1236.161,1051.044L1173.501,1051.740ZM1048.251,1052.328L1142.241,1051.284L1140.787,1068.167L1046.815,1069.212ZM1173.571,1050.936L1204.901,1050.589L1203.435,1067.470L1172.111,1067.818ZM1031.221,1068.582L1125.194,1067.537L1123.744,1084.419L1029.788,1085.466ZM1172.181,1067.014L1203.505,1066.666L1202.040,1083.547L1170.721,1083.896ZM1029.856,1084.662L1123.813,1083.615L1122.362,1100.498L1028.423,1101.545ZM1028.492,1100.741L1122.431,1099.694L1120.981,1116.576L1027.058,1117.625ZM1042.781,1116.646L1105.396,1115.947L1103.948,1132.830L1041.344,1133.530ZM1402.819,1112.625L1481.088,1111.751L1479.570,1128.628L1401.315,1129.504ZM1041.413,1132.726L1104.017,1132.026L1102.569,1148.908L1039.977,1149.609ZM1385.736,1128.875L1401.387,1128.700L1399.884,1145.578L1384.236,1145.753ZM1479.642,1127.825L1510.944,1127.475L1509.420,1144.351L1478.124,1144.702ZM1008.749,1149.156L1102.638,1148.104L1101.191,1164.987L1007.319,1166.040ZM1368.659,1145.125L1384.307,1144.950L1382.807,1161.828L1367.161,1162.004ZM1478.197,1143.898L1540.790,1143.197L1539.260,1160.073L1476.679,1160.775ZM1038.678,1164.885L1116.905,1164.008L1115.454,1180.890L1037.242,1181.769ZM1351.587,1161.375L1367.233,1161.200L1365.735,1178.079L1350.093,1178.254ZM1445.460,1160.323L1461.105,1160.147L1459.591,1177.025L1443.948,1177.200ZM1508.042,1159.621L1554.978,1159.094L1553.446,1175.970L1506.518,1176.497ZM1021.667,1181.140L1115.523,1180.086L1114.073,1196.969L1020.234,1198.024ZM1350.164,1177.451L1365.807,1177.275L1364.309,1194.154L1348.669,1194.330ZM1522.233,1175.518L1553.519,1175.167L1551.986,1192.043L1520.707,1192.395ZM1020.302,1197.220L1129.782,1195.989L1128.328,1212.871L1018.869,1214.104ZM1348.741,1193.526L1364.380,1193.350L1362.883,1210.229L1347.246,1210.405ZM1458.220,1192.295L1473.860,1192.119L1472.342,1208.996L1456.705,1209.172ZM1520.780,1191.591L1552.059,1191.239L1550.527,1208.115L1519.253,1208.467ZM1034.575,1213.124L1144.035,1211.891L1142.578,1228.773L1033.139,1230.007ZM1347.317,1209.601L1362.954,1209.425L1361.457,1226.304L1345.823,1226.480ZM1456.777,1208.368L1472.414,1208.192L1470.896,1225.069L1455.262,1225.246ZM1519.326,1207.664L1534.963,1207.488L1533.433,1224.364L1517.799,1224.540ZM1048.841,1229.027L1142.647,1227.969L1141.191,1244.851L1047.402,1245.910ZM1345.894,1225.676L1377.163,1225.324L1375.662,1242.202L1344.399,1242.555ZM1439.700,1224.618L1455.334,1224.442L1453.819,1241.319L1438.188,1241.496ZM1502.237,1223.913L1533.506,1223.560L1531.977,1240.436L1500.714,1240.790ZM1016.208,1245.459L1141.260,1244.047L1139.804,1260.929L1014.775,1262.343ZM1360.102,1241.575L1391.365,1241.222L1389.862,1258.100L1358.605,1258.454ZM1500.786,1239.986L1532.049,1239.633L1530.520,1256.509L1499.263,1256.863ZM1030.472,1261.362L1124.244,1260.302L1122.791,1277.184L1029.036,1278.246ZM1374.305,1257.473L1405.562,1257.120L1404.056,1273.998L1372.805,1274.352ZM1483.706,1256.236L1530.593,1255.705L1529.063,1272.582L1482.186,1273.113ZM1029.104,1277.442L1138.486,1276.203L1137.030,1293.085L1027.668,1294.326ZM1404.128,1273.194L1482.258,1272.309L1480.737,1289.186L1402.622,1290.072ZM1043.360,1293.344L1168.345,1291.927L1166.883,1308.808L1041.921,1310.228ZM995.128,1309.956L1151.332,1308.182L1149.873,1325.063L993.698,1326.840ZM1025.001,1325.681L1149.942,1324.259L1148.483,1341.141L1023.565,1342.564ZM1023.633,1341.760L1164.167,1340.159L1162.705,1357.041L1022.197,1358.644ZM1022.266,1357.840L1209.611,1355.703L1208.140,1372.584L1020.830,1374.723ZM1020.898,1373.919L1286.256,1370.888L1284.771,1387.768L1019.462,1390.803ZM1019.530,1389.999L1284.841,1386.964L1283.356,1403.844L1018.094,1406.883ZM1049.370,1405.721L1283.426,1403.040L1281.941,1419.920L1047.928,1422.604ZM1079.199,1421.442L1375.617,1418.042L1374.114,1434.920L1077.751,1438.325ZM1077.820,1437.521L1358.587,1434.296L1357.087,1451.174L1076.372,1454.404ZM1374.185,1434.117L1389.784,1433.937L1388.277,1450.816L1372.682,1450.995ZM1092.037,1453.420L1403.945,1449.832L1402.436,1466.710L1090.586,1470.303ZM1121.840,1469.140L1402.507,1465.907L1400.998,1482.784L1120.384,1486.021ZM1136.043,1485.038L1385.480,1482.161L1383.974,1499.039L1134.584,1501.919ZM1432.250,1481.621L1463.429,1481.261L1461.909,1498.138L1430.735,1498.498ZM1510.199,1480.722L1572.558,1480.003L1571.017,1496.878L1508.669,1497.598ZM1650.507,1479.103L1681.687,1478.744L1680.125,1495.618L1648.952,1495.978ZM1103.479,1501.476L1119.066,1501.296L1117.610,1518.178L1102.026,1518.358ZM1150.240,1500.936L1680.200,1494.814L1678.638,1511.688L1148.778,1517.817ZM1102.095,1517.554L1133.263,1517.193L1131.804,1534.075L1100.641,1534.436ZM1164.432,1516.833L1663.128,1511.065L1661.569,1527.938L1162.967,1533.714ZM1116.292,1533.452L1147.455,1533.091L1145.993,1549.972L1114.835,1550.334ZM1178.618,1532.730L1646.062,1527.315L1644.506,1544.190L1177.150,1549.611ZM1192.798,1548.626L1208.377,1548.446L1206.903,1565.326L1191.327,1565.507ZM1239.534,1548.084L1660.159,1543.205L1658.600,1560.079L1238.054,1564.964ZM1253.701,1563.980L1658.675,1559.276L1657.116,1576.150L1252.218,1580.859ZM1267.862,1579.875L1594.898,1576.071L1593.351,1592.946L1266.376,1596.754ZM1626.044,1575.709L1657.190,1575.346L1655.631,1592.220L1624.491,1592.583ZM1328.728,1595.225L1593.424,1592.142L1591.877,1609.017L1327.231,1612.104ZM1624.565,1591.779L1640.135,1591.598L1638.579,1608.472L1623.012,1608.654ZM1702.417,1590.873L1717.987,1590.691L1716.417,1607.564L1700.849,1607.746ZM1405.140,1610.392L1451.843,1609.847L1450.322,1626.724L1403.628,1627.270ZM1498.545,1609.303L1560.816,1608.577L1559.274,1625.452L1497.016,1626.179ZM1669.789,1607.306L1716.491,1606.761L1714.921,1623.634L1668.227,1624.179ZM1403.700,1626.466L1434.830,1626.103L1433.384,1642.176L1402.260,1642.540ZM1652.737,1623.558L1683.866,1623.194L1682.376,1639.264L1651.252,1639.628ZM1699.431,1623.012L1714.996,1622.830L1713.500,1638.900L1697.938,1639.082Z" fill="#a0a0a0"/>
<path d="M1401.387,1128.700L1432.689,1128.350L1431.180,1145.228L1399.884,1145.578ZM1463.991,1128.000L1479.642,1127.825L1478.124,1144.702L1462.476,1144.877ZM1367.233,1161.200L1382.878,1161.025L1381.378,1177.903L1365.735,1178.079ZM1476.751,1159.972L1508.042,1159.621L1506.518,1176.497L1475.233,1176.849ZM1490.948,1175.869L1522.233,1175.518L1520.707,1192.395L1489.427,1192.746ZM1489.500,1191.943L1520.780,1191.591L1519.253,1208.467L1487.979,1208.820ZM1362.954,1209.425L1378.591,1209.249L1377.091,1226.127L1361.457,1226.304ZM1488.051,1208.016L1519.326,1207.664L1517.799,1224.540L1486.531,1224.893ZM1377.163,1225.324L1392.797,1225.147L1391.294,1242.026L1375.662,1242.202ZM1486.603,1224.089L1502.237,1223.913L1500.714,1240.790L1485.082,1240.966ZM1391.365,1241.222L1406.997,1241.045L1405.491,1257.923L1389.862,1258.100ZM1485.155,1240.162L1500.786,1239.986L1499.263,1256.863L1483.634,1257.039ZM1405.562,1257.120L1421.191,1256.943L1419.682,1273.821L1404.056,1273.998ZM1452.449,1256.589L1483.706,1256.236L1482.186,1273.113L1450.934,1273.467Z" fill="#707070"/>
<path d="M1432.689,1128.350L1463.991,1128.000L1462.476,1144.877L1431.180,1145.228ZM1384.307,1144.950L1399.955,1144.774L1398.452,1161.653L1382.807,1161.828ZM1462.548,1144.073L1478.197,1143.898L1476.679,1160.775L1461.033,1160.951ZM1461.105,1160.147L1476.751,1159.972L1475.233,1176.849L1459.591,1177.025ZM1475.305,1176.045L1490.948,1175.869L1489.427,1192.746L1473.788,1192.922ZM1473.860,1192.119L1489.500,1191.943L1487.979,1208.820L1472.342,1208.996ZM1470.969,1224.266L1486.603,1224.089L1485.082,1240.966L1469.451,1241.143ZM1469.523,1240.339L1485.155,1240.162L1483.634,1257.039L1468.005,1257.216ZM1421.191,1256.943L1452.449,1256.589L1450.934,1273.467L1419.682,1273.821Z" fill="#3c3c3c"/>
<path d="M1399.955,1144.774L1462.548,1144.073L1461.033,1160.951L1398.452,1161.653ZM1365.807,1177.275L1381.449,1177.099L1379.949,1193.978L1364.309,1194.154ZM1364.380,1193.350L1380.020,1193.174L1378.520,1210.053L1362.883,1210.229ZM1392.797,1225.147L1408.431,1224.971L1406.925,1241.849L1391.294,1242.026ZM1455.334,1224.442L1470.969,1224.266L1469.451,1241.143L1453.819,1241.319ZM1406.997,1241.045L1453.892,1240.516L1452.377,1257.393L1405.491,1257.923Z" fill="#b4b4b4"/>
<path d="M1382.878,1161.025L1398.524,1160.849L1397.020,1177.727L1381.378,1177.903ZM1378.591,1209.249L1394.229,1209.073L1392.725,1225.951L1377.091,1226.127Z" fill="#a8a8a8"/>
<path d="M1398.524,1160.849L1414.169,1160.674L1412.663,1177.552L1397.020,1177.727Z" fill="#989898"/>
<path d="M1414.169,1160.674L1445.460,1160.323L1443.948,1177.200L1412.663,1177.552ZM1381.449,1177.099L1397.092,1176.924L1395.589,1193.802L1379.949,1193.978ZM1444.020,1176.397L1459.663,1176.221L1458.148,1193.098L1442.508,1193.274ZM1394.229,1209.073L1456.777,1208.368L1455.262,1225.246L1392.725,1225.951ZM1408.431,1224.971L1439.700,1224.618L1438.188,1241.496L1406.925,1241.849Z" fill="#8c8c8c"/>
<path d="M1397.092,1176.924L1444.020,1176.397L1442.508,1193.274L1395.589,1193.802ZM1380.020,1193.174L1458.220,1192.295L1456.705,1209.172L1378.520,1210.053Z" fill="#7e7e7e"/>
<path d="M1459.663,1176.221L1475.305,1176.045L1473.788,1192.922L1458.148,1193.098ZM1472.414,1208.192L1488.051,1208.016L1486.531,1224.893L1470.896,1225.069ZM1453.892,1240.516L1469.523,1240.339L1468.005,1257.216L1452.377,1257.393Z" fill="#c8c8c8"/>
</g>
<rect x="995.5" y="917" width="178" height="32" rx="5" fill="#000"/>
<text x="1003.2" y="938.8" font-size="21.2" textLength="165.5" lengthAdjust="spacingAndGlyphs" font-weight="bold" fill="#fff">WMG Count: 0</text>
<rect x="983.5" y="903.5" width="750" height="750" fill="none" stroke="#000" stroke-width="3"/>
</g>
</svg></body></html>
